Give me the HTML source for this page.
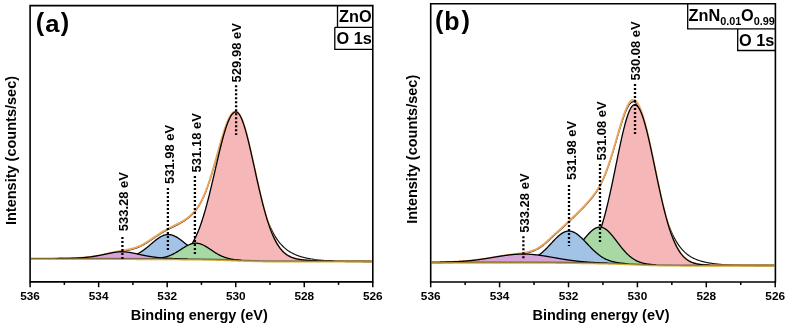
<!DOCTYPE html>
<html><head><meta charset="utf-8"><style>
html,body{margin:0;padding:0;background:#fff;}
svg{display:block;will-change:transform;}
text{font-family:"Liberation Sans",sans-serif;font-weight:bold;fill:#000;}
.lab{font-size:13px;}
.tick{font-size:11.8px;}
.ax{font-size:14.5px;}
.big{font-size:25px;}
.par{font-size:25.3px;}
.box{font-size:16.3px;}
</style></head><body>
<svg width="789" height="328" viewBox="0 0 789 328">
<rect width="789" height="328" fill="#fff"/>
<path d="M31.10,259.37 L31.60,259.37 L32.10,259.36 L32.60,259.36 L33.10,259.36 L33.60,259.36 L34.10,259.36 L34.60,259.36 L35.10,259.36 L35.60,259.36 L36.10,259.36 L36.60,259.35 L37.10,259.35 L37.60,259.35 L38.10,259.35 L38.60,259.35 L39.10,259.35 L39.60,259.35 L40.10,259.34 L40.60,259.34 L41.10,259.34 L41.60,259.34 L42.10,259.34 L42.60,259.33 L43.10,259.33 L43.60,259.33 L44.10,259.33 L44.60,259.33 L45.10,259.32 L45.60,259.32 L46.10,259.32 L46.60,259.32 L47.10,259.31 L47.60,259.31 L48.10,259.31 L48.60,259.31 L49.10,259.30 L49.60,259.30 L50.10,259.30 L50.60,259.29 L51.10,259.29 L51.60,259.29 L52.10,259.28 L52.60,259.28 L53.10,259.28 L53.60,259.27 L54.10,259.27 L54.60,259.26 L55.10,259.26 L55.60,259.26 L56.10,259.25 L56.60,259.25 L57.10,259.24 L57.60,259.24 L58.10,259.23 L58.60,259.22 L59.10,259.22 L59.60,259.21 L60.10,259.21 L60.60,259.20 L61.10,259.19 L61.60,259.19 L62.10,259.18 L62.60,259.17 L63.10,259.16 L63.60,259.15 L64.10,259.15 L64.60,259.14 L65.10,259.13 L65.60,259.12 L66.10,259.11 L66.60,259.10 L67.10,259.08 L67.60,259.07 L68.10,259.06 L68.60,259.05 L69.10,259.04 L69.60,259.02 L70.10,259.01 L70.60,258.99 L71.10,258.98 L71.60,258.96 L72.10,258.94 L72.60,258.93 L73.10,258.91 L73.60,258.89 L74.10,258.87 L74.60,258.85 L75.10,258.83 L75.60,258.80 L76.10,258.78 L76.60,258.76 L77.10,258.73 L77.60,258.70 L78.10,258.68 L78.60,258.65 L79.10,258.62 L79.60,258.59 L80.10,258.55 L80.60,258.52 L81.10,258.49 L81.60,258.45 L82.10,258.41 L82.60,258.37 L83.10,258.33 L83.60,258.29 L84.10,258.25 L84.60,258.20 L85.10,258.16 L85.60,258.11 L86.10,258.06 L86.60,258.01 L87.10,257.96 L87.60,257.90 L88.10,257.85 L88.60,257.79 L89.10,257.73 L89.60,257.67 L90.10,257.61 L90.60,257.54 L91.10,257.48 L91.60,257.41 L92.10,257.34 L92.60,257.26 L93.10,257.19 L93.60,257.11 L94.10,257.04 L94.60,256.96 L95.10,256.88 L95.60,256.79 L96.10,256.71 L96.60,256.62 L97.10,256.53 L97.60,256.44 L98.10,256.35 L98.60,256.26 L99.10,256.16 L99.60,256.06 L100.10,255.97 L100.60,255.87 L101.10,255.76 L101.60,255.66 L102.10,255.56 L102.60,255.45 L103.10,255.34 L103.60,255.23 L104.10,255.13 L104.60,255.01 L105.10,254.90 L105.60,254.79 L106.10,254.68 L106.60,254.56 L107.10,254.45 L107.60,254.33 L108.10,254.22 L108.60,254.10 L109.10,253.99 L109.60,253.87 L110.10,253.75 L110.60,253.64 L111.10,253.52 L111.60,253.41 L112.10,253.29 L112.60,253.18 L113.10,253.06 L113.60,252.95 L114.10,252.84 L114.60,252.73 L115.10,252.62 L115.60,252.52 L116.10,252.41 L116.60,252.31 L117.10,252.20 L117.60,252.10 L118.10,252.01 L118.60,251.91 L119.10,251.81 L119.60,251.72 L120.10,251.63 L120.60,251.54 L121.10,251.45 L121.60,251.36 L122.10,251.27 L122.60,251.19 L123.10,251.10 L123.60,251.02 L124.10,250.94 L124.60,250.85 L125.10,250.77 L125.60,250.68 L126.10,250.60 L126.60,250.51 L127.10,250.42 L127.60,250.33 L128.10,250.23 L128.60,250.14 L129.10,250.04 L129.60,249.93 L130.10,249.83 L130.60,249.72 L131.10,249.60 L131.60,249.48 L132.10,249.35 L132.60,249.22 L133.10,249.09 L133.60,248.94 L134.10,248.79 L134.60,248.64 L135.10,248.48 L135.60,248.31 L136.10,248.13 L136.60,247.95 L137.10,247.76 L137.60,247.57 L138.10,247.37 L138.60,247.16 L139.10,246.94 L139.60,246.72 L140.10,246.49 L140.60,246.25 L141.10,246.01 L141.60,245.76 L142.10,245.51 L142.60,245.24 L143.10,244.98 L143.60,244.70 L144.10,244.42 L144.60,244.14 L145.10,243.85 L145.60,243.55 L146.10,243.25 L146.60,242.94 L147.10,242.63 L147.60,242.32 L148.10,242.00 L148.60,241.68 L149.10,241.35 L149.60,241.03 L150.10,240.70 L150.60,240.36 L151.10,240.03 L151.60,239.69 L152.10,239.35 L152.60,239.01 L153.10,238.67 L153.60,238.33 L154.10,237.99 L154.60,237.65 L155.10,237.30 L155.60,236.96 L156.10,236.62 L156.60,236.29 L157.10,235.95 L157.60,235.62 L158.10,235.28 L158.60,234.95 L159.10,234.63 L159.60,234.30 L160.10,233.98 L160.60,233.66 L161.10,233.35 L161.60,233.04 L162.10,232.73 L162.60,232.43 L163.10,232.13 L163.60,231.84 L164.10,231.55 L164.60,231.26 L165.10,230.98 L165.60,230.70 L166.10,230.43 L166.60,230.16 L167.10,229.90 L167.60,229.63 L168.10,229.38 L168.60,229.12 L169.10,228.87 L169.60,228.62 L170.10,228.37 L170.60,228.12 L171.10,227.88 L171.60,227.63 L172.10,227.39 L172.60,227.14 L173.10,226.90 L173.60,226.65 L174.10,226.40 L174.60,226.16 L175.10,225.91 L175.60,225.66 L176.10,225.41 L176.60,225.16 L177.10,224.90 L177.60,224.65 L178.10,224.39 L178.60,224.12 L179.10,223.86 L179.60,223.59 L180.10,223.31 L180.60,223.04 L181.10,222.75 L181.60,222.47 L182.10,222.17 L182.60,221.88 L183.10,221.57 L183.60,221.26 L184.10,220.95 L184.60,220.63 L185.10,220.29 L185.60,219.96 L186.10,219.61 L186.60,219.26 L187.10,218.89 L187.60,218.52 L188.10,218.13 L188.60,217.74 L189.10,217.33 L189.60,216.91 L190.10,216.48 L190.60,216.04 L191.10,215.58 L191.60,215.10 L192.10,214.61 L192.60,214.11 L193.10,213.58 L193.60,213.04 L194.10,212.48 L194.60,211.89 L195.10,211.29 L195.60,210.66 L196.10,210.01 L196.60,209.34 L197.10,208.64 L197.60,207.92 L198.10,207.17 L198.60,206.39 L199.10,205.58 L199.60,204.75 L200.10,203.88 L200.60,202.98 L201.10,202.05 L201.60,201.09 L202.10,200.09 L202.60,199.07 L203.10,198.00 L203.60,196.91 L204.10,195.77 L204.60,194.61 L205.10,193.40 L205.60,192.17 L206.10,190.89 L206.60,189.59 L207.10,188.24 L207.60,186.87 L208.10,185.46 L208.60,184.01 L209.10,182.54 L209.60,181.03 L210.10,179.49 L210.60,177.92 L211.10,176.33 L211.60,174.70 L212.10,173.06 L212.60,171.38 L213.10,169.69 L213.60,167.97 L214.10,166.24 L214.60,164.49 L215.10,162.73 L215.60,160.96 L216.10,159.17 L216.60,157.38 L217.10,155.59 L217.60,153.79 L218.10,151.99 L218.60,150.20 L219.10,148.42 L219.60,146.64 L220.10,144.88 L220.60,143.13 L221.10,141.40 L221.60,139.70 L222.10,138.01 L222.60,136.36 L223.10,134.74 L223.60,133.15 L224.10,131.60 L224.60,130.08 L225.10,128.62 L225.60,127.19 L226.10,125.82 L226.60,124.50 L227.10,123.23 L227.60,122.02 L228.10,120.87 L228.60,119.78 L229.10,118.75 L229.60,117.79 L230.10,116.90 L230.60,116.09 L231.10,115.34 L231.60,114.67 L232.10,114.07 L232.60,113.56 L233.10,113.12 L233.60,112.76 L234.10,112.48 L234.60,112.28 L235.10,112.17 L235.60,112.14 L236.10,112.20 L236.60,112.38 L237.10,112.71 L237.60,113.17 L238.10,113.76 L238.60,114.48 L239.10,115.34 L239.60,116.32 L240.10,117.41 L240.60,118.63 L241.10,119.95 L241.60,121.39 L242.10,122.91 L242.60,124.54 L243.10,126.25 L243.60,128.04 L244.10,129.90 L244.60,131.83 L245.10,133.82 L245.60,135.87 L246.10,137.96 L246.60,140.10 L247.10,142.27 L247.60,144.47 L248.10,146.70 L248.60,148.95 L249.10,151.21 L249.60,153.48 L250.10,155.75 L250.60,158.03 L251.10,160.31 L251.60,162.58 L252.10,164.84 L252.60,167.08 L253.10,169.31 L253.60,171.52 L254.10,173.72 L254.60,175.88 L255.10,178.03 L255.60,180.14 L256.10,182.23 L256.60,184.29 L257.10,186.32 L257.60,188.32 L258.10,190.28 L258.60,192.21 L259.10,194.10 L259.60,195.96 L260.10,197.78 L260.60,199.57 L261.10,201.32 L261.60,203.04 L262.10,204.72 L262.60,206.36 L263.10,207.96 L263.60,209.53 L264.10,211.06 L264.60,212.56 L265.10,214.02 L265.60,215.44 L266.10,216.83 L266.60,218.18 L267.10,219.50 L267.60,220.79 L268.10,222.04 L268.60,223.25 L269.10,224.44 L269.60,225.59 L270.10,226.71 L270.60,227.79 L271.10,228.85 L271.60,229.88 L272.10,230.87 L272.60,231.84 L273.10,232.78 L273.60,233.69 L274.10,234.58 L274.60,235.43 L275.10,236.26 L275.60,237.07 L276.10,237.85 L276.60,238.61 L277.10,239.34 L277.60,240.05 L278.10,240.74 L278.60,241.40 L279.10,242.05 L279.60,242.67 L280.10,243.28 L280.60,243.86 L281.10,244.42 L281.60,244.97 L282.10,245.50 L282.60,246.01 L283.10,246.51 L283.60,246.98 L284.10,247.45 L284.60,247.89 L285.10,248.33 L285.60,248.74 L286.10,249.15 L286.60,249.54 L287.10,249.92 L287.60,250.28 L288.10,250.64 L288.60,250.98 L289.10,251.31 L289.60,251.63 L290.10,251.94 L290.60,252.24 L291.10,252.53 L291.60,252.81 L292.10,253.08 L292.60,253.34 L293.10,253.59 L293.60,253.84 L294.10,254.08 L294.60,254.31 L295.10,254.53 L295.60,254.74 L296.10,254.95 L296.60,255.16 L297.10,255.35 L297.60,255.54 L298.10,255.72 L298.60,255.90 L299.10,256.07 L299.60,256.24 L300.10,256.40 L300.60,256.56 L301.10,256.71 L301.60,256.86 L302.10,257.00 L302.60,257.14 L303.10,257.28 L303.60,257.41 L304.10,257.54 L304.60,257.66 L305.10,257.78 L305.60,257.90 L306.10,258.01 L306.60,258.12 L307.10,258.22 L307.60,258.33 L308.10,258.43 L308.60,258.53 L309.10,258.62 L309.60,258.71 L310.10,258.80 L310.60,258.89 L311.10,258.97 L311.60,259.06 L312.10,259.14 L312.60,259.21 L313.10,259.29 L313.60,259.36 L314.10,259.43 L314.60,259.50 L315.10,259.57 L315.60,259.64 L316.10,259.70 L316.60,259.76 L317.10,259.82 L317.60,259.88 L318.10,259.94 L318.60,260.00 L319.10,260.05 L319.60,260.10 L320.10,260.15 L320.60,260.20 L321.10,260.25 L321.60,260.30 L322.10,260.34 L322.60,260.39 L323.10,260.43 L323.60,260.47 L324.10,260.52 L324.60,260.56 L325.10,260.59 L325.60,260.63 L326.10,260.67 L326.60,260.70 L327.10,260.74 L327.60,260.77 L328.10,260.81 L328.60,260.84 L329.10,260.87 L329.60,260.90 L330.10,260.93 L330.60,260.96 L331.10,260.98 L331.60,261.01 L332.10,261.04 L332.60,261.06 L333.10,261.09 L333.60,261.11 L334.10,261.14 L334.60,261.16 L335.10,261.18 L335.60,261.20 L336.10,261.22 L336.60,261.24 L337.10,261.26 L337.60,261.28 L338.10,261.30 L338.60,261.32 L339.10,261.34 L339.60,261.35 L340.10,261.37 L340.60,261.39 L341.10,261.40 L341.60,261.42 L342.10,261.43 L342.60,261.45 L343.10,261.46 L343.60,261.48 L344.10,261.49 L344.60,261.50 L345.10,261.51 L345.60,261.53 L346.10,261.54 L346.60,261.55 L347.10,261.56 L347.60,261.57 L348.10,261.58 L348.60,261.59 L349.10,261.60 L349.60,261.61 L350.10,261.62 L350.60,261.63 L351.10,261.64 L351.60,261.65 L352.10,261.65 L352.60,261.66 L353.10,261.67 L353.60,261.68 L354.10,261.68 L354.60,261.69 L355.10,261.70 L355.60,261.70 L356.10,261.71 L356.60,261.72 L357.10,261.72 L357.60,261.73 L358.10,261.73 L358.60,261.74 L359.10,261.75 L359.60,261.75 L360.10,261.76 L360.60,261.76 L361.10,261.76 L361.60,261.77 L362.10,261.77 L362.60,261.78 L363.10,261.78 L363.60,261.79 L364.10,261.79 L364.60,261.79 L365.10,261.80 L365.60,261.80 L366.10,261.80 L366.60,261.81 L367.10,261.81 L367.60,261.81 L368.10,261.82 L368.60,261.82 L369.10,261.82 L369.60,261.83 L370.10,261.83 L370.60,261.83 L371.10,261.83 L371.60,261.84" fill="none" stroke="#151515" stroke-width="1.2"/>
<path d="M31.10,258.67 L31.60,258.67 L32.10,258.66 L32.60,258.66 L33.10,258.66 L33.60,258.66 L34.10,258.66 L34.60,258.66 L35.10,258.66 L35.60,258.66 L36.10,258.66 L36.60,258.65 L37.10,258.65 L37.60,258.65 L38.10,258.65 L38.60,258.65 L39.10,258.65 L39.60,258.65 L40.10,258.64 L40.60,258.64 L41.10,258.64 L41.60,258.64 L42.10,258.64 L42.60,258.63 L43.10,258.63 L43.60,258.63 L44.10,258.63 L44.60,258.63 L45.10,258.62 L45.60,258.62 L46.10,258.62 L46.60,258.62 L47.10,258.61 L47.60,258.61 L48.10,258.61 L48.60,258.61 L49.10,258.60 L49.60,258.60 L50.10,258.60 L50.60,258.59 L51.10,258.59 L51.60,258.59 L52.10,258.58 L52.60,258.58 L53.10,258.58 L53.60,258.57 L54.10,258.57 L54.60,258.56 L55.10,258.56 L55.60,258.56 L56.10,258.55 L56.60,258.55 L57.10,258.54 L57.60,258.54 L58.10,258.53 L58.60,258.52 L59.10,258.52 L59.60,258.51 L60.10,258.51 L60.60,258.50 L61.10,258.49 L61.60,258.49 L62.10,258.48 L62.60,258.47 L63.10,258.46 L63.60,258.45 L64.10,258.45 L64.60,258.44 L65.10,258.43 L65.60,258.42 L66.10,258.41 L66.60,258.40 L67.10,258.38 L67.60,258.37 L68.10,258.36 L68.60,258.35 L69.10,258.34 L69.60,258.32 L70.10,258.31 L70.60,258.29 L71.10,258.28 L71.60,258.26 L72.10,258.24 L72.60,258.23 L73.10,258.21 L73.60,258.19 L74.10,258.17 L74.60,258.15 L75.10,258.13 L75.60,258.10 L76.10,258.08 L76.60,258.06 L77.10,258.03 L77.60,258.00 L78.10,257.98 L78.60,257.95 L79.10,257.92 L79.60,257.89 L80.10,257.85 L80.60,257.82 L81.10,257.79 L81.60,257.75 L82.10,257.71 L82.60,257.67 L83.10,257.63 L83.60,257.59 L84.10,257.55 L84.60,257.50 L85.10,257.46 L85.60,257.41 L86.10,257.36 L86.60,257.31 L87.10,257.26 L87.60,257.20 L88.10,257.15 L88.60,257.09 L89.10,257.03 L89.60,256.97 L90.10,256.91 L90.60,256.84 L91.10,256.78 L91.60,256.71 L92.10,256.64 L92.60,256.56 L93.10,256.49 L93.60,256.41 L94.10,256.34 L94.60,256.26 L95.10,256.18 L95.60,256.09 L96.10,256.01 L96.60,255.92 L97.10,255.83 L97.60,255.74 L98.10,255.65 L98.60,255.56 L99.10,255.46 L99.60,255.36 L100.10,255.27 L100.60,255.17 L101.10,255.06 L101.60,254.96 L102.10,254.86 L102.60,254.75 L103.10,254.64 L103.60,254.53 L104.10,254.43 L104.60,254.31 L105.10,254.20 L105.60,254.09 L106.10,253.98 L106.60,253.86 L107.10,253.75 L107.60,253.63 L108.10,253.52 L108.60,253.40 L109.10,253.29 L109.60,253.17 L110.10,253.05 L110.60,252.94 L111.10,252.82 L111.60,252.71 L112.10,252.59 L112.60,252.48 L113.10,252.36 L113.60,252.25 L114.10,252.14 L114.60,252.03 L115.10,251.92 L115.60,251.82 L116.10,251.71 L116.60,251.61 L117.10,251.50 L117.60,251.40 L118.10,251.31 L118.60,251.21 L119.10,251.11 L119.60,251.02 L120.10,250.93 L120.60,250.84 L121.10,250.75 L121.60,250.66 L122.10,250.57 L122.60,250.49 L123.10,250.40 L123.60,250.32 L124.10,250.24 L124.60,250.15 L125.10,250.07 L125.60,249.98 L126.10,249.90 L126.60,249.81 L127.10,249.72 L127.60,249.63 L128.10,249.53 L128.60,249.44 L129.10,249.34 L129.60,249.23 L130.10,249.13 L130.60,249.02 L131.10,248.90 L131.60,248.78 L132.10,248.65 L132.60,248.52 L133.10,248.39 L133.60,248.24 L134.10,248.09 L134.60,247.94 L135.10,247.78 L135.60,247.61 L136.10,247.43 L136.60,247.25 L137.10,247.06 L137.60,246.87 L138.10,246.67 L138.60,246.46 L139.10,246.24 L139.60,246.02 L140.10,245.79 L140.60,245.55 L141.10,245.31 L141.60,245.06 L142.10,244.81 L142.60,244.54 L143.10,244.28 L143.60,244.00 L144.10,243.72 L144.60,243.44 L145.10,243.15 L145.60,242.85 L146.10,242.55 L146.60,242.24 L147.10,241.93 L147.60,241.62 L148.10,241.30 L148.60,240.98 L149.10,240.65 L149.60,240.33 L150.10,240.00 L150.60,239.66 L151.10,239.33 L151.60,238.99 L152.10,238.65 L152.60,238.31 L153.10,237.97 L153.60,237.63 L154.10,237.29 L154.60,236.95 L155.10,236.60 L155.60,236.26 L156.10,235.92 L156.60,235.59 L157.10,235.25 L157.60,234.92 L158.10,234.58 L158.60,234.25 L159.10,233.93 L159.60,233.60 L160.10,233.28 L160.60,232.96 L161.10,232.65 L161.60,232.34 L162.10,232.03 L162.60,231.73 L163.10,231.43 L163.60,231.14 L164.10,230.85 L164.60,230.56 L165.10,230.28 L165.60,230.00 L166.10,229.73 L166.60,229.46 L167.10,229.20 L167.60,228.93 L168.10,228.68 L168.60,228.42 L169.10,228.17 L169.60,227.92 L170.10,227.67 L170.60,227.42 L171.10,227.18 L171.60,226.93 L172.10,226.69 L172.60,226.44 L173.10,226.20 L173.60,225.95 L174.10,225.70 L174.60,225.46 L175.10,225.21 L175.60,224.96 L176.10,224.71 L176.60,224.46 L177.10,224.20 L177.60,223.95 L178.10,223.69 L178.60,223.42 L179.10,223.16 L179.60,222.89 L180.10,222.61 L180.60,222.34 L181.10,222.05 L181.60,221.77 L182.10,221.47 L182.60,221.18 L183.10,220.87 L183.60,220.56 L184.10,220.25 L184.60,219.93 L185.10,219.59 L185.60,219.26 L186.10,218.91 L186.60,218.56 L187.10,218.19 L187.60,217.82 L188.10,217.43 L188.60,217.04 L189.10,216.63 L189.60,216.21 L190.10,215.78 L190.60,215.34 L191.10,214.88 L191.60,214.40 L192.10,213.91 L192.60,213.41 L193.10,212.88 L193.60,212.34 L194.10,211.78 L194.60,211.19 L195.10,210.59 L195.60,209.96 L196.10,209.31 L196.60,208.64 L197.10,207.94 L197.60,207.22 L198.10,206.47 L198.60,205.69 L199.10,204.88 L199.60,204.05 L200.10,203.18 L200.60,202.28 L201.10,201.35 L201.60,200.39 L202.10,199.39 L202.60,198.37 L203.10,197.30 L203.60,196.21 L204.10,195.07 L204.60,193.91 L205.10,192.70 L205.60,191.47 L206.10,190.19 L206.60,188.89 L207.10,187.54 L207.60,186.17 L208.10,184.76 L208.60,183.31 L209.10,181.84 L209.60,180.33 L210.10,178.79 L210.60,177.22 L211.10,175.63 L211.60,174.00 L212.10,172.36 L212.60,170.68 L213.10,168.99 L213.60,167.27 L214.10,165.54 L214.60,163.79 L215.10,162.03 L215.60,160.26 L216.10,158.47 L216.60,156.68 L217.10,154.89 L217.60,153.09 L218.10,151.29 L218.60,149.50 L219.10,147.72 L219.60,145.94 L220.10,144.18 L220.60,142.43 L221.10,140.70 L221.60,139.00 L222.10,137.31 L222.60,135.66 L223.10,134.04 L223.60,132.45 L224.10,130.90 L224.60,129.38 L225.10,127.92 L225.60,126.49 L226.10,125.12 L226.60,123.80 L227.10,122.53 L227.60,121.32 L228.10,120.17 L228.60,119.08 L229.10,118.05 L229.60,117.09 L230.10,116.20 L230.60,115.39 L231.10,114.64 L231.60,113.97 L232.10,113.37 L232.60,112.86 L233.10,112.42 L233.60,112.06 L234.10,111.78 L234.60,111.58 L235.10,111.47 L235.60,111.44 L236.10,111.49 L236.60,111.65 L237.10,111.91 L237.60,112.26 L238.10,112.72 L238.60,113.29 L239.10,113.95 L239.60,114.70 L240.10,115.56 L240.60,116.51 L241.10,117.55 L241.60,118.67 L242.10,119.89 L242.60,121.19 L243.10,122.57 L243.60,124.03 L244.10,125.56 L244.60,127.17 L245.10,128.84 L245.60,130.57 L246.10,132.37 L246.60,134.22 L247.10,136.13 L247.60,138.09 L248.10,140.09 L248.60,142.13 L249.10,144.22 L249.60,146.34 L250.10,148.49 L250.60,150.66 L251.10,152.87 L251.60,155.09 L252.10,157.33 L252.60,159.59 L253.10,161.85 L253.60,164.13 L254.10,166.41 L254.60,168.69 L255.10,170.97 L255.60,173.24 L256.10,175.51 L256.60,177.77 L257.10,180.01 L257.60,182.25 L258.10,184.46 L258.60,186.66 L259.10,188.84 L259.60,190.99 L260.10,193.12 L260.60,195.22 L261.10,197.29 L261.60,199.34 L262.10,201.35 L262.60,203.33 L263.10,205.27 L263.60,207.18 L264.10,209.05 L264.60,210.89 L265.10,212.69 L265.60,214.45 L266.10,216.17 L266.60,217.85 L267.10,219.49 L267.60,221.08 L268.10,222.64 L268.60,224.16 L269.10,225.64 L269.60,227.07 L270.10,228.46 L270.60,229.81 L271.10,231.13 L271.60,232.40 L272.10,233.63 L272.60,234.82 L273.10,235.97 L273.60,237.08 L274.10,238.15 L274.60,239.19 L275.10,240.19 L275.60,241.15 L276.10,242.07 L276.60,242.96 L277.10,243.82 L277.60,244.64 L278.10,245.43 L278.60,246.19 L279.10,246.91 L279.60,247.61 L280.10,248.27 L280.60,248.91 L281.10,249.52 L281.60,250.10 L282.10,250.66 L282.60,251.19 L283.10,251.70 L283.60,252.18 L284.10,252.64 L284.60,253.08 L285.10,253.49 L285.60,253.89 L286.10,254.27 L286.60,254.63 L287.10,254.97 L287.60,255.29 L288.10,255.60 L288.60,255.89 L289.10,256.16 L289.60,256.42 L290.10,256.67 L290.60,256.90 L291.10,257.13 L291.60,257.34 L292.10,257.53 L292.60,257.72 L293.10,257.90 L293.60,258.07 L294.10,258.23 L294.60,258.38 L295.10,258.52 L295.60,258.65 L296.10,258.78 L296.60,258.90 L297.10,259.01 L297.60,259.11 L298.10,259.21 L298.60,259.31 L299.10,259.40 L299.60,259.48 L300.10,259.56 L300.60,259.64 L301.10,259.71 L301.60,259.77 L302.10,259.84 L302.60,259.90 L303.10,259.95 L303.60,260.01 L304.10,260.06 L304.60,260.10 L305.10,260.15 L305.60,260.19 L306.10,260.23 L306.60,260.27 L307.10,260.31 L307.60,260.34 L308.10,260.37 L308.60,260.41 L309.10,260.44 L309.60,260.46 L310.10,260.49 L310.60,260.52 L311.10,260.54 L311.60,260.56 L312.10,260.59 L312.60,260.61 L313.10,260.63 L313.60,260.65 L314.10,260.67 L314.60,260.68 L315.10,260.70 L315.60,260.72 L316.10,260.73 L316.60,260.75 L317.10,260.76 L317.60,260.78 L318.10,260.79 L318.60,260.80 L319.10,260.81 L319.60,260.83 L320.10,260.84 L320.60,260.85 L321.10,260.86 L321.60,260.87 L322.10,260.88 L322.60,260.89 L323.10,260.90 L323.60,260.91 L324.10,260.92 L324.60,260.93 L325.10,260.93 L325.60,260.94 L326.10,260.95 L326.60,260.96 L327.10,260.96 L327.60,260.97 L328.10,260.98 L328.60,260.99 L329.10,260.99 L329.60,261.00 L330.10,261.00 L330.60,261.01 L331.10,261.02 L331.60,261.02 L332.10,261.03 L332.60,261.03 L333.10,261.04 L333.60,261.04 L334.10,261.05 L334.60,261.05 L335.10,261.06 L335.60,261.06 L336.10,261.06 L336.60,261.07 L337.10,261.07 L337.60,261.08 L338.10,261.08 L338.60,261.08 L339.10,261.09 L339.60,261.09 L340.10,261.09 L340.60,261.10 L341.10,261.10 L341.60,261.10 L342.10,261.11 L342.60,261.11 L343.10,261.11 L343.60,261.11 L344.10,261.12 L344.60,261.12 L345.10,261.12 L345.60,261.12 L346.10,261.13 L346.60,261.13 L347.10,261.13 L347.60,261.13 L348.10,261.14 L348.60,261.14 L349.10,261.14 L349.60,261.14 L350.10,261.14 L350.60,261.15 L351.10,261.15 L351.60,261.15 L352.10,261.15 L352.60,261.15 L353.10,261.15 L353.60,261.16 L354.10,261.16 L354.60,261.16 L355.10,261.16 L355.60,261.16 L356.10,261.16 L356.60,261.16 L357.10,261.16 L357.60,261.17 L358.10,261.17 L358.60,261.17 L359.10,261.17 L359.60,261.17 L360.10,261.17 L360.60,261.17 L361.10,261.17 L361.60,261.17 L362.10,261.17 L362.60,261.18 L363.10,261.18 L363.60,261.18 L364.10,261.18 L364.60,261.18 L365.10,261.18 L365.60,261.18 L366.10,261.18 L366.60,261.18 L367.10,261.18 L367.60,261.18 L368.10,261.18 L368.60,261.18 L369.10,261.18 L369.60,261.19 L370.10,261.19 L370.60,261.19 L371.10,261.19 L371.60,261.19" fill="none" stroke="#EBA55C" stroke-width="1.9"/>
<path d="M159.60,258.71 L160.10,258.70 L160.60,258.69 L161.10,258.67 L161.60,258.66 L162.10,258.64 L162.60,258.62 L163.10,258.60 L163.60,258.58 L164.10,258.55 L164.60,258.52 L165.10,258.49 L165.60,258.46 L166.10,258.43 L166.60,258.39 L167.10,258.35 L167.60,258.30 L168.10,258.26 L168.60,258.20 L169.10,258.15 L169.60,258.09 L170.10,258.02 L170.60,257.95 L171.10,257.88 L171.60,257.80 L172.10,257.71 L172.60,257.62 L173.10,257.52 L173.60,257.41 L174.10,257.30 L174.60,257.18 L175.10,257.05 L175.60,256.91 L176.10,256.76 L176.60,256.61 L177.10,256.44 L177.60,256.26 L178.10,256.07 L178.60,255.87 L179.10,255.66 L179.60,255.43 L180.10,255.19 L180.60,254.94 L181.10,254.67 L181.60,254.38 L182.10,254.08 L182.60,253.76 L183.10,253.43 L183.60,253.08 L184.10,252.70 L184.60,252.31 L185.10,251.90 L185.60,251.47 L186.10,251.01 L186.60,250.53 L187.10,250.03 L187.60,249.50 L188.10,248.95 L188.60,248.37 L189.10,247.77 L189.60,247.14 L190.10,246.48 L190.60,245.79 L191.10,245.07 L191.60,244.32 L192.10,243.54 L192.60,242.73 L193.10,241.88 L193.60,241.00 L194.10,240.09 L194.60,239.14 L195.10,238.16 L195.60,237.14 L196.10,236.09 L196.60,234.99 L197.10,233.86 L197.60,232.70 L198.10,231.49 L198.60,230.25 L199.10,228.97 L199.60,227.65 L200.10,226.29 L200.60,224.90 L201.10,223.46 L201.60,221.99 L202.10,220.47 L202.60,218.92 L203.10,217.34 L203.60,215.71 L204.10,214.05 L204.60,212.35 L205.10,210.61 L205.60,208.84 L206.10,207.04 L206.60,205.20 L207.10,203.33 L207.60,201.43 L208.10,199.51 L208.60,197.55 L209.10,195.56 L209.60,193.55 L210.10,191.52 L210.60,189.46 L211.10,187.38 L211.60,185.29 L212.10,183.18 L212.60,181.05 L213.10,178.91 L213.60,176.76 L214.10,174.61 L214.60,172.44 L215.10,170.28 L215.60,168.11 L216.10,165.95 L216.60,163.79 L217.10,161.63 L217.60,159.49 L218.10,157.36 L218.60,155.25 L219.10,153.15 L219.60,151.08 L220.10,149.03 L220.60,147.01 L221.10,145.01 L221.60,143.05 L222.10,141.13 L222.60,139.25 L223.10,137.40 L223.60,135.60 L224.10,133.85 L224.60,132.15 L225.10,130.50 L225.60,128.90 L226.10,127.37 L226.60,125.89 L227.10,124.48 L227.60,123.13 L228.10,121.85 L228.60,120.64 L229.10,119.50 L229.60,118.44 L230.10,117.45 L230.60,116.53 L231.10,115.70 L231.60,114.94 L232.10,114.27 L232.60,113.68 L233.10,113.18 L233.60,112.76 L234.10,112.42 L234.60,112.17 L235.10,112.01 L235.60,111.93 L236.10,111.94 L236.60,112.06 L237.10,112.28 L237.60,112.60 L238.10,113.03 L238.60,113.57 L239.10,114.20 L239.60,114.94 L240.10,115.77 L240.60,116.70 L241.10,117.72 L241.60,118.83 L242.10,120.03 L242.60,121.32 L243.10,122.69 L243.60,124.13 L244.10,125.65 L244.60,127.25 L245.10,128.91 L245.60,130.64 L246.10,132.43 L246.60,134.28 L247.10,136.18 L247.60,138.13 L248.10,140.13 L248.60,142.17 L249.10,144.25 L249.60,146.36 L250.10,148.51 L250.60,150.69 L251.10,152.89 L251.60,155.11 L252.10,157.35 L252.60,159.60 L253.10,161.87 L253.60,164.14 L254.10,166.42 L254.60,168.69 L255.10,170.97 L255.60,173.25 L256.10,175.52 L256.60,177.77 L257.10,180.02 L257.60,182.25 L258.10,184.47 L258.60,186.66 L259.10,188.84 L259.60,190.99 L260.10,193.12 L260.60,195.22 L261.10,197.30 L261.60,199.34 L262.10,201.35 L262.60,203.33 L263.10,205.27 L263.60,207.18 L264.10,209.05 L264.60,210.89 L265.10,212.69 L265.60,214.45 L266.10,216.17 L266.60,217.85 L267.10,219.49 L267.60,221.09 L268.10,222.64 L268.60,224.16 L269.10,225.64 L269.60,227.07 L270.10,228.46 L270.60,229.82 L271.10,231.13 L271.60,232.40 L272.10,233.63 L272.60,234.82 L273.10,235.97 L273.60,237.08 L274.10,238.15 L274.60,239.19 L275.10,240.19 L275.60,241.15 L276.10,242.07 L276.60,242.96 L277.10,243.82 L277.60,244.64 L278.10,245.43 L278.60,246.19 L279.10,246.91 L279.60,247.61 L280.10,248.27 L280.60,248.91 L281.10,249.52 L281.60,250.10 L282.10,250.66 L282.60,251.19 L283.10,251.70 L283.60,252.18 L284.10,252.64 L284.60,253.08 L285.10,253.49 L285.60,253.89 L286.10,254.27 L286.60,254.63 L287.10,254.97 L287.60,255.29 L288.10,255.60 L288.60,255.89 L289.10,256.16 L289.60,256.42 L290.10,256.67 L290.60,256.90 L291.10,257.13 L291.60,257.34 L292.10,257.53 L292.60,257.72 L293.10,257.90 L293.60,258.07 L294.10,258.23 L294.60,258.38 L295.10,258.52 L295.60,258.65 L296.10,258.78 L296.60,258.90 L297.10,259.01 L297.60,259.11 L298.10,259.21 L298.60,259.31 L299.10,259.40 L299.60,259.48 L300.10,259.56 L300.60,259.64 L301.10,259.71 L301.60,259.77 L302.10,259.84 L302.60,259.90 L303.10,259.95 L303.60,260.01 L304.10,260.06 L304.60,260.10 L305.10,260.15 L305.60,260.19 L306.10,260.23 L306.60,260.27 L307.10,260.31 L307.60,260.34 L308.10,260.37 L308.60,260.41 L309.10,260.44 L309.60,260.46 L310.10,260.49 L310.60,260.52 L311.10,260.54 L311.60,260.56 L312.10,260.59 L312.60,260.61 L313.10,260.63 L313.60,260.65 L314.10,260.67 L314.60,260.68 L315.10,260.70 L315.60,260.72 L316.10,260.73 L316.60,260.75 L317.10,260.76 L317.60,260.78 L318.10,260.79 L318.60,260.80 L319.10,260.81 L319.60,260.83 L320.10,260.84 L320.60,260.85 L321.10,260.86 L321.60,260.87 L322.10,260.88 L322.60,260.89 L323.10,260.90 L323.60,260.91 L324.10,260.92 L324.60,260.93 L325.10,260.93 L325.60,260.94 L326.10,260.95 L326.60,260.96 L327.10,260.96 L327.60,260.97 L328.10,260.98 L328.60,260.99 L329.10,260.99 L329.60,261.00 L330.10,261.00 L330.60,261.01 L331.10,261.02 L331.60,261.02 L332.10,261.03 L332.60,261.03 L333.10,261.04 L333.60,261.04 L334.10,261.05 L334.10,261.20 L159.60,258.87 Z" fill="#F5B7B7" stroke="none"/>
<path d="M159.60,258.71 L160.10,258.70 L160.60,258.69 L161.10,258.67 L161.60,258.66 L162.10,258.64 L162.60,258.62 L163.10,258.60 L163.60,258.58 L164.10,258.55 L164.60,258.52 L165.10,258.49 L165.60,258.46 L166.10,258.43 L166.60,258.39 L167.10,258.35 L167.60,258.30 L168.10,258.26 L168.60,258.20 L169.10,258.15 L169.60,258.09 L170.10,258.02 L170.60,257.95 L171.10,257.88 L171.60,257.80 L172.10,257.71 L172.60,257.62 L173.10,257.52 L173.60,257.41 L174.10,257.30 L174.60,257.18 L175.10,257.05 L175.60,256.91 L176.10,256.76 L176.60,256.61 L177.10,256.44 L177.60,256.26 L178.10,256.07 L178.60,255.87 L179.10,255.66 L179.60,255.43 L180.10,255.19 L180.60,254.94 L181.10,254.67 L181.60,254.38 L182.10,254.08 L182.60,253.76 L183.10,253.43 L183.60,253.08 L184.10,252.70 L184.60,252.31 L185.10,251.90 L185.60,251.47 L186.10,251.01 L186.60,250.53 L187.10,250.03 L187.60,249.50 L188.10,248.95 L188.60,248.37 L189.10,247.77 L189.60,247.14 L190.10,246.48 L190.60,245.79 L191.10,245.07 L191.60,244.32 L192.10,243.54 L192.60,242.73 L193.10,241.88 L193.60,241.00 L194.10,240.09 L194.60,239.14 L195.10,238.16 L195.60,237.14 L196.10,236.09 L196.60,234.99 L197.10,233.86 L197.60,232.70 L198.10,231.49 L198.60,230.25 L199.10,228.97 L199.60,227.65 L200.10,226.29 L200.60,224.90 L201.10,223.46 L201.60,221.99 L202.10,220.47 L202.60,218.92 L203.10,217.34 L203.60,215.71 L204.10,214.05 L204.60,212.35 L205.10,210.61 L205.60,208.84 L206.10,207.04 L206.60,205.20 L207.10,203.33 L207.60,201.43 L208.10,199.51 L208.60,197.55 L209.10,195.56 L209.60,193.55 L210.10,191.52 L210.60,189.46 L211.10,187.38 L211.60,185.29 L212.10,183.18 L212.60,181.05 L213.10,178.91 L213.60,176.76 L214.10,174.61 L214.60,172.44 L215.10,170.28 L215.60,168.11 L216.10,165.95 L216.60,163.79 L217.10,161.63 L217.60,159.49 L218.10,157.36 L218.60,155.25 L219.10,153.15 L219.60,151.08 L220.10,149.03 L220.60,147.01 L221.10,145.01 L221.60,143.05 L222.10,141.13 L222.60,139.25 L223.10,137.40 L223.60,135.60 L224.10,133.85 L224.60,132.15 L225.10,130.50 L225.60,128.90 L226.10,127.37 L226.60,125.89 L227.10,124.48 L227.60,123.13 L228.10,121.85 L228.60,120.64 L229.10,119.50 L229.60,118.44 L230.10,117.45 L230.60,116.53 L231.10,115.70 L231.60,114.94 L232.10,114.27 L232.60,113.68 L233.10,113.18 L233.60,112.76 L234.10,112.42 L234.60,112.17 L235.10,112.01 L235.60,111.93 L236.10,111.94 L236.60,112.06 L237.10,112.28 L237.60,112.60 L238.10,113.03 L238.60,113.57 L239.10,114.20 L239.60,114.94 L240.10,115.77 L240.60,116.70 L241.10,117.72 L241.60,118.83 L242.10,120.03 L242.60,121.32 L243.10,122.69 L243.60,124.13 L244.10,125.65 L244.60,127.25 L245.10,128.91 L245.60,130.64 L246.10,132.43 L246.60,134.28 L247.10,136.18 L247.60,138.13 L248.10,140.13 L248.60,142.17 L249.10,144.25 L249.60,146.36 L250.10,148.51 L250.60,150.69 L251.10,152.89 L251.60,155.11 L252.10,157.35 L252.60,159.60 L253.10,161.87 L253.60,164.14 L254.10,166.42 L254.60,168.69 L255.10,170.97 L255.60,173.25 L256.10,175.52 L256.60,177.77 L257.10,180.02 L257.60,182.25 L258.10,184.47 L258.60,186.66 L259.10,188.84 L259.60,190.99 L260.10,193.12 L260.60,195.22 L261.10,197.30 L261.60,199.34 L262.10,201.35 L262.60,203.33 L263.10,205.27 L263.60,207.18 L264.10,209.05 L264.60,210.89 L265.10,212.69 L265.60,214.45 L266.10,216.17 L266.60,217.85 L267.10,219.49 L267.60,221.09 L268.10,222.64 L268.60,224.16 L269.10,225.64 L269.60,227.07 L270.10,228.46 L270.60,229.82 L271.10,231.13 L271.60,232.40 L272.10,233.63 L272.60,234.82 L273.10,235.97 L273.60,237.08 L274.10,238.15 L274.60,239.19 L275.10,240.19 L275.60,241.15 L276.10,242.07 L276.60,242.96 L277.10,243.82 L277.60,244.64 L278.10,245.43 L278.60,246.19 L279.10,246.91 L279.60,247.61 L280.10,248.27 L280.60,248.91 L281.10,249.52 L281.60,250.10 L282.10,250.66 L282.60,251.19 L283.10,251.70 L283.60,252.18 L284.10,252.64 L284.60,253.08 L285.10,253.49 L285.60,253.89 L286.10,254.27 L286.60,254.63 L287.10,254.97 L287.60,255.29 L288.10,255.60 L288.60,255.89 L289.10,256.16 L289.60,256.42 L290.10,256.67 L290.60,256.90 L291.10,257.13 L291.60,257.34 L292.10,257.53 L292.60,257.72 L293.10,257.90 L293.60,258.07 L294.10,258.23 L294.60,258.38 L295.10,258.52 L295.60,258.65 L296.10,258.78 L296.60,258.90 L297.10,259.01 L297.60,259.11 L298.10,259.21 L298.60,259.31 L299.10,259.40 L299.60,259.48 L300.10,259.56 L300.60,259.64 L301.10,259.71 L301.60,259.77 L302.10,259.84 L302.60,259.90 L303.10,259.95 L303.60,260.01 L304.10,260.06 L304.60,260.10 L305.10,260.15 L305.60,260.19 L306.10,260.23 L306.60,260.27 L307.10,260.31 L307.60,260.34 L308.10,260.37 L308.60,260.41 L309.10,260.44 L309.60,260.46 L310.10,260.49 L310.60,260.52 L311.10,260.54 L311.60,260.56 L312.10,260.59 L312.60,260.61 L313.10,260.63 L313.60,260.65 L314.10,260.67 L314.60,260.68 L315.10,260.70 L315.60,260.72 L316.10,260.73 L316.60,260.75 L317.10,260.76 L317.60,260.78 L318.10,260.79 L318.60,260.80 L319.10,260.81 L319.60,260.83 L320.10,260.84 L320.60,260.85 L321.10,260.86 L321.60,260.87 L322.10,260.88 L322.60,260.89 L323.10,260.90 L323.60,260.91 L324.10,260.92 L324.60,260.93 L325.10,260.93 L325.60,260.94 L326.10,260.95 L326.60,260.96 L327.10,260.96 L327.60,260.97 L328.10,260.98 L328.60,260.99 L329.10,260.99 L329.60,261.00 L330.10,261.00 L330.60,261.01 L331.10,261.02 L331.60,261.02 L332.10,261.03 L332.60,261.03 L333.10,261.04 L333.60,261.04 L334.10,261.05" fill="none" stroke="#000" stroke-width="1.3" stroke-linejoin="round"/>
<path d="M113.60,258.57 L114.10,258.56 L114.60,258.55 L115.10,258.53 L115.60,258.51 L116.10,258.49 L116.60,258.47 L117.10,258.45 L117.60,258.42 L118.10,258.39 L118.60,258.36 L119.10,258.33 L119.60,258.30 L120.10,258.26 L120.60,258.22 L121.10,258.18 L121.60,258.13 L122.10,258.08 L122.60,258.03 L123.10,257.98 L123.60,257.92 L124.10,257.85 L124.60,257.78 L125.10,257.71 L125.60,257.63 L126.10,257.55 L126.60,257.46 L127.10,257.37 L127.60,257.27 L128.10,257.17 L128.60,257.06 L129.10,256.94 L129.60,256.82 L130.10,256.69 L130.60,256.56 L131.10,256.41 L131.60,256.26 L132.10,256.10 L132.60,255.94 L133.10,255.76 L133.60,255.58 L134.10,255.39 L134.60,255.19 L135.10,254.99 L135.60,254.77 L136.10,254.55 L136.60,254.31 L137.10,254.07 L137.60,253.82 L138.10,253.56 L138.60,253.29 L139.10,253.01 L139.60,252.72 L140.10,252.42 L140.60,252.12 L141.10,251.80 L141.60,251.48 L142.10,251.15 L142.60,250.80 L143.10,250.45 L143.60,250.10 L144.10,249.73 L144.60,249.36 L145.10,248.98 L145.60,248.59 L146.10,248.20 L146.60,247.80 L147.10,247.39 L147.60,246.99 L148.10,246.57 L148.60,246.15 L149.10,245.73 L149.60,245.31 L150.10,244.88 L150.60,244.46 L151.10,244.03 L151.60,243.60 L152.10,243.17 L152.60,242.75 L153.10,242.32 L153.60,241.90 L154.10,241.49 L154.60,241.08 L155.10,240.67 L155.60,240.27 L156.10,239.88 L156.60,239.49 L157.10,239.12 L157.60,238.75 L158.10,238.40 L158.60,238.05 L159.10,237.72 L159.60,237.40 L160.10,237.10 L160.60,236.80 L161.10,236.53 L161.60,236.27 L162.10,236.02 L162.60,235.79 L163.10,235.58 L163.60,235.39 L164.10,235.22 L164.60,235.06 L165.10,234.93 L165.60,234.81 L166.10,234.71 L166.60,234.64 L167.10,234.58 L167.60,234.55 L168.10,234.53 L168.60,234.54 L169.10,234.56 L169.60,234.60 L170.10,234.67 L170.60,234.75 L171.10,234.85 L171.60,234.97 L172.10,235.11 L172.60,235.26 L173.10,235.44 L173.60,235.63 L174.10,235.83 L174.60,236.06 L175.10,236.29 L175.60,236.55 L176.10,236.82 L176.60,237.10 L177.10,237.40 L177.60,237.71 L178.10,238.03 L178.60,238.36 L179.10,238.70 L179.60,239.06 L180.10,239.42 L180.60,239.79 L181.10,240.17 L181.60,240.56 L182.10,240.95 L182.60,241.35 L183.10,241.76 L183.60,242.17 L184.10,242.58 L184.60,242.99 L185.10,243.41 L185.60,243.83 L186.10,244.25 L186.60,244.67 L187.10,245.09 L187.60,245.51 L188.10,245.92 L188.60,246.34 L189.10,246.75 L189.60,247.15 L190.10,247.56 L190.60,247.96 L191.10,248.35 L191.60,248.74 L192.10,249.12 L192.60,249.50 L193.10,249.87 L193.60,250.23 L194.10,250.59 L194.60,250.94 L195.10,251.28 L195.60,251.62 L196.10,251.94 L196.60,252.26 L197.10,252.57 L197.60,252.87 L198.10,253.17 L198.60,253.45 L199.10,253.73 L199.60,254.00 L200.10,254.26 L200.60,254.51 L201.10,254.75 L201.60,254.99 L202.10,255.21 L202.60,255.43 L203.10,255.64 L203.60,255.85 L204.10,256.04 L204.60,256.23 L205.10,256.41 L205.60,256.58 L206.10,256.75 L206.60,256.91 L207.10,257.06 L207.60,257.20 L208.10,257.34 L208.60,257.48 L209.10,257.60 L209.60,257.73 L210.10,257.84 L210.60,257.95 L211.10,258.06 L211.60,258.16 L212.10,258.25 L212.60,258.35 L213.10,258.43 L213.60,258.52 L214.10,258.59 L214.60,258.67 L215.10,258.74 L215.60,258.81 L216.10,258.88 L216.60,258.94 L217.10,259.00 L217.60,259.05 L218.10,259.11 L218.60,259.16 L219.10,259.21 L219.60,259.26 L220.10,259.30 L220.60,259.34 L221.10,259.39 L221.60,259.43 L222.10,259.46 L222.60,259.50 L223.10,259.54 L223.60,259.57 L224.10,259.61 L224.60,259.64 L225.10,259.67 L225.10,259.82 L113.60,258.73 Z" fill="#A2C3E6" stroke="none"/>
<path d="M113.60,258.57 L114.10,258.56 L114.60,258.55 L115.10,258.53 L115.60,258.51 L116.10,258.49 L116.60,258.47 L117.10,258.45 L117.60,258.42 L118.10,258.39 L118.60,258.36 L119.10,258.33 L119.60,258.30 L120.10,258.26 L120.60,258.22 L121.10,258.18 L121.60,258.13 L122.10,258.08 L122.60,258.03 L123.10,257.98 L123.60,257.92 L124.10,257.85 L124.60,257.78 L125.10,257.71 L125.60,257.63 L126.10,257.55 L126.60,257.46 L127.10,257.37 L127.60,257.27 L128.10,257.17 L128.60,257.06 L129.10,256.94 L129.60,256.82 L130.10,256.69 L130.60,256.56 L131.10,256.41 L131.60,256.26 L132.10,256.10 L132.60,255.94 L133.10,255.76 L133.60,255.58 L134.10,255.39 L134.60,255.19 L135.10,254.99 L135.60,254.77 L136.10,254.55 L136.60,254.31 L137.10,254.07 L137.60,253.82 L138.10,253.56 L138.60,253.29 L139.10,253.01 L139.60,252.72 L140.10,252.42 L140.60,252.12 L141.10,251.80 L141.60,251.48 L142.10,251.15 L142.60,250.80 L143.10,250.45 L143.60,250.10 L144.10,249.73 L144.60,249.36 L145.10,248.98 L145.60,248.59 L146.10,248.20 L146.60,247.80 L147.10,247.39 L147.60,246.99 L148.10,246.57 L148.60,246.15 L149.10,245.73 L149.60,245.31 L150.10,244.88 L150.60,244.46 L151.10,244.03 L151.60,243.60 L152.10,243.17 L152.60,242.75 L153.10,242.32 L153.60,241.90 L154.10,241.49 L154.60,241.08 L155.10,240.67 L155.60,240.27 L156.10,239.88 L156.60,239.49 L157.10,239.12 L157.60,238.75 L158.10,238.40 L158.60,238.05 L159.10,237.72 L159.60,237.40 L160.10,237.10 L160.60,236.80 L161.10,236.53 L161.60,236.27 L162.10,236.02 L162.60,235.79 L163.10,235.58 L163.60,235.39 L164.10,235.22 L164.60,235.06 L165.10,234.93 L165.60,234.81 L166.10,234.71 L166.60,234.64 L167.10,234.58 L167.60,234.55 L168.10,234.53 L168.60,234.54 L169.10,234.56 L169.60,234.60 L170.10,234.67 L170.60,234.75 L171.10,234.85 L171.60,234.97 L172.10,235.11 L172.60,235.26 L173.10,235.44 L173.60,235.63 L174.10,235.83 L174.60,236.06 L175.10,236.29 L175.60,236.55 L176.10,236.82 L176.60,237.10 L177.10,237.40 L177.60,237.71 L178.10,238.03 L178.60,238.36 L179.10,238.70 L179.60,239.06 L180.10,239.42 L180.60,239.79 L181.10,240.17 L181.60,240.56 L182.10,240.95 L182.60,241.35 L183.10,241.76 L183.60,242.17 L184.10,242.58 L184.60,242.99 L185.10,243.41 L185.60,243.83 L186.10,244.25 L186.60,244.67 L187.10,245.09 L187.60,245.51 L188.10,245.92 L188.60,246.34 L189.10,246.75 L189.60,247.15 L190.10,247.56 L190.60,247.96 L191.10,248.35 L191.60,248.74 L192.10,249.12 L192.60,249.50 L193.10,249.87 L193.60,250.23 L194.10,250.59 L194.60,250.94 L195.10,251.28 L195.60,251.62 L196.10,251.94 L196.60,252.26 L197.10,252.57 L197.60,252.87 L198.10,253.17 L198.60,253.45 L199.10,253.73 L199.60,254.00 L200.10,254.26 L200.60,254.51 L201.10,254.75 L201.60,254.99 L202.10,255.21 L202.60,255.43 L203.10,255.64 L203.60,255.85 L204.10,256.04 L204.60,256.23 L205.10,256.41 L205.60,256.58 L206.10,256.75 L206.60,256.91 L207.10,257.06 L207.60,257.20 L208.10,257.34 L208.60,257.48 L209.10,257.60 L209.60,257.73 L210.10,257.84 L210.60,257.95 L211.10,258.06 L211.60,258.16 L212.10,258.25 L212.60,258.35 L213.10,258.43 L213.60,258.52 L214.10,258.59 L214.60,258.67 L215.10,258.74 L215.60,258.81 L216.10,258.88 L216.60,258.94 L217.10,259.00 L217.60,259.05 L218.10,259.11 L218.60,259.16 L219.10,259.21 L219.60,259.26 L220.10,259.30 L220.60,259.34 L221.10,259.39 L221.60,259.43 L222.10,259.46 L222.60,259.50 L223.10,259.54 L223.60,259.57 L224.10,259.61 L224.60,259.64 L225.10,259.67" fill="none" stroke="#000" stroke-width="1.3" stroke-linejoin="round"/>
<path d="M150.60,258.67 L151.10,258.66 L151.60,258.64 L152.10,258.63 L152.60,258.61 L153.10,258.59 L153.60,258.56 L154.10,258.54 L154.60,258.51 L155.10,258.48 L155.60,258.45 L156.10,258.41 L156.60,258.38 L157.10,258.33 L157.60,258.29 L158.10,258.24 L158.60,258.19 L159.10,258.13 L159.60,258.07 L160.10,258.01 L160.60,257.94 L161.10,257.86 L161.60,257.78 L162.10,257.70 L162.60,257.61 L163.10,257.51 L163.60,257.41 L164.10,257.30 L164.60,257.19 L165.10,257.06 L165.60,256.94 L166.10,256.80 L166.60,256.66 L167.10,256.51 L167.60,256.35 L168.10,256.18 L168.60,256.01 L169.10,255.83 L169.60,255.64 L170.10,255.44 L170.60,255.23 L171.10,255.02 L171.60,254.80 L172.10,254.57 L172.60,254.33 L173.10,254.08 L173.60,253.83 L174.10,253.57 L174.60,253.30 L175.10,253.03 L175.60,252.75 L176.10,252.46 L176.60,252.17 L177.10,251.87 L177.60,251.57 L178.10,251.26 L178.60,250.95 L179.10,250.63 L179.60,250.32 L180.10,250.00 L180.60,249.68 L181.10,249.35 L181.60,249.03 L182.10,248.71 L182.60,248.39 L183.10,248.07 L183.60,247.76 L184.10,247.45 L184.60,247.14 L185.10,246.84 L185.60,246.55 L186.10,246.26 L186.60,245.98 L187.10,245.71 L187.60,245.45 L188.10,245.21 L188.60,244.97 L189.10,244.74 L189.60,244.53 L190.10,244.33 L190.60,244.15 L191.10,243.97 L191.60,243.82 L192.10,243.68 L192.60,243.56 L193.10,243.45 L193.60,243.36 L194.10,243.29 L194.60,243.24 L195.10,243.20 L195.60,243.18 L196.10,243.19 L196.60,243.20 L197.10,243.24 L197.60,243.30 L198.10,243.37 L198.60,243.46 L199.10,243.57 L199.60,243.69 L200.10,243.83 L200.60,243.99 L201.10,244.17 L201.60,244.35 L202.10,244.56 L202.60,244.78 L203.10,245.01 L203.60,245.25 L204.10,245.50 L204.60,245.77 L205.10,246.05 L205.60,246.33 L206.10,246.63 L206.60,246.93 L207.10,247.24 L207.60,247.56 L208.10,247.88 L208.60,248.21 L209.10,248.54 L209.60,248.87 L210.10,249.20 L210.60,249.54 L211.10,249.88 L211.60,250.22 L212.10,250.55 L212.60,250.89 L213.10,251.22 L213.60,251.55 L214.10,251.87 L214.60,252.20 L215.10,252.51 L215.60,252.83 L216.10,253.14 L216.60,253.44 L217.10,253.73 L217.60,254.02 L218.10,254.31 L218.60,254.58 L219.10,254.85 L219.60,255.11 L220.10,255.36 L220.60,255.61 L221.10,255.85 L221.60,256.08 L222.10,256.30 L222.60,256.51 L223.10,256.72 L223.60,256.92 L224.10,257.11 L224.60,257.29 L225.10,257.47 L225.60,257.64 L226.10,257.80 L226.60,257.95 L227.10,258.10 L227.60,258.24 L228.10,258.38 L228.60,258.50 L229.10,258.63 L229.60,258.74 L230.10,258.85 L230.60,258.96 L231.10,259.06 L231.60,259.15 L232.10,259.24 L232.60,259.33 L233.10,259.41 L233.60,259.49 L234.10,259.56 L234.60,259.63 L235.10,259.69 L235.60,259.76 L236.10,259.81 L236.60,259.87 L237.10,259.92 L237.60,259.98 L238.10,260.02 L238.60,260.07 L239.10,260.11 L239.60,260.15 L240.10,260.19 L240.60,260.23 L241.10,260.27 L241.10,260.43 L150.60,258.82 Z" fill="#A8D9A4" stroke="none"/>
<path d="M150.60,258.67 L151.10,258.66 L151.60,258.64 L152.10,258.63 L152.60,258.61 L153.10,258.59 L153.60,258.56 L154.10,258.54 L154.60,258.51 L155.10,258.48 L155.60,258.45 L156.10,258.41 L156.60,258.38 L157.10,258.33 L157.60,258.29 L158.10,258.24 L158.60,258.19 L159.10,258.13 L159.60,258.07 L160.10,258.01 L160.60,257.94 L161.10,257.86 L161.60,257.78 L162.10,257.70 L162.60,257.61 L163.10,257.51 L163.60,257.41 L164.10,257.30 L164.60,257.19 L165.10,257.06 L165.60,256.94 L166.10,256.80 L166.60,256.66 L167.10,256.51 L167.60,256.35 L168.10,256.18 L168.60,256.01 L169.10,255.83 L169.60,255.64 L170.10,255.44 L170.60,255.23 L171.10,255.02 L171.60,254.80 L172.10,254.57 L172.60,254.33 L173.10,254.08 L173.60,253.83 L174.10,253.57 L174.60,253.30 L175.10,253.03 L175.60,252.75 L176.10,252.46 L176.60,252.17 L177.10,251.87 L177.60,251.57 L178.10,251.26 L178.60,250.95 L179.10,250.63 L179.60,250.32 L180.10,250.00 L180.60,249.68 L181.10,249.35 L181.60,249.03 L182.10,248.71 L182.60,248.39 L183.10,248.07 L183.60,247.76 L184.10,247.45 L184.60,247.14 L185.10,246.84 L185.60,246.55 L186.10,246.26 L186.60,245.98 L187.10,245.71 L187.60,245.45 L188.10,245.21 L188.60,244.97 L189.10,244.74 L189.60,244.53 L190.10,244.33 L190.60,244.15 L191.10,243.97 L191.60,243.82 L192.10,243.68 L192.60,243.56 L193.10,243.45 L193.60,243.36 L194.10,243.29 L194.60,243.24 L195.10,243.20 L195.60,243.18 L196.10,243.19 L196.60,243.20 L197.10,243.24 L197.60,243.30 L198.10,243.37 L198.60,243.46 L199.10,243.57 L199.60,243.69 L200.10,243.83 L200.60,243.99 L201.10,244.17 L201.60,244.35 L202.10,244.56 L202.60,244.78 L203.10,245.01 L203.60,245.25 L204.10,245.50 L204.60,245.77 L205.10,246.05 L205.60,246.33 L206.10,246.63 L206.60,246.93 L207.10,247.24 L207.60,247.56 L208.10,247.88 L208.60,248.21 L209.10,248.54 L209.60,248.87 L210.10,249.20 L210.60,249.54 L211.10,249.88 L211.60,250.22 L212.10,250.55 L212.60,250.89 L213.10,251.22 L213.60,251.55 L214.10,251.87 L214.60,252.20 L215.10,252.51 L215.60,252.83 L216.10,253.14 L216.60,253.44 L217.10,253.73 L217.60,254.02 L218.10,254.31 L218.60,254.58 L219.10,254.85 L219.60,255.11 L220.10,255.36 L220.60,255.61 L221.10,255.85 L221.60,256.08 L222.10,256.30 L222.60,256.51 L223.10,256.72 L223.60,256.92 L224.10,257.11 L224.60,257.29 L225.10,257.47 L225.60,257.64 L226.10,257.80 L226.60,257.95 L227.10,258.10 L227.60,258.24 L228.10,258.38 L228.60,258.50 L229.10,258.63 L229.60,258.74 L230.10,258.85 L230.60,258.96 L231.10,259.06 L231.60,259.15 L232.10,259.24 L232.60,259.33 L233.10,259.41 L233.60,259.49 L234.10,259.56 L234.60,259.63 L235.10,259.69 L235.60,259.76 L236.10,259.81 L236.60,259.87 L237.10,259.92 L237.60,259.98 L238.10,260.02 L238.60,260.07 L239.10,260.11 L239.60,260.15 L240.10,260.19 L240.60,260.23 L241.10,260.27" fill="none" stroke="#000" stroke-width="1.3" stroke-linejoin="round"/>
<path d="M56.10,258.55 L56.60,258.55 L57.10,258.54 L57.60,258.54 L58.10,258.53 L58.60,258.52 L59.10,258.52 L59.60,258.51 L60.10,258.51 L60.60,258.50 L61.10,258.49 L61.60,258.49 L62.10,258.48 L62.60,258.47 L63.10,258.46 L63.60,258.45 L64.10,258.45 L64.60,258.44 L65.10,258.43 L65.60,258.42 L66.10,258.41 L66.60,258.40 L67.10,258.38 L67.60,258.37 L68.10,258.36 L68.60,258.35 L69.10,258.34 L69.60,258.32 L70.10,258.31 L70.60,258.29 L71.10,258.28 L71.60,258.26 L72.10,258.24 L72.60,258.23 L73.10,258.21 L73.60,258.19 L74.10,258.17 L74.60,258.15 L75.10,258.13 L75.60,258.10 L76.10,258.08 L76.60,258.06 L77.10,258.03 L77.60,258.00 L78.10,257.98 L78.60,257.95 L79.10,257.92 L79.60,257.89 L80.10,257.85 L80.60,257.82 L81.10,257.79 L81.60,257.75 L82.10,257.71 L82.60,257.67 L83.10,257.63 L83.60,257.59 L84.10,257.55 L84.60,257.50 L85.10,257.46 L85.60,257.41 L86.10,257.36 L86.60,257.31 L87.10,257.26 L87.60,257.20 L88.10,257.15 L88.60,257.09 L89.10,257.03 L89.60,256.97 L90.10,256.91 L90.60,256.84 L91.10,256.78 L91.60,256.71 L92.10,256.64 L92.60,256.57 L93.10,256.49 L93.60,256.42 L94.10,256.34 L94.60,256.26 L95.10,256.18 L95.60,256.10 L96.10,256.01 L96.60,255.93 L97.10,255.84 L97.60,255.75 L98.10,255.66 L98.60,255.57 L99.10,255.47 L99.60,255.38 L100.10,255.28 L100.60,255.18 L101.10,255.08 L101.60,254.98 L102.10,254.88 L102.60,254.78 L103.10,254.67 L103.60,254.57 L104.10,254.46 L104.60,254.36 L105.10,254.25 L105.60,254.14 L106.10,254.03 L106.60,253.93 L107.10,253.82 L107.60,253.71 L108.10,253.61 L108.60,253.50 L109.10,253.40 L109.60,253.29 L110.10,253.19 L110.60,253.09 L111.10,252.99 L111.60,252.89 L112.10,252.80 L112.60,252.70 L113.10,252.61 L113.60,252.53 L114.10,252.44 L114.60,252.36 L115.10,252.29 L115.60,252.22 L116.10,252.15 L116.60,252.08 L117.10,252.03 L117.60,251.97 L118.10,251.92 L118.60,251.88 L119.10,251.84 L119.60,251.81 L120.10,251.79 L120.60,251.77 L121.10,251.75 L121.60,251.75 L122.10,251.75 L122.60,251.75 L123.10,251.76 L123.60,251.78 L124.10,251.80 L124.60,251.83 L125.10,251.87 L125.60,251.91 L126.10,251.96 L126.60,252.01 L127.10,252.07 L127.60,252.13 L128.10,252.20 L128.60,252.27 L129.10,252.35 L129.60,252.43 L130.10,252.51 L130.60,252.60 L131.10,252.69 L131.60,252.78 L132.10,252.87 L132.60,252.97 L133.10,253.07 L133.60,253.17 L134.10,253.28 L134.60,253.38 L135.10,253.49 L135.60,253.60 L136.10,253.70 L136.60,253.81 L137.10,253.92 L137.60,254.03 L138.10,254.14 L138.60,254.25 L139.10,254.36 L139.60,254.47 L140.10,254.57 L140.60,254.68 L141.10,254.79 L141.60,254.89 L142.10,255.00 L142.60,255.10 L143.10,255.20 L143.60,255.31 L144.10,255.40 L144.60,255.50 L145.10,255.60 L145.60,255.70 L146.10,255.79 L146.60,255.88 L147.10,255.97 L147.60,256.06 L148.10,256.15 L148.60,256.24 L149.10,256.32 L149.60,256.40 L150.10,256.48 L150.60,256.56 L151.10,256.64 L151.60,256.72 L152.10,256.79 L152.60,256.86 L153.10,256.93 L153.60,257.00 L154.10,257.07 L154.60,257.13 L155.10,257.19 L155.60,257.26 L156.10,257.32 L156.60,257.37 L157.10,257.43 L157.60,257.49 L158.10,257.54 L158.60,257.59 L159.10,257.64 L159.60,257.69 L160.10,257.74 L160.60,257.78 L161.10,257.83 L161.60,257.87 L162.10,257.91 L162.60,257.95 L163.10,257.99 L163.60,258.03 L164.10,258.06 L164.60,258.10 L165.10,258.13 L165.60,258.17 L166.10,258.20 L166.60,258.23 L167.10,258.26 L167.60,258.29 L168.10,258.32 L168.60,258.34 L169.10,258.37 L169.60,258.39 L170.10,258.42 L170.60,258.44 L171.10,258.46 L171.60,258.49 L172.10,258.51 L172.60,258.53 L173.10,258.55 L173.60,258.57 L174.10,258.59 L174.60,258.61 L175.10,258.62 L175.60,258.64 L176.10,258.66 L176.60,258.67 L177.10,258.69 L177.60,258.70 L178.10,258.72 L178.60,258.73 L179.10,258.75 L179.60,258.76 L180.10,258.77 L180.60,258.79 L181.10,258.80 L181.60,258.81 L182.10,258.82 L182.60,258.83 L183.10,258.85 L183.60,258.86 L184.10,258.87 L184.60,258.88 L185.10,258.89 L185.60,258.90 L186.10,258.91 L186.60,258.92 L187.10,258.93 L187.60,258.94 L187.60,259.09 L56.10,258.70 Z" fill="#D6A4DA" stroke="none"/>
<path d="M56.10,258.55 L56.60,258.55 L57.10,258.54 L57.60,258.54 L58.10,258.53 L58.60,258.52 L59.10,258.52 L59.60,258.51 L60.10,258.51 L60.60,258.50 L61.10,258.49 L61.60,258.49 L62.10,258.48 L62.60,258.47 L63.10,258.46 L63.60,258.45 L64.10,258.45 L64.60,258.44 L65.10,258.43 L65.60,258.42 L66.10,258.41 L66.60,258.40 L67.10,258.38 L67.60,258.37 L68.10,258.36 L68.60,258.35 L69.10,258.34 L69.60,258.32 L70.10,258.31 L70.60,258.29 L71.10,258.28 L71.60,258.26 L72.10,258.24 L72.60,258.23 L73.10,258.21 L73.60,258.19 L74.10,258.17 L74.60,258.15 L75.10,258.13 L75.60,258.10 L76.10,258.08 L76.60,258.06 L77.10,258.03 L77.60,258.00 L78.10,257.98 L78.60,257.95 L79.10,257.92 L79.60,257.89 L80.10,257.85 L80.60,257.82 L81.10,257.79 L81.60,257.75 L82.10,257.71 L82.60,257.67 L83.10,257.63 L83.60,257.59 L84.10,257.55 L84.60,257.50 L85.10,257.46 L85.60,257.41 L86.10,257.36 L86.60,257.31 L87.10,257.26 L87.60,257.20 L88.10,257.15 L88.60,257.09 L89.10,257.03 L89.60,256.97 L90.10,256.91 L90.60,256.84 L91.10,256.78 L91.60,256.71 L92.10,256.64 L92.60,256.57 L93.10,256.49 L93.60,256.42 L94.10,256.34 L94.60,256.26 L95.10,256.18 L95.60,256.10 L96.10,256.01 L96.60,255.93 L97.10,255.84 L97.60,255.75 L98.10,255.66 L98.60,255.57 L99.10,255.47 L99.60,255.38 L100.10,255.28 L100.60,255.18 L101.10,255.08 L101.60,254.98 L102.10,254.88 L102.60,254.78 L103.10,254.67 L103.60,254.57 L104.10,254.46 L104.60,254.36 L105.10,254.25 L105.60,254.14 L106.10,254.03 L106.60,253.93 L107.10,253.82 L107.60,253.71 L108.10,253.61 L108.60,253.50 L109.10,253.40 L109.60,253.29 L110.10,253.19 L110.60,253.09 L111.10,252.99 L111.60,252.89 L112.10,252.80 L112.60,252.70 L113.10,252.61 L113.60,252.53 L114.10,252.44 L114.60,252.36 L115.10,252.29 L115.60,252.22 L116.10,252.15 L116.60,252.08 L117.10,252.03 L117.60,251.97 L118.10,251.92 L118.60,251.88 L119.10,251.84 L119.60,251.81 L120.10,251.79 L120.60,251.77 L121.10,251.75 L121.60,251.75 L122.10,251.75 L122.60,251.75 L123.10,251.76 L123.60,251.78 L124.10,251.80 L124.60,251.83 L125.10,251.87 L125.60,251.91 L126.10,251.96 L126.60,252.01 L127.10,252.07 L127.60,252.13 L128.10,252.20 L128.60,252.27 L129.10,252.35 L129.60,252.43 L130.10,252.51 L130.60,252.60 L131.10,252.69 L131.60,252.78 L132.10,252.87 L132.60,252.97 L133.10,253.07 L133.60,253.17 L134.10,253.28 L134.60,253.38 L135.10,253.49 L135.60,253.60 L136.10,253.70 L136.60,253.81 L137.10,253.92 L137.60,254.03 L138.10,254.14 L138.60,254.25 L139.10,254.36 L139.60,254.47 L140.10,254.57 L140.60,254.68 L141.10,254.79 L141.60,254.89 L142.10,255.00 L142.60,255.10 L143.10,255.20 L143.60,255.31 L144.10,255.40 L144.60,255.50 L145.10,255.60 L145.60,255.70 L146.10,255.79 L146.60,255.88 L147.10,255.97 L147.60,256.06 L148.10,256.15 L148.60,256.24 L149.10,256.32 L149.60,256.40 L150.10,256.48 L150.60,256.56 L151.10,256.64 L151.60,256.72 L152.10,256.79 L152.60,256.86 L153.10,256.93 L153.60,257.00 L154.10,257.07 L154.60,257.13 L155.10,257.19 L155.60,257.26 L156.10,257.32 L156.60,257.37 L157.10,257.43 L157.60,257.49 L158.10,257.54 L158.60,257.59 L159.10,257.64 L159.60,257.69 L160.10,257.74 L160.60,257.78 L161.10,257.83 L161.60,257.87 L162.10,257.91 L162.60,257.95 L163.10,257.99 L163.60,258.03 L164.10,258.06 L164.60,258.10 L165.10,258.13 L165.60,258.17 L166.10,258.20 L166.60,258.23 L167.10,258.26 L167.60,258.29 L168.10,258.32 L168.60,258.34 L169.10,258.37 L169.60,258.39 L170.10,258.42 L170.60,258.44 L171.10,258.46 L171.60,258.49 L172.10,258.51 L172.60,258.53 L173.10,258.55 L173.60,258.57 L174.10,258.59 L174.60,258.61 L175.10,258.62 L175.60,258.64 L176.10,258.66 L176.60,258.67 L177.10,258.69 L177.60,258.70 L178.10,258.72 L178.60,258.73 L179.10,258.75 L179.60,258.76 L180.10,258.77 L180.60,258.79 L181.10,258.80 L181.60,258.81 L182.10,258.82 L182.60,258.83 L183.10,258.85 L183.60,258.86 L184.10,258.87 L184.60,258.88 L185.10,258.89 L185.60,258.90 L186.10,258.91 L186.60,258.92 L187.10,258.93 L187.60,258.94" fill="none" stroke="#000" stroke-width="1.3" stroke-linejoin="round"/>
<path d="M31.10,259.20 L31.60,259.20 L32.10,259.20 L32.60,259.20 L33.10,259.20 L33.60,259.20 L34.10,259.20 L34.60,259.20 L35.10,259.20 L35.60,259.20 L36.10,259.20 L36.60,259.20 L37.10,259.20 L37.60,259.20 L38.10,259.20 L38.60,259.20 L39.10,259.20 L39.60,259.20 L40.10,259.20 L40.60,259.20 L41.10,259.20 L41.60,259.20 L42.10,259.20 L42.60,259.20 L43.10,259.20 L43.60,259.20 L44.10,259.20 L44.60,259.20 L45.10,259.20 L45.60,259.20 L46.10,259.20 L46.60,259.20 L47.10,259.20 L47.60,259.20 L48.10,259.20 L48.60,259.20 L49.10,259.20 L49.60,259.20 L50.10,259.20 L50.60,259.20 L51.10,259.20 L51.60,259.20 L52.10,259.20 L52.60,259.20 L53.10,259.20 L53.60,259.20 L54.10,259.20 L54.60,259.20 L55.10,259.20 L55.60,259.20 L56.10,259.20 L56.60,259.20 L57.10,259.20 L57.60,259.20 L58.10,259.20 L58.60,259.20 L59.10,259.20 L59.60,259.20 L60.10,259.20 L60.60,259.20 L61.10,259.20 L61.60,259.20 L62.10,259.20 L62.60,259.20 L63.10,259.20 L63.60,259.20 L64.10,259.20 L64.60,259.20 L65.10,259.20 L65.60,259.20 L66.10,259.20 L66.60,259.20 L67.10,259.20 L67.60,259.20 L68.10,259.20 L68.60,259.20 L69.10,259.20 L69.60,259.20 L70.10,259.20 L70.60,259.20 L71.10,259.20 L71.60,259.20 L72.10,259.20 L72.60,259.20 L73.10,259.20 L73.60,259.20 L74.10,259.20 L74.60,259.20 L75.10,259.20 L75.60,259.20 L76.10,259.20 L76.60,259.20 L77.10,259.20 L77.60,259.20 L78.10,259.20 L78.60,259.20 L79.10,259.20 L79.60,259.20 L80.10,259.20 L80.60,259.20 L81.10,259.20 L81.60,259.20 L82.10,259.20 L82.60,259.20 L83.10,259.20 L83.60,259.20 L84.10,259.20 L84.60,259.20 L85.10,259.20 L85.60,259.20 L86.10,259.20 L86.60,259.20 L87.10,259.20 L87.60,259.21 L88.10,259.21 L88.60,259.21 L89.10,259.21 L89.60,259.21 L90.10,259.21 L90.60,259.21 L91.10,259.21 L91.60,259.21 L92.10,259.21 L92.60,259.21 L93.10,259.21 L93.60,259.21 L94.10,259.21 L94.60,259.21 L95.10,259.21 L95.60,259.21 L96.10,259.21 L96.60,259.21 L97.10,259.21 L97.60,259.21 L98.10,259.21 L98.60,259.21 L99.10,259.21 L99.60,259.21 L100.10,259.21 L100.60,259.21 L101.10,259.21 L101.60,259.21 L102.10,259.21 L102.60,259.22 L103.10,259.22 L103.60,259.22 L104.10,259.22 L104.60,259.22 L105.10,259.22 L105.60,259.22 L106.10,259.22 L106.60,259.22 L107.10,259.22 L107.60,259.22 L108.10,259.22 L108.60,259.22 L109.10,259.22 L109.60,259.22 L110.10,259.22 L110.60,259.23 L111.10,259.23 L111.60,259.23 L112.10,259.23 L112.60,259.23 L113.10,259.23 L113.60,259.23 L114.10,259.23 L114.60,259.23 L115.10,259.23 L115.60,259.23 L116.10,259.23 L116.60,259.24 L117.10,259.24 L117.60,259.24 L118.10,259.24 L118.60,259.24 L119.10,259.24 L119.60,259.24 L120.10,259.24 L120.60,259.24 L121.10,259.24 L121.60,259.24 L122.10,259.25 L122.60,259.25 L123.10,259.25 L123.60,259.25 L124.10,259.25 L124.60,259.25 L125.10,259.25 L125.60,259.25 L126.10,259.25 L126.60,259.26 L127.10,259.26 L127.60,259.26 L128.10,259.26 L128.60,259.26 L129.10,259.26 L129.60,259.26 L130.10,259.26 L130.60,259.26 L131.10,259.26 L131.60,259.27 L132.10,259.27 L132.60,259.27 L133.10,259.27 L133.60,259.27 L134.10,259.27 L134.60,259.27 L135.10,259.27 L135.60,259.28 L136.10,259.28 L136.60,259.28 L137.10,259.28 L137.60,259.28 L138.10,259.28 L138.60,259.28 L139.10,259.28 L139.60,259.29 L140.10,259.29 L140.60,259.29 L141.10,259.29 L141.60,259.29 L142.10,259.29 L142.60,259.29 L143.10,259.30 L143.60,259.30 L144.10,259.30 L144.60,259.30 L145.10,259.30 L145.60,259.30 L146.10,259.31 L146.60,259.31 L147.10,259.31 L147.60,259.31 L148.10,259.31 L148.60,259.31 L149.10,259.32 L149.60,259.32 L150.10,259.32 L150.60,259.32 L151.10,259.33 L151.60,259.33 L152.10,259.33 L152.60,259.33 L153.10,259.33 L153.60,259.34 L154.10,259.34 L154.60,259.34 L155.10,259.34 L155.60,259.35 L156.10,259.35 L156.60,259.35 L157.10,259.36 L157.60,259.36 L158.10,259.36 L158.60,259.36 L159.10,259.37 L159.60,259.37 L160.10,259.37 L160.60,259.38 L161.10,259.38 L161.60,259.38 L162.10,259.39 L162.60,259.39 L163.10,259.39 L163.60,259.40 L164.10,259.40 L164.60,259.40 L165.10,259.41 L165.60,259.41 L166.10,259.41 L166.60,259.42 L167.10,259.42 L167.60,259.43 L168.10,259.43 L168.60,259.43 L169.10,259.44 L169.60,259.44 L170.10,259.44 L170.60,259.45 L171.10,259.45 L171.60,259.46 L172.10,259.46 L172.60,259.46 L173.10,259.47 L173.60,259.47 L174.10,259.48 L174.60,259.48 L175.10,259.48 L175.60,259.49 L176.10,259.49 L176.60,259.50 L177.10,259.50 L177.60,259.50 L178.10,259.51 L178.60,259.51 L179.10,259.52 L179.60,259.52 L180.10,259.53 L180.60,259.53 L181.10,259.53 L181.60,259.54 L182.10,259.54 L182.60,259.55 L183.10,259.55 L183.60,259.56 L184.10,259.56 L184.60,259.57 L185.10,259.57 L185.60,259.57 L186.10,259.58 L186.60,259.58 L187.10,259.59 L187.60,259.59 L188.10,259.60 L188.60,259.60 L189.10,259.61 L189.60,259.61 L190.10,259.62 L190.60,259.62 L191.10,259.63 L191.60,259.63 L192.10,259.64 L192.60,259.64 L193.10,259.65 L193.60,259.66 L194.10,259.66 L194.60,259.67 L195.10,259.67 L195.60,259.68 L196.10,259.68 L196.60,259.69 L197.10,259.70 L197.60,259.70 L198.10,259.71 L198.60,259.72 L199.10,259.72 L199.60,259.73 L200.10,259.74 L200.60,259.74 L201.10,259.75 L201.60,259.76 L202.10,259.77 L202.60,259.77 L203.10,259.78 L203.60,259.79 L204.10,259.80 L204.60,259.80 L205.10,259.81 L205.60,259.82 L206.10,259.83 L206.60,259.84 L207.10,259.85 L207.60,259.86 L208.10,259.87 L208.60,259.88 L209.10,259.89 L209.60,259.90 L210.10,259.91 L210.60,259.92 L211.10,259.93 L211.60,259.94 L212.10,259.95 L212.60,259.96 L213.10,259.97 L213.60,259.99 L214.10,260.00 L214.60,260.01 L215.10,260.02 L215.60,260.03 L216.10,260.05 L216.60,260.06 L217.10,260.07 L217.60,260.09 L218.10,260.10 L218.60,260.12 L219.10,260.13 L219.60,260.15 L220.10,260.16 L220.60,260.18 L221.10,260.19 L221.60,260.21 L222.10,260.22 L222.60,260.24 L223.10,260.25 L223.60,260.27 L224.10,260.29 L224.60,260.31 L225.10,260.32 L225.60,260.34 L226.10,260.36 L226.60,260.37 L227.10,260.39 L227.60,260.41 L228.10,260.43 L228.60,260.45 L229.10,260.47 L229.60,260.48 L230.10,260.50 L230.60,260.52 L231.10,260.54 L231.60,260.56 L232.10,260.58 L232.60,260.60 L233.10,260.62 L233.60,260.64 L234.10,260.66 L234.60,260.68 L235.10,260.70 L235.60,260.72 L236.10,260.74 L236.60,260.75 L237.10,260.77 L237.60,260.79 L238.10,260.81 L238.60,260.83 L239.10,260.85 L239.60,260.87 L240.10,260.89 L240.60,260.91 L241.10,260.93 L241.60,260.95 L242.10,260.97 L242.60,260.98 L243.10,261.00 L243.60,261.02 L244.10,261.04 L244.60,261.06 L245.10,261.07 L245.60,261.09 L246.10,261.11 L246.60,261.13 L247.10,261.14 L247.60,261.16 L248.10,261.17 L248.60,261.19 L249.10,261.21 L249.60,261.22 L250.10,261.24 L250.60,261.25 L251.10,261.27 L251.60,261.28 L252.10,261.29 L252.60,261.31 L253.10,261.32 L253.60,261.33 L254.10,261.35 L254.60,261.36 L255.10,261.37 L255.60,261.38 L256.10,261.39 L256.60,261.41 L257.10,261.42 L257.60,261.43 L258.10,261.44 L258.60,261.45 L259.10,261.46 L259.60,261.47 L260.10,261.48 L260.60,261.48 L261.10,261.49 L261.60,261.50 L262.10,261.51 L262.60,261.52 L263.10,261.53 L263.60,261.53 L264.10,261.54 L264.60,261.55 L265.10,261.55 L265.60,261.56 L266.10,261.57 L266.60,261.57 L267.10,261.58 L267.60,261.58 L268.10,261.59 L268.60,261.59 L269.10,261.60 L269.60,261.60 L270.10,261.61 L270.60,261.61 L271.10,261.62 L271.60,261.62 L272.10,261.62 L272.60,261.63 L273.10,261.63 L273.60,261.63 L274.10,261.64 L274.60,261.64 L275.10,261.64 L275.60,261.65 L276.10,261.65 L276.60,261.65 L277.10,261.65 L277.60,261.66 L278.10,261.66 L278.60,261.66 L279.10,261.66 L279.60,261.66 L280.10,261.66 L280.60,261.67 L281.10,261.67 L281.60,261.67 L282.10,261.67 L282.60,261.67 L283.10,261.67 L283.60,261.68 L284.10,261.68 L284.60,261.68 L285.10,261.68 L285.60,261.68 L286.10,261.68 L286.60,261.68 L287.10,261.68 L287.60,261.68 L288.10,261.68 L288.60,261.68 L289.10,261.69 L289.60,261.69 L290.10,261.69 L290.60,261.69 L291.10,261.69 L291.60,261.69 L292.10,261.69 L292.60,261.69 L293.10,261.69 L293.60,261.69 L294.10,261.69 L294.60,261.69 L295.10,261.69 L295.60,261.69 L296.10,261.69 L296.60,261.69 L297.10,261.69 L297.60,261.69 L298.10,261.69 L298.60,261.69 L299.10,261.69 L299.60,261.69 L300.10,261.69 L300.60,261.69 L301.10,261.69 L301.60,261.69 L302.10,261.70 L302.60,261.70 L303.10,261.70 L303.60,261.70 L304.10,261.70 L304.60,261.70 L305.10,261.70 L305.60,261.70 L306.10,261.70 L306.60,261.70 L307.10,261.70 L307.60,261.70 L308.10,261.70 L308.60,261.70 L309.10,261.70 L309.60,261.70 L310.10,261.70 L310.60,261.70 L311.10,261.70 L311.60,261.70 L312.10,261.70 L312.60,261.70 L313.10,261.70 L313.60,261.70 L314.10,261.70 L314.60,261.70 L315.10,261.70 L315.60,261.70 L316.10,261.70 L316.60,261.70 L317.10,261.70 L317.60,261.70 L318.10,261.70 L318.60,261.70 L319.10,261.70 L319.60,261.70 L320.10,261.70 L320.60,261.70 L321.10,261.70 L321.60,261.70 L322.10,261.70 L322.60,261.70 L323.10,261.70 L323.60,261.70 L324.10,261.70 L324.60,261.70 L325.10,261.70 L325.60,261.70 L326.10,261.70 L326.60,261.70 L327.10,261.70 L327.60,261.70 L328.10,261.70 L328.60,261.70 L329.10,261.70 L329.60,261.70 L330.10,261.70 L330.60,261.70 L331.10,261.70 L331.60,261.70 L332.10,261.70 L332.60,261.70 L333.10,261.70 L333.60,261.70 L334.10,261.70 L334.60,261.70 L335.10,261.70 L335.60,261.70 L336.10,261.70 L336.60,261.70 L337.10,261.70 L337.60,261.70 L338.10,261.70 L338.60,261.70 L339.10,261.70 L339.60,261.70 L340.10,261.70 L340.60,261.70 L341.10,261.70 L341.60,261.70 L342.10,261.70 L342.60,261.70 L343.10,261.70 L343.60,261.70 L344.10,261.70 L344.60,261.70 L345.10,261.70 L345.60,261.70 L346.10,261.70 L346.60,261.70 L347.10,261.70 L347.60,261.70 L348.10,261.70 L348.60,261.70 L349.10,261.70 L349.60,261.70 L350.10,261.70 L350.60,261.70 L351.10,261.70 L351.60,261.70 L352.10,261.70 L352.60,261.70 L353.10,261.70 L353.60,261.70 L354.10,261.70 L354.60,261.70 L355.10,261.70 L355.60,261.70 L356.10,261.70 L356.60,261.70 L357.10,261.70 L357.60,261.70 L358.10,261.70 L358.60,261.70 L359.10,261.70 L359.60,261.70 L360.10,261.70 L360.60,261.70 L361.10,261.70 L361.60,261.70 L362.10,261.70 L362.60,261.70 L363.10,261.70 L363.60,261.70 L364.10,261.70 L364.60,261.70 L365.10,261.70 L365.60,261.70 L366.10,261.70 L366.60,261.70 L367.10,261.70 L367.60,261.70 L368.10,261.70 L368.60,261.70 L369.10,261.70 L369.60,261.70 L370.10,261.70 L370.60,261.70 L371.10,261.70 L371.60,261.70" fill="none" stroke="#D3AD38" stroke-width="1.7"/>
<path d="M31.10,258.35 L31.60,258.35 L32.10,258.35 L32.60,258.35 L33.10,258.35 L33.60,258.35 L34.10,258.35 L34.60,258.35 L35.10,258.35 L35.60,258.35 L36.10,258.35 L36.60,258.35 L37.10,258.35 L37.60,258.35 L38.10,258.35 L38.60,258.35 L39.10,258.35 L39.60,258.35 L40.10,258.35 L40.60,258.35 L41.10,258.35 L41.60,258.35 L42.10,258.35 L42.60,258.35 L43.10,258.35 L43.60,258.35 L44.10,258.35 L44.60,258.35 L45.10,258.35 L45.60,258.35 L46.10,258.35 L46.60,258.35 L47.10,258.35 L47.60,258.35 L48.10,258.35 L48.60,258.35 L49.10,258.35 L49.60,258.35 L50.10,258.35 L50.60,258.35 L51.10,258.35 L51.60,258.35 L52.10,258.35 L52.60,258.35 L53.10,258.35 L53.60,258.35 L54.10,258.35 L54.60,258.35 L55.10,258.35 L55.60,258.35 L56.10,258.35 L56.60,258.35 L57.10,258.35 L57.60,258.35 L58.10,258.35 L58.60,258.35 L59.10,258.35 L59.60,258.35 L60.10,258.35 L60.60,258.35 L61.10,258.35 L61.60,258.35 L62.10,258.35 L62.60,258.35 L63.10,258.35 L63.60,258.35 L64.10,258.35 L64.60,258.35 L65.10,258.35 L65.60,258.35 L66.10,258.35 L66.60,258.35 L67.10,258.35 L67.60,258.35 L68.10,258.35 L68.60,258.35 L69.10,258.35 L69.60,258.35 L70.10,258.35 L70.60,258.35 L71.10,258.35 L71.60,258.35 L72.10,258.35 L72.60,258.35 L73.10,258.35 L73.60,258.35 L74.10,258.35 L74.60,258.35 L75.10,258.35 L75.60,258.35 L76.10,258.35 L76.60,258.35 L77.10,258.35 L77.60,258.35 L78.10,258.35 L78.60,258.35 L79.10,258.35 L79.60,258.35 L80.10,258.35 L80.60,258.35 L81.10,258.35 L81.60,258.35 L82.10,258.35 L82.60,258.35 L83.10,258.35 L83.60,258.35 L84.10,258.35 L84.60,258.35 L85.10,258.35 L85.60,258.35 L86.10,258.35 L86.60,258.35 L87.10,258.35 L87.60,258.36 L88.10,258.36 L88.60,258.36 L89.10,258.36 L89.60,258.36 L90.10,258.36 L90.60,258.36 L91.10,258.36 L91.60,258.36 L92.10,258.36 L92.60,258.36 L93.10,258.36 L93.60,258.36 L94.10,258.36 L94.60,258.36 L95.10,258.36 L95.60,258.36 L96.10,258.36 L96.60,258.36 L97.10,258.36 L97.60,258.36 L98.10,258.36 L98.60,258.36 L99.10,258.36 L99.60,258.36 L100.10,258.36 L100.60,258.36 L101.10,258.36 L101.60,258.36 L102.10,258.36 L102.60,258.37 L103.10,258.37 L103.60,258.37 L104.10,258.37 L104.60,258.37 L105.10,258.37 L105.60,258.37 L106.10,258.37 L106.60,258.37 L107.10,258.37 L107.60,258.37 L108.10,258.37 L108.60,258.37 L109.10,258.37 L109.60,258.37 L110.10,258.37 L110.60,258.38 L111.10,258.38 L111.60,258.38 L112.10,258.38 L112.60,258.38 L113.10,258.38 L113.60,258.38 L114.10,258.38 L114.60,258.38 L115.10,258.38 L115.60,258.38 L116.10,258.38 L116.60,258.39 L117.10,258.39 L117.60,258.39 L118.10,258.39 L118.60,258.39 L119.10,258.39 L119.60,258.39 L120.10,258.39 L120.60,258.39 L121.10,258.39 L121.60,258.39 L122.10,258.40 L122.60,258.40 L123.10,258.40 L123.60,258.40 L124.10,258.40 L124.60,258.40 L125.10,258.40 L125.60,258.40 L126.10,258.40 L126.60,258.41 L127.10,258.41 L127.60,258.41 L128.10,258.41 L128.60,258.41 L129.10,258.41 L129.60,258.41 L130.10,258.41 L130.60,258.41 L131.10,258.41 L131.60,258.42 L132.10,258.42 L132.60,258.42 L133.10,258.42 L133.60,258.42 L134.10,258.42 L134.60,258.42 L135.10,258.42 L135.60,258.43 L136.10,258.43 L136.60,258.43 L137.10,258.43 L137.60,258.43 L138.10,258.43 L138.60,258.43 L139.10,258.43 L139.60,258.44 L140.10,258.44 L140.60,258.44 L141.10,258.44 L141.60,258.44 L142.10,258.44 L142.60,258.44 L143.10,258.45 L143.60,258.45 L144.10,258.45 L144.60,258.45 L145.10,258.45 L145.60,258.45 L146.10,258.46 L146.60,258.46 L147.10,258.46 L147.60,258.46 L148.10,258.46 L148.60,258.46 L149.10,258.47 L149.60,258.47 L150.10,258.47 L150.60,258.47 L151.10,258.48 L151.60,258.48 L152.10,258.48 L152.60,258.48 L153.10,258.48 L153.60,258.49 L154.10,258.49 L154.60,258.49 L155.10,258.49 L155.60,258.50 L156.10,258.50 L156.60,258.50 L157.10,258.51 L157.60,258.51 L158.10,258.51 L158.60,258.51 L159.10,258.52 L159.60,258.52 L160.10,258.52 L160.60,258.53 L161.10,258.53 L161.60,258.53 L162.10,258.54 L162.60,258.54 L163.10,258.54 L163.60,258.55 L164.10,258.55 L164.60,258.55 L165.10,258.56 L165.60,258.56 L166.10,258.56 L166.60,258.57 L167.10,258.57 L167.60,258.58 L168.10,258.58 L168.60,258.58 L169.10,258.59 L169.60,258.59 L170.10,258.59 L170.60,258.60 L171.10,258.60 L171.60,258.61 L172.10,258.61 L172.60,258.61 L173.10,258.62 L173.60,258.62 L174.10,258.63 L174.60,258.63 L175.10,258.63 L175.60,258.64 L176.10,258.64 L176.60,258.65 L177.10,258.65 L177.60,258.65 L178.10,258.66 L178.60,258.66 L179.10,258.67 L179.60,258.67 L180.10,258.68 L180.60,258.68 L181.10,258.68 L181.60,258.69 L182.10,258.69 L182.60,258.70 L183.10,258.70 L183.60,258.71 L184.10,258.71 L184.60,258.72 L185.10,258.72 L185.60,258.72 L186.10,258.73 L186.60,258.73 L187.10,258.74 L187.60,258.74 L188.10,258.75 L188.60,258.75 L189.10,258.76 L189.60,258.76 L190.10,258.77 L190.60,258.77 L191.10,258.78 L191.60,258.78 L192.10,258.79 L192.60,258.79 L193.10,258.80 L193.60,258.81 L194.10,258.81 L194.60,258.82 L195.10,258.82 L195.60,258.83 L196.10,258.83 L196.60,258.84 L197.10,258.85 L197.60,258.85 L198.10,258.86 L198.60,258.87 L199.10,258.87 L199.60,258.88 L200.10,258.89 L200.60,258.89 L201.10,258.90 L201.60,258.91 L202.10,258.92 L202.60,258.92 L203.10,258.93 L203.60,258.94 L204.10,258.95 L204.60,258.95 L205.10,258.96 L205.60,258.97 L206.10,258.98 L206.60,258.99 L207.10,259.00 L207.60,259.01 L208.10,259.02 L208.60,259.03 L209.10,259.04 L209.60,259.05 L210.10,259.06 L210.60,259.07 L211.10,259.08 L211.60,259.09 L212.10,259.10 L212.60,259.11 L213.10,259.12 L213.60,259.14 L214.10,259.15 L214.60,259.16 L215.10,259.17 L215.60,259.18 L216.10,259.20 L216.60,259.21 L217.10,259.22 L217.60,259.24 L218.10,259.25 L218.60,259.27 L219.10,259.28 L219.60,259.30 L220.10,259.31 L220.60,259.33 L221.10,259.34 L221.60,259.36 L222.10,259.37 L222.60,259.39 L223.10,259.40 L223.60,259.42 L224.10,259.44 L224.60,259.46 L225.10,259.47 L225.60,259.49 L226.10,259.51 L226.60,259.52 L227.10,259.54 L227.60,259.56 L228.10,259.58 L228.60,259.60 L229.10,259.62 L229.60,259.63 L230.10,259.65 L230.60,259.67 L231.10,259.69 L231.60,259.71 L232.10,259.73 L232.60,259.75 L233.10,259.77 L233.60,259.79 L234.10,259.81 L234.60,259.83 L235.10,259.85 L235.60,259.87 L236.10,259.89 L236.60,259.90 L237.10,259.92 L237.60,259.94 L238.10,259.96 L238.60,259.98 L239.10,260.00 L239.60,260.02 L240.10,260.04 L240.60,260.06 L241.10,260.08 L241.60,260.10 L242.10,260.12 L242.60,260.13 L243.10,260.15 L243.60,260.17 L244.10,260.19 L244.60,260.21 L245.10,260.22 L245.60,260.24 L246.10,260.26 L246.60,260.28 L247.10,260.29 L247.60,260.31 L248.10,260.32 L248.60,260.34 L249.10,260.36 L249.60,260.37 L250.10,260.39 L250.60,260.40 L251.10,260.42 L251.60,260.43 L252.10,260.44 L252.60,260.46 L253.10,260.47 L253.60,260.48 L254.10,260.50 L254.60,260.51 L255.10,260.52 L255.60,260.53 L256.10,260.54 L256.60,260.56 L257.10,260.57 L257.60,260.58 L258.10,260.59 L258.60,260.60 L259.10,260.61 L259.60,260.62 L260.10,260.63 L260.60,260.63 L261.10,260.64 L261.60,260.65 L262.10,260.66 L262.60,260.67 L263.10,260.68 L263.60,260.68 L264.10,260.69 L264.60,260.70 L265.10,260.70 L265.60,260.71 L266.10,260.72 L266.60,260.72 L267.10,260.73 L267.60,260.73 L268.10,260.74 L268.60,260.74 L269.10,260.75 L269.60,260.75 L270.10,260.76 L270.60,260.76 L271.10,260.77 L271.60,260.77 L272.10,260.77 L272.60,260.78 L273.10,260.78 L273.60,260.78 L274.10,260.79 L274.60,260.79 L275.10,260.79 L275.60,260.80 L276.10,260.80 L276.60,260.80 L277.10,260.80 L277.60,260.81 L278.10,260.81 L278.60,260.81 L279.10,260.81 L279.60,260.81 L280.10,260.81 L280.60,260.82 L281.10,260.82 L281.60,260.82 L282.10,260.82 L282.60,260.82 L283.10,260.82 L283.60,260.83 L284.10,260.83 L284.60,260.83 L285.10,260.83 L285.60,260.83 L286.10,260.83 L286.60,260.83 L287.10,260.83 L287.60,260.83 L288.10,260.83 L288.60,260.83 L289.10,260.84 L289.60,260.84 L290.10,260.84 L290.60,260.84 L291.10,260.84 L291.60,260.84 L292.10,260.84 L292.60,260.84 L293.10,260.84 L293.60,260.84 L294.10,260.84 L294.60,260.84 L295.10,260.84 L295.60,260.84 L296.10,260.84 L296.60,260.84 L297.10,260.84 L297.60,260.84 L298.10,260.84 L298.60,260.84 L299.10,260.84 L299.60,260.84 L300.10,260.84 L300.60,260.84 L301.10,260.84 L301.60,260.84 L302.10,260.85 L302.60,260.85 L303.10,260.85 L303.60,260.85 L304.10,260.85 L304.60,260.85 L305.10,260.85 L305.60,260.85 L306.10,260.85 L306.60,260.85 L307.10,260.85 L307.60,260.85 L308.10,260.85 L308.60,260.85 L309.10,260.85 L309.60,260.85 L310.10,260.85 L310.60,260.85 L311.10,260.85 L311.60,260.85 L312.10,260.85 L312.60,260.85 L313.10,260.85 L313.60,260.85 L314.10,260.85 L314.60,260.85 L315.10,260.85 L315.60,260.85 L316.10,260.85 L316.60,260.85 L317.10,260.85 L317.60,260.85 L318.10,260.85 L318.60,260.85 L319.10,260.85 L319.60,260.85 L320.10,260.85 L320.60,260.85 L321.10,260.85 L321.60,260.85 L322.10,260.85 L322.60,260.85 L323.10,260.85 L323.60,260.85 L324.10,260.85 L324.60,260.85 L325.10,260.85 L325.60,260.85 L326.10,260.85 L326.60,260.85 L327.10,260.85 L327.60,260.85 L328.10,260.85 L328.60,260.85 L329.10,260.85 L329.60,260.85 L330.10,260.85 L330.60,260.85 L331.10,260.85 L331.60,260.85 L332.10,260.85 L332.60,260.85 L333.10,260.85 L333.60,260.85 L334.10,260.85 L334.60,260.85 L335.10,260.85 L335.60,260.85 L336.10,260.85 L336.60,260.85 L337.10,260.85 L337.60,260.85 L338.10,260.85 L338.60,260.85 L339.10,260.85 L339.60,260.85 L340.10,260.85 L340.60,260.85 L341.10,260.85 L341.60,260.85 L342.10,260.85 L342.60,260.85 L343.10,260.85 L343.60,260.85 L344.10,260.85 L344.60,260.85 L345.10,260.85 L345.60,260.85 L346.10,260.85 L346.60,260.85 L347.10,260.85 L347.60,260.85 L348.10,260.85 L348.60,260.85 L349.10,260.85 L349.60,260.85 L350.10,260.85 L350.60,260.85 L351.10,260.85 L351.60,260.85 L352.10,260.85 L352.60,260.85 L353.10,260.85 L353.60,260.85 L354.10,260.85 L354.60,260.85 L355.10,260.85 L355.60,260.85 L356.10,260.85 L356.60,260.85 L357.10,260.85 L357.60,260.85 L358.10,260.85 L358.60,260.85 L359.10,260.85 L359.60,260.85 L360.10,260.85 L360.60,260.85 L361.10,260.85 L361.60,260.85 L362.10,260.85 L362.60,260.85 L363.10,260.85 L363.60,260.85 L364.10,260.85 L364.60,260.85 L365.10,260.85 L365.60,260.85 L366.10,260.85 L366.60,260.85 L367.10,260.85 L367.60,260.85 L368.10,260.85 L368.60,260.85 L369.10,260.85 L369.60,260.85 L370.10,260.85 L370.60,260.85 L371.10,260.85 L371.60,260.85" fill="none" stroke="#2e2616" stroke-width="0.9" opacity="0.75"/>
<line x1="236.10" y1="85.20" x2="236.10" y2="135.00" stroke="#000" stroke-width="2.3" stroke-dasharray="2 2"/>
<text transform="translate(241.30,82.40) rotate(-90)" class="lab">529.98 eV</text>
<line x1="194.90" y1="176.00" x2="194.90" y2="254.00" stroke="#000" stroke-width="2.3" stroke-dasharray="2 2"/>
<text transform="translate(200.80,172.40) rotate(-90)" class="lab">531.18 eV</text>
<line x1="167.90" y1="188.00" x2="167.90" y2="250.50" stroke="#000" stroke-width="2.3" stroke-dasharray="2 2"/>
<text transform="translate(174.30,184.10) rotate(-90)" class="lab">531.98 eV</text>
<line x1="122.40" y1="237.00" x2="122.40" y2="259.00" stroke="#000" stroke-width="2.3" stroke-dasharray="2 2"/>
<text transform="translate(127.80,231.30) rotate(-90)" class="lab">533.28 eV</text>
<path d="M30.10,5.60 H372.80 V281.90 H30.10 Z" fill="none" stroke="#000" stroke-width="1.6"/>
<line x1="372.80" y1="281.90" x2="372.80" y2="287.20" stroke="#000" stroke-width="1.5"/>
<text x="372.80" y="299.9" class="tick" text-anchor="middle">526</text>
<line x1="338.53" y1="281.90" x2="338.53" y2="284.90" stroke="#000" stroke-width="1.5"/>
<line x1="304.26" y1="281.90" x2="304.26" y2="287.20" stroke="#000" stroke-width="1.5"/>
<text x="304.26" y="299.9" class="tick" text-anchor="middle">528</text>
<line x1="269.99" y1="281.90" x2="269.99" y2="284.90" stroke="#000" stroke-width="1.5"/>
<line x1="235.72" y1="281.90" x2="235.72" y2="287.20" stroke="#000" stroke-width="1.5"/>
<text x="235.72" y="299.9" class="tick" text-anchor="middle">530</text>
<line x1="201.45" y1="281.90" x2="201.45" y2="284.90" stroke="#000" stroke-width="1.5"/>
<line x1="167.18" y1="281.90" x2="167.18" y2="287.20" stroke="#000" stroke-width="1.5"/>
<text x="167.18" y="299.9" class="tick" text-anchor="middle">532</text>
<line x1="132.91" y1="281.90" x2="132.91" y2="284.90" stroke="#000" stroke-width="1.5"/>
<line x1="98.64" y1="281.90" x2="98.64" y2="287.20" stroke="#000" stroke-width="1.5"/>
<text x="98.64" y="299.9" class="tick" text-anchor="middle">534</text>
<line x1="64.37" y1="281.90" x2="64.37" y2="284.90" stroke="#000" stroke-width="1.5"/>
<line x1="30.10" y1="281.90" x2="30.10" y2="287.20" stroke="#000" stroke-width="1.5"/>
<text x="30.10" y="299.9" class="tick" text-anchor="middle">536</text>
<path d="M431.70,262.93 L432.20,262.93 L432.70,262.92 L433.20,262.92 L433.70,262.91 L434.20,262.91 L434.70,262.90 L435.20,262.90 L435.70,262.89 L436.20,262.89 L436.70,262.88 L437.20,262.88 L437.70,262.87 L438.20,262.86 L438.70,262.86 L439.20,262.85 L439.70,262.84 L440.20,262.84 L440.70,262.83 L441.20,262.82 L441.70,262.81 L442.20,262.80 L442.70,262.79 L443.20,262.78 L443.70,262.77 L444.20,262.76 L444.70,262.75 L445.20,262.74 L445.70,262.73 L446.20,262.72 L446.70,262.71 L447.20,262.69 L447.70,262.68 L448.20,262.67 L448.70,262.65 L449.20,262.64 L449.70,262.62 L450.20,262.60 L450.70,262.59 L451.20,262.57 L451.70,262.55 L452.20,262.53 L452.70,262.51 L453.20,262.49 L453.70,262.47 L454.20,262.45 L454.70,262.43 L455.20,262.41 L455.70,262.39 L456.20,262.36 L456.70,262.34 L457.20,262.31 L457.70,262.29 L458.20,262.26 L458.70,262.23 L459.20,262.20 L459.70,262.17 L460.20,262.14 L460.70,262.11 L461.20,262.08 L461.70,262.05 L462.20,262.01 L462.70,261.98 L463.20,261.94 L463.70,261.91 L464.20,261.87 L464.70,261.83 L465.20,261.79 L465.70,261.75 L466.20,261.71 L466.70,261.67 L467.20,261.62 L467.70,261.58 L468.20,261.53 L468.70,261.49 L469.20,261.44 L469.70,261.39 L470.20,261.34 L470.70,261.29 L471.20,261.24 L471.70,261.19 L472.20,261.13 L472.70,261.08 L473.20,261.02 L473.70,260.97 L474.20,260.91 L474.70,260.85 L475.20,260.79 L475.70,260.73 L476.20,260.67 L476.70,260.60 L477.20,260.54 L477.70,260.48 L478.20,260.41 L478.70,260.34 L479.20,260.27 L479.70,260.21 L480.20,260.14 L480.70,260.07 L481.20,259.99 L481.70,259.92 L482.20,259.85 L482.70,259.77 L483.20,259.70 L483.70,259.62 L484.20,259.55 L484.70,259.47 L485.20,259.39 L485.70,259.31 L486.20,259.24 L486.70,259.16 L487.20,259.08 L487.70,258.99 L488.20,258.91 L488.70,258.83 L489.20,258.75 L489.70,258.67 L490.20,258.58 L490.70,258.50 L491.20,258.42 L491.70,258.33 L492.20,258.25 L492.70,258.16 L493.20,258.08 L493.70,257.99 L494.20,257.91 L494.70,257.83 L495.20,257.74 L495.70,257.66 L496.20,257.57 L496.70,257.49 L497.20,257.40 L497.70,257.32 L498.20,257.24 L498.70,257.15 L499.20,257.07 L499.70,256.99 L500.20,256.91 L500.70,256.82 L501.20,256.74 L501.70,256.66 L502.20,256.58 L502.70,256.50 L503.20,256.42 L503.70,256.35 L504.20,256.27 L504.70,256.19 L505.20,256.12 L505.70,256.04 L506.20,255.97 L506.70,255.90 L507.20,255.82 L507.70,255.75 L508.20,255.68 L508.70,255.61 L509.20,255.54 L509.70,255.47 L510.20,255.40 L510.70,255.34 L511.20,255.27 L511.70,255.20 L512.20,255.14 L512.70,255.07 L513.20,255.01 L513.70,254.94 L514.20,254.88 L514.70,254.82 L515.20,254.75 L515.70,254.69 L516.20,254.62 L516.70,254.56 L517.20,254.50 L517.70,254.43 L518.20,254.37 L518.70,254.30 L519.20,254.23 L519.70,254.17 L520.20,254.10 L520.70,254.03 L521.20,253.95 L521.70,253.88 L522.20,253.80 L522.70,253.72 L523.20,253.64 L523.70,253.56 L524.20,253.47 L524.70,253.38 L525.20,253.29 L525.70,253.19 L526.20,253.09 L526.70,252.99 L527.20,252.87 L527.70,252.76 L528.20,252.64 L528.70,252.51 L529.20,252.38 L529.70,252.24 L530.20,252.10 L530.70,251.95 L531.20,251.79 L531.70,251.62 L532.20,251.45 L532.70,251.27 L533.20,251.08 L533.70,250.88 L534.20,250.67 L534.70,250.46 L535.20,250.23 L535.70,250.00 L536.20,249.76 L536.70,249.50 L537.20,249.24 L537.70,248.97 L538.20,248.68 L538.70,248.39 L539.20,248.08 L539.70,247.77 L540.20,247.44 L540.70,247.11 L541.20,246.76 L541.70,246.41 L542.20,246.04 L542.70,245.66 L543.20,245.28 L543.70,244.88 L544.20,244.48 L544.70,244.07 L545.20,243.65 L545.70,243.22 L546.20,242.78 L546.70,242.34 L547.20,241.89 L547.70,241.44 L548.20,240.98 L548.70,240.52 L549.20,240.05 L549.70,239.59 L550.20,239.12 L550.70,238.65 L551.20,238.18 L551.70,237.70 L552.20,237.23 L552.70,236.77 L553.20,236.30 L553.70,235.83 L554.20,235.37 L554.70,234.91 L555.20,234.45 L555.70,234.00 L556.20,233.55 L556.70,233.09 L557.20,232.65 L557.70,232.20 L558.20,231.75 L558.70,231.31 L559.20,230.86 L559.70,230.42 L560.20,229.97 L560.70,229.53 L561.20,229.08 L561.70,228.62 L562.20,228.17 L562.70,227.71 L563.20,227.25 L563.70,226.79 L564.20,226.32 L564.70,225.85 L565.20,225.38 L565.70,224.90 L566.20,224.42 L566.70,223.94 L567.20,223.46 L567.70,222.98 L568.20,222.50 L568.70,222.02 L569.20,221.54 L569.70,221.06 L570.20,220.58 L570.70,220.10 L571.20,219.62 L571.70,219.14 L572.20,218.66 L572.70,218.19 L573.20,217.71 L573.70,217.23 L574.20,216.76 L574.70,216.28 L575.20,215.80 L575.70,215.33 L576.20,214.85 L576.70,214.37 L577.20,213.88 L577.70,213.40 L578.20,212.91 L578.70,212.42 L579.20,211.93 L579.70,211.43 L580.20,210.93 L580.70,210.42 L581.20,209.91 L581.70,209.40 L582.20,208.88 L582.70,208.36 L583.20,207.84 L583.70,207.31 L584.20,206.77 L584.70,206.24 L585.20,205.70 L585.70,205.15 L586.20,204.61 L586.70,204.06 L587.20,203.50 L587.70,202.95 L588.20,202.38 L588.70,201.82 L589.20,201.25 L589.70,200.67 L590.20,200.09 L590.70,199.50 L591.20,198.90 L591.70,198.30 L592.20,197.69 L592.70,197.06 L593.20,196.43 L593.70,195.78 L594.20,195.12 L594.70,194.44 L595.20,193.75 L595.70,193.03 L596.20,192.30 L596.70,191.55 L597.20,190.78 L597.70,189.98 L598.20,189.16 L598.70,188.31 L599.20,187.44 L599.70,186.54 L600.20,185.61 L600.70,184.65 L601.20,183.67 L601.70,182.65 L602.20,181.61 L602.70,180.53 L603.20,179.43 L603.70,178.29 L604.20,177.12 L604.70,175.92 L605.20,174.69 L605.70,173.42 L606.20,172.13 L606.70,170.81 L607.20,169.45 L607.70,168.07 L608.20,166.65 L608.70,165.21 L609.20,163.74 L609.70,162.25 L610.20,160.73 L610.70,159.18 L611.20,157.62 L611.70,156.03 L612.20,154.42 L612.70,152.79 L613.20,151.15 L613.70,149.49 L614.20,147.82 L614.70,146.14 L615.20,144.45 L615.70,142.75 L616.20,141.05 L616.70,139.34 L617.20,137.64 L617.70,135.94 L618.20,134.25 L618.70,132.56 L619.20,130.89 L619.70,129.23 L620.20,127.59 L620.70,125.96 L621.20,124.37 L621.70,122.80 L622.20,121.26 L622.70,119.75 L623.20,118.28 L623.70,116.85 L624.20,115.46 L624.70,114.13 L625.20,112.84 L625.70,111.61 L626.20,110.43 L626.70,109.32 L627.20,108.26 L627.70,107.28 L628.20,106.37 L628.70,105.53 L629.20,104.77 L629.70,104.08 L630.20,103.48 L630.70,102.96 L631.20,102.53 L631.70,102.19 L632.20,101.94 L632.70,101.79 L633.20,101.72 L633.70,101.75 L634.20,101.88 L634.70,102.10 L635.20,102.43 L635.70,102.88 L636.20,103.45 L636.70,104.13 L637.20,104.93 L637.70,105.84 L638.20,106.87 L638.70,108.00 L639.20,109.24 L639.70,110.58 L640.20,112.02 L640.70,113.55 L641.20,115.17 L641.70,116.87 L642.20,118.65 L642.70,120.50 L643.20,122.43 L643.70,124.41 L644.20,126.45 L644.70,128.55 L645.20,130.69 L645.70,132.88 L646.20,135.10 L646.70,137.35 L647.20,139.64 L647.70,141.94 L648.20,144.27 L648.70,146.61 L649.20,148.96 L649.70,151.31 L650.20,153.67 L650.70,156.03 L651.20,158.39 L651.70,160.74 L652.20,163.09 L652.70,165.42 L653.20,167.74 L653.70,170.04 L654.20,172.32 L654.70,174.58 L655.20,176.82 L655.70,179.04 L656.20,181.23 L656.70,183.39 L657.20,185.53 L657.70,187.63 L658.20,189.71 L658.70,191.75 L659.20,193.76 L659.70,195.74 L660.20,197.69 L660.70,199.60 L661.20,201.47 L661.70,203.31 L662.20,205.12 L662.70,206.88 L663.20,208.61 L663.70,210.31 L664.20,211.97 L664.70,213.59 L665.20,215.18 L665.70,216.73 L666.20,218.24 L666.70,219.71 L667.20,221.15 L667.70,222.56 L668.20,223.93 L668.70,225.26 L669.20,226.56 L669.70,227.82 L670.20,229.05 L670.70,230.24 L671.20,231.40 L671.70,232.53 L672.20,233.63 L672.70,234.69 L673.20,235.72 L673.70,236.73 L674.20,237.70 L674.70,238.64 L675.20,239.55 L675.70,240.43 L676.20,241.29 L676.70,242.12 L677.20,242.92 L677.70,243.70 L678.20,244.45 L678.70,245.17 L679.20,245.87 L679.70,246.55 L680.20,247.21 L680.70,247.84 L681.20,248.45 L681.70,249.04 L682.20,249.61 L682.70,250.16 L683.20,250.69 L683.70,251.20 L684.20,251.69 L684.70,252.17 L685.20,252.63 L685.70,253.07 L686.20,253.50 L686.70,253.91 L687.20,254.31 L687.70,254.69 L688.20,255.06 L688.70,255.42 L689.20,255.76 L689.70,256.09 L690.20,256.41 L690.70,256.72 L691.20,257.01 L691.70,257.30 L692.20,257.57 L692.70,257.84 L693.20,258.09 L693.70,258.34 L694.20,258.58 L694.70,258.81 L695.20,259.03 L695.70,259.24 L696.20,259.45 L696.70,259.65 L697.20,259.84 L697.70,260.03 L698.20,260.21 L698.70,260.38 L699.20,260.55 L699.70,260.71 L700.20,260.86 L700.70,261.02 L701.20,261.16 L701.70,261.30 L702.20,261.44 L702.70,261.57 L703.20,261.70 L703.70,261.82 L704.20,261.94 L704.70,262.06 L705.20,262.17 L705.70,262.28 L706.20,262.39 L706.70,262.49 L707.20,262.59 L707.70,262.68 L708.20,262.78 L708.70,262.87 L709.20,262.95 L709.70,263.04 L710.20,263.12 L710.70,263.20 L711.20,263.28 L711.70,263.36 L712.20,263.43 L712.70,263.50 L713.20,263.57 L713.70,263.64 L714.20,263.70 L714.70,263.77 L715.20,263.83 L715.70,263.89 L716.20,263.95 L716.70,264.00 L717.20,264.06 L717.70,264.11 L718.20,264.16 L718.70,264.21 L719.20,264.26 L719.70,264.31 L720.20,264.36 L720.70,264.40 L721.20,264.45 L721.70,264.49 L722.20,264.53 L722.70,264.57 L723.20,264.61 L723.70,264.65 L724.20,264.69 L724.70,264.73 L725.20,264.76 L725.70,264.80 L726.20,264.83 L726.70,264.86 L727.20,264.89 L727.70,264.93 L728.20,264.96 L728.70,264.99 L729.20,265.01 L729.70,265.04 L730.20,265.07 L730.70,265.10 L731.20,265.12 L731.70,265.15 L732.20,265.17 L732.70,265.19 L733.20,265.22 L733.70,265.24 L734.20,265.26 L734.70,265.28 L735.20,265.30 L735.70,265.32 L736.20,265.34 L736.70,265.36 L737.20,265.38 L737.70,265.40 L738.20,265.42 L738.70,265.43 L739.20,265.45 L739.70,265.47 L740.20,265.48 L740.70,265.50 L741.20,265.51 L741.70,265.53 L742.20,265.54 L742.70,265.55 L743.20,265.57 L743.70,265.58 L744.20,265.59 L744.70,265.60 L745.20,265.62 L745.70,265.63 L746.20,265.64 L746.70,265.65 L747.20,265.66 L747.70,265.67 L748.20,265.68 L748.70,265.69 L749.20,265.70 L749.70,265.71 L750.20,265.72 L750.70,265.73 L751.20,265.73 L751.70,265.74 L752.20,265.75 L752.70,265.76 L753.20,265.77 L753.70,265.77 L754.20,265.78 L754.70,265.79 L755.20,265.79 L755.70,265.80 L756.20,265.81 L756.70,265.81 L757.20,265.82 L757.70,265.82 L758.20,265.83 L758.70,265.84 L759.20,265.84 L759.70,265.85 L760.20,265.85 L760.70,265.86 L761.20,265.86 L761.70,265.86 L762.20,265.87 L762.70,265.87 L763.20,265.88 L763.70,265.88 L764.20,265.88 L764.70,265.89 L765.20,265.89 L765.70,265.90 L766.20,265.90 L766.70,265.90 L767.20,265.91 L767.70,265.91 L768.20,265.91 L768.70,265.91 L769.20,265.92 L769.70,265.92 L770.20,265.92 L770.70,265.93 L771.20,265.93 L771.70,265.93 L772.20,265.93 L772.70,265.93 L773.20,265.94 L773.70,265.94 L774.20,265.94" fill="none" stroke="#151515" stroke-width="1.2"/>
<path d="M431.70,262.23 L432.20,262.23 L432.70,262.22 L433.20,262.22 L433.70,262.21 L434.20,262.21 L434.70,262.20 L435.20,262.20 L435.70,262.19 L436.20,262.19 L436.70,262.18 L437.20,262.18 L437.70,262.17 L438.20,262.16 L438.70,262.16 L439.20,262.15 L439.70,262.14 L440.20,262.14 L440.70,262.13 L441.20,262.12 L441.70,262.11 L442.20,262.10 L442.70,262.09 L443.20,262.08 L443.70,262.07 L444.20,262.06 L444.70,262.05 L445.20,262.04 L445.70,262.03 L446.20,262.02 L446.70,262.01 L447.20,261.99 L447.70,261.98 L448.20,261.97 L448.70,261.95 L449.20,261.94 L449.70,261.92 L450.20,261.90 L450.70,261.89 L451.20,261.87 L451.70,261.85 L452.20,261.83 L452.70,261.81 L453.20,261.79 L453.70,261.77 L454.20,261.75 L454.70,261.73 L455.20,261.71 L455.70,261.69 L456.20,261.66 L456.70,261.64 L457.20,261.61 L457.70,261.59 L458.20,261.56 L458.70,261.53 L459.20,261.50 L459.70,261.47 L460.20,261.44 L460.70,261.41 L461.20,261.38 L461.70,261.35 L462.20,261.31 L462.70,261.28 L463.20,261.24 L463.70,261.21 L464.20,261.17 L464.70,261.13 L465.20,261.09 L465.70,261.05 L466.20,261.01 L466.70,260.97 L467.20,260.92 L467.70,260.88 L468.20,260.83 L468.70,260.79 L469.20,260.74 L469.70,260.69 L470.20,260.64 L470.70,260.59 L471.20,260.54 L471.70,260.49 L472.20,260.43 L472.70,260.38 L473.20,260.32 L473.70,260.27 L474.20,260.21 L474.70,260.15 L475.20,260.09 L475.70,260.03 L476.20,259.97 L476.70,259.90 L477.20,259.84 L477.70,259.78 L478.20,259.71 L478.70,259.64 L479.20,259.57 L479.70,259.51 L480.20,259.44 L480.70,259.37 L481.20,259.29 L481.70,259.22 L482.20,259.15 L482.70,259.07 L483.20,259.00 L483.70,258.92 L484.20,258.85 L484.70,258.77 L485.20,258.69 L485.70,258.61 L486.20,258.54 L486.70,258.46 L487.20,258.38 L487.70,258.29 L488.20,258.21 L488.70,258.13 L489.20,258.05 L489.70,257.97 L490.20,257.88 L490.70,257.80 L491.20,257.72 L491.70,257.63 L492.20,257.55 L492.70,257.46 L493.20,257.38 L493.70,257.29 L494.20,257.21 L494.70,257.13 L495.20,257.04 L495.70,256.96 L496.20,256.87 L496.70,256.79 L497.20,256.70 L497.70,256.62 L498.20,256.54 L498.70,256.45 L499.20,256.37 L499.70,256.29 L500.20,256.21 L500.70,256.12 L501.20,256.04 L501.70,255.96 L502.20,255.88 L502.70,255.80 L503.20,255.72 L503.70,255.65 L504.20,255.57 L504.70,255.49 L505.20,255.42 L505.70,255.34 L506.20,255.27 L506.70,255.20 L507.20,255.12 L507.70,255.05 L508.20,254.98 L508.70,254.91 L509.20,254.84 L509.70,254.77 L510.20,254.70 L510.70,254.64 L511.20,254.57 L511.70,254.50 L512.20,254.44 L512.70,254.37 L513.20,254.31 L513.70,254.24 L514.20,254.18 L514.70,254.12 L515.20,254.05 L515.70,253.99 L516.20,253.92 L516.70,253.86 L517.20,253.80 L517.70,253.73 L518.20,253.67 L518.70,253.60 L519.20,253.53 L519.70,253.47 L520.20,253.40 L520.70,253.33 L521.20,253.25 L521.70,253.18 L522.20,253.10 L522.70,253.02 L523.20,252.94 L523.70,252.86 L524.20,252.77 L524.70,252.68 L525.20,252.59 L525.70,252.49 L526.20,252.39 L526.70,252.29 L527.20,252.17 L527.70,252.06 L528.20,251.94 L528.70,251.81 L529.20,251.68 L529.70,251.54 L530.20,251.40 L530.70,251.25 L531.20,251.09 L531.70,250.92 L532.20,250.75 L532.70,250.57 L533.20,250.38 L533.70,250.18 L534.20,249.97 L534.70,249.76 L535.20,249.53 L535.70,249.30 L536.20,249.06 L536.70,248.80 L537.20,248.54 L537.70,248.27 L538.20,247.98 L538.70,247.69 L539.20,247.38 L539.70,247.07 L540.20,246.74 L540.70,246.41 L541.20,246.06 L541.70,245.71 L542.20,245.34 L542.70,244.96 L543.20,244.58 L543.70,244.18 L544.20,243.78 L544.70,243.37 L545.20,242.95 L545.70,242.52 L546.20,242.08 L546.70,241.64 L547.20,241.19 L547.70,240.74 L548.20,240.28 L548.70,239.82 L549.20,239.35 L549.70,238.89 L550.20,238.42 L550.70,237.95 L551.20,237.48 L551.70,237.00 L552.20,236.53 L552.70,236.07 L553.20,235.60 L553.70,235.13 L554.20,234.67 L554.70,234.21 L555.20,233.75 L555.70,233.30 L556.20,232.85 L556.70,232.39 L557.20,231.95 L557.70,231.50 L558.20,231.05 L558.70,230.61 L559.20,230.16 L559.70,229.72 L560.20,229.27 L560.70,228.83 L561.20,228.38 L561.70,227.92 L562.20,227.47 L562.70,227.01 L563.20,226.55 L563.70,226.09 L564.20,225.62 L564.70,225.15 L565.20,224.68 L565.70,224.20 L566.20,223.72 L566.70,223.24 L567.20,222.76 L567.70,222.28 L568.20,221.80 L568.70,221.32 L569.20,220.84 L569.70,220.36 L570.20,219.88 L570.70,219.40 L571.20,218.92 L571.70,218.44 L572.20,217.96 L572.70,217.49 L573.20,217.01 L573.70,216.53 L574.20,216.06 L574.70,215.58 L575.20,215.10 L575.70,214.63 L576.20,214.15 L576.70,213.67 L577.20,213.18 L577.70,212.70 L578.20,212.21 L578.70,211.72 L579.20,211.23 L579.70,210.73 L580.20,210.23 L580.70,209.72 L581.20,209.21 L581.70,208.70 L582.20,208.18 L582.70,207.66 L583.20,207.13 L583.70,206.61 L584.20,206.07 L584.70,205.54 L585.20,205.00 L585.70,204.45 L586.20,203.91 L586.70,203.36 L587.20,202.80 L587.70,202.24 L588.20,201.68 L588.70,201.12 L589.20,200.54 L589.70,199.97 L590.20,199.39 L590.70,198.80 L591.20,198.20 L591.70,197.60 L592.20,196.98 L592.70,196.36 L593.20,195.72 L593.70,195.07 L594.20,194.41 L594.70,193.73 L595.20,193.04 L595.70,192.32 L596.20,191.59 L596.70,190.84 L597.20,190.06 L597.70,189.26 L598.20,188.44 L598.70,187.59 L599.20,186.72 L599.70,185.81 L600.20,184.88 L600.70,183.92 L601.20,182.93 L601.70,181.91 L602.20,180.86 L602.70,179.78 L603.20,178.67 L603.70,177.53 L604.20,176.35 L604.70,175.15 L605.20,173.91 L605.70,172.64 L606.20,171.33 L606.70,170.00 L607.20,168.64 L607.70,167.24 L608.20,165.82 L608.70,164.36 L609.20,162.88 L609.70,161.38 L610.20,159.84 L610.70,158.28 L611.20,156.70 L611.70,155.10 L612.20,153.47 L612.70,151.83 L613.20,150.16 L613.70,148.49 L614.20,146.79 L614.70,145.09 L615.20,143.38 L615.70,141.66 L616.20,139.93 L616.70,138.21 L617.20,136.48 L617.70,134.75 L618.20,133.03 L618.70,131.32 L619.20,129.62 L619.70,127.93 L620.20,126.26 L620.70,124.61 L621.20,122.99 L621.70,121.39 L622.20,119.82 L622.70,118.28 L623.20,116.79 L623.70,115.33 L624.20,113.92 L624.70,112.55 L625.20,111.24 L625.70,109.98 L626.20,108.77 L626.70,107.64 L627.20,106.56 L627.70,105.55 L628.20,104.62 L628.70,103.76 L629.20,102.98 L629.70,102.28 L630.20,101.66 L630.70,101.13 L631.20,100.68 L631.70,100.33 L632.20,100.07 L632.70,99.90 L633.20,99.83 L633.70,99.86 L634.20,99.98 L634.70,100.20 L635.20,100.52 L635.70,100.93 L636.20,101.42 L636.70,101.99 L637.20,102.65 L637.70,103.40 L638.20,104.22 L638.70,105.14 L639.20,106.13 L639.70,107.21 L640.20,108.36 L640.70,109.60 L641.20,110.91 L641.70,112.30 L642.20,113.76 L642.70,115.29 L643.20,116.89 L643.70,118.56 L644.20,120.30 L644.70,122.10 L645.20,123.95 L645.70,125.87 L646.20,127.83 L646.70,129.85 L647.20,131.92 L647.70,134.04 L648.20,136.19 L648.70,138.39 L649.20,140.62 L649.70,142.89 L650.20,145.19 L650.70,147.51 L651.20,149.86 L651.70,152.23 L652.20,154.62 L652.70,157.02 L653.20,159.43 L653.70,161.85 L654.20,164.28 L654.70,166.71 L655.20,169.14 L655.70,171.56 L656.20,173.98 L656.70,176.39 L657.20,178.79 L657.70,181.18 L658.20,183.55 L658.70,185.90 L659.20,188.23 L659.70,190.54 L660.20,192.82 L660.70,195.08 L661.20,197.31 L661.70,199.50 L662.20,201.67 L662.70,203.80 L663.20,205.89 L663.70,207.95 L664.20,209.98 L664.70,211.96 L665.20,213.90 L665.70,215.80 L666.20,217.67 L666.70,219.49 L667.20,221.26 L667.70,223.00 L668.20,224.69 L668.70,226.33 L669.20,227.94 L669.70,229.50 L670.20,231.01 L670.70,232.48 L671.20,233.91 L671.70,235.29 L672.20,236.63 L672.70,237.93 L673.20,239.18 L673.70,240.40 L674.20,241.57 L674.70,242.70 L675.20,243.79 L675.70,244.83 L676.20,245.84 L676.70,246.82 L677.20,247.75 L677.70,248.65 L678.20,249.51 L678.70,250.33 L679.20,251.12 L679.70,251.88 L680.20,252.60 L680.70,253.30 L681.20,253.96 L681.70,254.59 L682.20,255.19 L682.70,255.77 L683.20,256.32 L683.70,256.84 L684.20,257.33 L684.70,257.81 L685.20,258.25 L685.70,258.68 L686.20,259.08 L686.70,259.46 L687.20,259.83 L687.70,260.17 L688.20,260.49 L688.70,260.80 L689.20,261.09 L689.70,261.36 L690.20,261.62 L690.70,261.87 L691.20,262.09 L691.70,262.31 L692.20,262.51 L692.70,262.70 L693.20,262.88 L693.70,263.05 L694.20,263.21 L694.70,263.36 L695.20,263.49 L695.70,263.62 L696.20,263.75 L696.70,263.86 L697.20,263.97 L697.70,264.06 L698.20,264.16 L698.70,264.24 L699.20,264.32 L699.70,264.40 L700.20,264.47 L700.70,264.53 L701.20,264.59 L701.70,264.65 L702.20,264.70 L702.70,264.75 L703.20,264.79 L703.70,264.83 L704.20,264.87 L704.70,264.91 L705.20,264.94 L705.70,264.97 L706.20,265.00 L706.70,265.02 L707.20,265.05 L707.70,265.07 L708.20,265.09 L708.70,265.11 L709.20,265.12 L709.70,265.14 L710.20,265.15 L710.70,265.17 L711.20,265.18 L711.70,265.19 L712.20,265.20 L712.70,265.21 L713.20,265.22 L713.70,265.22 L714.20,265.23 L714.70,265.24 L715.20,265.24 L715.70,265.25 L716.20,265.25 L716.70,265.26 L717.20,265.26 L717.70,265.27 L718.20,265.27 L718.70,265.27 L719.20,265.27 L719.70,265.28 L720.20,265.28 L720.70,265.28 L721.20,265.28 L721.70,265.29 L722.20,265.29 L722.70,265.29 L723.20,265.29 L723.70,265.29 L724.20,265.29 L724.70,265.29 L725.20,265.29 L725.70,265.29 L726.20,265.29 L726.70,265.30 L727.20,265.30 L727.70,265.30 L728.20,265.30 L728.70,265.30 L729.20,265.30 L729.70,265.30 L730.20,265.30 L730.70,265.30 L731.20,265.30 L731.70,265.30 L732.20,265.30 L732.70,265.30 L733.20,265.30 L733.70,265.30 L734.20,265.30 L734.70,265.30 L735.20,265.30 L735.70,265.30 L736.20,265.30 L736.70,265.30 L737.20,265.30 L737.70,265.30 L738.20,265.30 L738.70,265.30 L739.20,265.30 L739.70,265.30 L740.20,265.30 L740.70,265.30 L741.20,265.30 L741.70,265.30 L742.20,265.30 L742.70,265.30 L743.20,265.30 L743.70,265.30 L744.20,265.30 L744.70,265.30 L745.20,265.30 L745.70,265.30 L746.20,265.30 L746.70,265.30 L747.20,265.30 L747.70,265.30 L748.20,265.30 L748.70,265.30 L749.20,265.30 L749.70,265.30 L750.20,265.30 L750.70,265.30 L751.20,265.30 L751.70,265.30 L752.20,265.30 L752.70,265.30 L753.20,265.30 L753.70,265.30 L754.20,265.30 L754.70,265.30 L755.20,265.30 L755.70,265.30 L756.20,265.30 L756.70,265.30 L757.20,265.30 L757.70,265.30 L758.20,265.30 L758.70,265.30 L759.20,265.30 L759.70,265.30 L760.20,265.30 L760.70,265.30 L761.20,265.30 L761.70,265.30 L762.20,265.30 L762.70,265.30 L763.20,265.30 L763.70,265.30 L764.20,265.30 L764.70,265.30 L765.20,265.30 L765.70,265.30 L766.20,265.30 L766.70,265.30 L767.20,265.30 L767.70,265.30 L768.20,265.30 L768.70,265.30 L769.20,265.30 L769.70,265.30 L770.20,265.30 L770.70,265.30 L771.20,265.30 L771.70,265.30 L772.20,265.30 L772.70,265.30 L773.20,265.30 L773.70,265.30 L774.20,265.30" fill="none" stroke="#EBA55C" stroke-width="1.9"/>
<path d="M544.20,262.30 L544.70,262.30 L545.20,262.30 L545.70,262.29 L546.20,262.29 L546.70,262.29 L547.20,262.28 L547.70,262.28 L548.20,262.28 L548.70,262.27 L549.20,262.27 L549.70,262.27 L550.20,262.26 L550.70,262.26 L551.20,262.25 L551.70,262.25 L552.20,262.24 L552.70,262.24 L553.20,262.23 L553.70,262.23 L554.20,262.22 L554.70,262.21 L555.20,262.21 L555.70,262.20 L556.20,262.19 L556.70,262.18 L557.20,262.17 L557.70,262.16 L558.20,262.15 L558.70,262.14 L559.20,262.13 L559.70,262.11 L560.20,262.10 L560.70,262.09 L561.20,262.07 L561.70,262.05 L562.20,262.03 L562.70,262.01 L563.20,261.99 L563.70,261.97 L564.20,261.94 L564.70,261.92 L565.20,261.89 L565.70,261.86 L566.20,261.82 L566.70,261.79 L567.20,261.75 L567.70,261.71 L568.20,261.67 L568.70,261.62 L569.20,261.57 L569.70,261.51 L570.20,261.46 L570.70,261.39 L571.20,261.33 L571.70,261.25 L572.20,261.18 L572.70,261.10 L573.20,261.01 L573.70,260.91 L574.20,260.81 L574.70,260.71 L575.20,260.59 L575.70,260.47 L576.20,260.34 L576.70,260.20 L577.20,260.05 L577.70,259.89 L578.20,259.72 L578.70,259.54 L579.20,259.35 L579.70,259.15 L580.20,258.93 L580.70,258.70 L581.20,258.46 L581.70,258.20 L582.20,257.93 L582.70,257.64 L583.20,257.33 L583.70,257.00 L584.20,256.66 L584.70,256.30 L585.20,255.91 L585.70,255.51 L586.20,255.08 L586.70,254.63 L587.20,254.15 L587.70,253.66 L588.20,253.13 L588.70,252.58 L589.20,252.00 L589.70,251.39 L590.20,250.75 L590.70,250.08 L591.20,249.38 L591.70,248.65 L592.20,247.88 L592.70,247.08 L593.20,246.24 L593.70,245.37 L594.20,244.45 L594.70,243.50 L595.20,242.52 L595.70,241.49 L596.20,240.42 L596.70,239.31 L597.20,238.15 L597.70,236.96 L598.20,235.72 L598.70,234.44 L599.20,233.11 L599.70,231.74 L600.20,230.32 L600.70,228.86 L601.20,227.35 L601.70,225.80 L602.20,224.20 L602.70,222.55 L603.20,220.86 L603.70,219.12 L604.20,217.34 L604.70,215.52 L605.20,213.65 L605.70,211.73 L606.20,209.78 L606.70,207.78 L607.20,205.74 L607.70,203.66 L608.20,201.55 L608.70,199.40 L609.20,197.21 L609.70,194.99 L610.20,192.73 L610.70,190.45 L611.20,188.14 L611.70,185.80 L612.20,183.44 L612.70,181.05 L613.20,178.65 L613.70,176.23 L614.20,173.80 L614.70,171.36 L615.20,168.91 L615.70,166.45 L616.20,163.99 L616.70,161.54 L617.20,159.08 L617.70,156.64 L618.20,154.21 L618.70,151.80 L619.20,149.40 L619.70,147.02 L620.20,144.68 L620.70,142.36 L621.20,140.08 L621.70,137.83 L622.20,135.63 L622.70,133.47 L623.20,131.37 L623.70,129.31 L624.20,127.32 L624.70,125.38 L625.20,123.51 L625.70,121.71 L626.20,119.98 L626.70,118.33 L627.20,116.76 L627.70,115.27 L628.20,113.87 L628.70,112.56 L629.20,111.34 L629.70,110.22 L630.20,109.20 L630.70,108.27 L631.20,107.45 L631.70,106.74 L632.20,106.13 L632.70,105.63 L633.20,105.23 L633.70,104.95 L634.20,104.79 L634.70,104.73 L635.20,104.78 L635.70,104.93 L636.20,105.17 L636.70,105.52 L637.20,105.96 L637.70,106.49 L638.20,107.12 L638.70,107.85 L639.20,108.67 L639.70,109.57 L640.20,110.57 L640.70,111.66 L641.20,112.83 L641.70,114.08 L642.20,115.42 L642.70,116.83 L643.20,118.32 L643.70,119.89 L644.20,121.53 L644.70,123.23 L645.20,125.00 L645.70,126.84 L646.20,128.73 L646.70,130.68 L647.20,132.69 L647.70,134.74 L648.20,136.84 L648.70,138.98 L649.20,141.17 L649.70,143.39 L650.20,145.65 L650.70,147.93 L651.20,150.24 L651.70,152.58 L652.20,154.94 L652.70,157.31 L653.20,159.70 L653.70,162.10 L654.20,164.50 L654.70,166.91 L655.20,169.32 L655.70,171.73 L656.20,174.13 L656.70,176.53 L657.20,178.92 L657.70,181.29 L658.20,183.65 L658.70,185.99 L659.20,188.32 L659.70,190.62 L660.20,192.89 L660.70,195.14 L661.20,197.36 L661.70,199.55 L662.20,201.71 L662.70,203.84 L663.20,205.93 L663.70,207.99 L664.20,210.00 L664.70,211.98 L665.20,213.92 L665.70,215.83 L666.20,217.68 L666.70,219.50 L667.20,221.28 L667.70,223.01 L668.20,224.70 L668.70,226.34 L669.20,227.95 L669.70,229.50 L670.20,231.02 L670.70,232.49 L671.20,233.92 L671.70,235.30 L672.20,236.64 L672.70,237.93 L673.20,239.19 L673.70,240.40 L674.20,241.57 L674.70,242.70 L675.20,243.79 L675.70,244.84 L676.20,245.85 L676.70,246.82 L677.20,247.75 L677.70,248.65 L678.20,249.51 L678.70,250.33 L679.20,251.12 L679.70,251.88 L680.20,252.60 L680.70,253.30 L681.20,253.96 L681.70,254.59 L682.20,255.19 L682.70,255.77 L683.20,256.32 L683.70,256.84 L684.20,257.33 L684.70,257.81 L685.20,258.25 L685.70,258.68 L686.20,259.08 L686.70,259.46 L687.20,259.83 L687.70,260.17 L688.20,260.49 L688.70,260.80 L689.20,261.09 L689.70,261.36 L690.20,261.62 L690.70,261.87 L691.20,262.09 L691.70,262.31 L692.20,262.51 L692.70,262.70 L693.20,262.88 L693.70,263.05 L694.20,263.21 L694.70,263.36 L695.20,263.49 L695.70,263.62 L696.20,263.75 L696.70,263.86 L697.20,263.97 L697.70,264.06 L698.20,264.16 L698.70,264.24 L699.20,264.32 L699.70,264.40 L700.20,264.47 L700.70,264.53 L701.20,264.59 L701.70,264.65 L702.20,264.70 L702.70,264.75 L703.20,264.79 L703.70,264.83 L704.20,264.87 L704.70,264.91 L705.20,264.94 L705.70,264.97 L706.20,265.00 L706.70,265.02 L707.20,265.05 L707.70,265.07 L708.20,265.09 L708.70,265.11 L709.20,265.12 L709.70,265.14 L709.70,265.30 L544.20,262.45 Z" fill="#F5B7B7" stroke="none"/>
<path d="M544.20,262.30 L544.70,262.30 L545.20,262.30 L545.70,262.29 L546.20,262.29 L546.70,262.29 L547.20,262.28 L547.70,262.28 L548.20,262.28 L548.70,262.27 L549.20,262.27 L549.70,262.27 L550.20,262.26 L550.70,262.26 L551.20,262.25 L551.70,262.25 L552.20,262.24 L552.70,262.24 L553.20,262.23 L553.70,262.23 L554.20,262.22 L554.70,262.21 L555.20,262.21 L555.70,262.20 L556.20,262.19 L556.70,262.18 L557.20,262.17 L557.70,262.16 L558.20,262.15 L558.70,262.14 L559.20,262.13 L559.70,262.11 L560.20,262.10 L560.70,262.09 L561.20,262.07 L561.70,262.05 L562.20,262.03 L562.70,262.01 L563.20,261.99 L563.70,261.97 L564.20,261.94 L564.70,261.92 L565.20,261.89 L565.70,261.86 L566.20,261.82 L566.70,261.79 L567.20,261.75 L567.70,261.71 L568.20,261.67 L568.70,261.62 L569.20,261.57 L569.70,261.51 L570.20,261.46 L570.70,261.39 L571.20,261.33 L571.70,261.25 L572.20,261.18 L572.70,261.10 L573.20,261.01 L573.70,260.91 L574.20,260.81 L574.70,260.71 L575.20,260.59 L575.70,260.47 L576.20,260.34 L576.70,260.20 L577.20,260.05 L577.70,259.89 L578.20,259.72 L578.70,259.54 L579.20,259.35 L579.70,259.15 L580.20,258.93 L580.70,258.70 L581.20,258.46 L581.70,258.20 L582.20,257.93 L582.70,257.64 L583.20,257.33 L583.70,257.00 L584.20,256.66 L584.70,256.30 L585.20,255.91 L585.70,255.51 L586.20,255.08 L586.70,254.63 L587.20,254.15 L587.70,253.66 L588.20,253.13 L588.70,252.58 L589.20,252.00 L589.70,251.39 L590.20,250.75 L590.70,250.08 L591.20,249.38 L591.70,248.65 L592.20,247.88 L592.70,247.08 L593.20,246.24 L593.70,245.37 L594.20,244.45 L594.70,243.50 L595.20,242.52 L595.70,241.49 L596.20,240.42 L596.70,239.31 L597.20,238.15 L597.70,236.96 L598.20,235.72 L598.70,234.44 L599.20,233.11 L599.70,231.74 L600.20,230.32 L600.70,228.86 L601.20,227.35 L601.70,225.80 L602.20,224.20 L602.70,222.55 L603.20,220.86 L603.70,219.12 L604.20,217.34 L604.70,215.52 L605.20,213.65 L605.70,211.73 L606.20,209.78 L606.70,207.78 L607.20,205.74 L607.70,203.66 L608.20,201.55 L608.70,199.40 L609.20,197.21 L609.70,194.99 L610.20,192.73 L610.70,190.45 L611.20,188.14 L611.70,185.80 L612.20,183.44 L612.70,181.05 L613.20,178.65 L613.70,176.23 L614.20,173.80 L614.70,171.36 L615.20,168.91 L615.70,166.45 L616.20,163.99 L616.70,161.54 L617.20,159.08 L617.70,156.64 L618.20,154.21 L618.70,151.80 L619.20,149.40 L619.70,147.02 L620.20,144.68 L620.70,142.36 L621.20,140.08 L621.70,137.83 L622.20,135.63 L622.70,133.47 L623.20,131.37 L623.70,129.31 L624.20,127.32 L624.70,125.38 L625.20,123.51 L625.70,121.71 L626.20,119.98 L626.70,118.33 L627.20,116.76 L627.70,115.27 L628.20,113.87 L628.70,112.56 L629.20,111.34 L629.70,110.22 L630.20,109.20 L630.70,108.27 L631.20,107.45 L631.70,106.74 L632.20,106.13 L632.70,105.63 L633.20,105.23 L633.70,104.95 L634.20,104.79 L634.70,104.73 L635.20,104.78 L635.70,104.93 L636.20,105.17 L636.70,105.52 L637.20,105.96 L637.70,106.49 L638.20,107.12 L638.70,107.85 L639.20,108.67 L639.70,109.57 L640.20,110.57 L640.70,111.66 L641.20,112.83 L641.70,114.08 L642.20,115.42 L642.70,116.83 L643.20,118.32 L643.70,119.89 L644.20,121.53 L644.70,123.23 L645.20,125.00 L645.70,126.84 L646.20,128.73 L646.70,130.68 L647.20,132.69 L647.70,134.74 L648.20,136.84 L648.70,138.98 L649.20,141.17 L649.70,143.39 L650.20,145.65 L650.70,147.93 L651.20,150.24 L651.70,152.58 L652.20,154.94 L652.70,157.31 L653.20,159.70 L653.70,162.10 L654.20,164.50 L654.70,166.91 L655.20,169.32 L655.70,171.73 L656.20,174.13 L656.70,176.53 L657.20,178.92 L657.70,181.29 L658.20,183.65 L658.70,185.99 L659.20,188.32 L659.70,190.62 L660.20,192.89 L660.70,195.14 L661.20,197.36 L661.70,199.55 L662.20,201.71 L662.70,203.84 L663.20,205.93 L663.70,207.99 L664.20,210.00 L664.70,211.98 L665.20,213.92 L665.70,215.83 L666.20,217.68 L666.70,219.50 L667.20,221.28 L667.70,223.01 L668.20,224.70 L668.70,226.34 L669.20,227.95 L669.70,229.50 L670.20,231.02 L670.70,232.49 L671.20,233.92 L671.70,235.30 L672.20,236.64 L672.70,237.93 L673.20,239.19 L673.70,240.40 L674.20,241.57 L674.70,242.70 L675.20,243.79 L675.70,244.84 L676.20,245.85 L676.70,246.82 L677.20,247.75 L677.70,248.65 L678.20,249.51 L678.70,250.33 L679.20,251.12 L679.70,251.88 L680.20,252.60 L680.70,253.30 L681.20,253.96 L681.70,254.59 L682.20,255.19 L682.70,255.77 L683.20,256.32 L683.70,256.84 L684.20,257.33 L684.70,257.81 L685.20,258.25 L685.70,258.68 L686.20,259.08 L686.70,259.46 L687.20,259.83 L687.70,260.17 L688.20,260.49 L688.70,260.80 L689.20,261.09 L689.70,261.36 L690.20,261.62 L690.70,261.87 L691.20,262.09 L691.70,262.31 L692.20,262.51 L692.70,262.70 L693.20,262.88 L693.70,263.05 L694.20,263.21 L694.70,263.36 L695.20,263.49 L695.70,263.62 L696.20,263.75 L696.70,263.86 L697.20,263.97 L697.70,264.06 L698.20,264.16 L698.70,264.24 L699.20,264.32 L699.70,264.40 L700.20,264.47 L700.70,264.53 L701.20,264.59 L701.70,264.65 L702.20,264.70 L702.70,264.75 L703.20,264.79 L703.70,264.83 L704.20,264.87 L704.70,264.91 L705.20,264.94 L705.70,264.97 L706.20,265.00 L706.70,265.02 L707.20,265.05 L707.70,265.07 L708.20,265.09 L708.70,265.11 L709.20,265.12 L709.70,265.14" fill="none" stroke="#000" stroke-width="1.3" stroke-linejoin="round"/>
<path d="M542.70,262.28 L543.20,262.27 L543.70,262.26 L544.20,262.24 L544.70,262.22 L545.20,262.20 L545.70,262.18 L546.20,262.16 L546.70,262.13 L547.20,262.10 L547.70,262.07 L548.20,262.04 L548.70,262.01 L549.20,261.97 L549.70,261.93 L550.20,261.88 L550.70,261.83 L551.20,261.78 L551.70,261.73 L552.20,261.67 L552.70,261.60 L553.20,261.53 L553.70,261.46 L554.20,261.38 L554.70,261.29 L555.20,261.20 L555.70,261.11 L556.20,261.01 L556.70,260.90 L557.20,260.78 L557.70,260.66 L558.20,260.53 L558.70,260.39 L559.20,260.24 L559.70,260.08 L560.20,259.92 L560.70,259.75 L561.20,259.56 L561.70,259.37 L562.20,259.17 L562.70,258.96 L563.20,258.73 L563.70,258.50 L564.20,258.25 L564.70,257.99 L565.20,257.72 L565.70,257.44 L566.20,257.15 L566.70,256.84 L567.20,256.53 L567.70,256.19 L568.20,255.85 L568.70,255.49 L569.20,255.12 L569.70,254.74 L570.20,254.34 L570.70,253.93 L571.20,253.51 L571.70,253.07 L572.20,252.62 L572.70,252.16 L573.20,251.69 L573.70,251.20 L574.20,250.70 L574.70,250.19 L575.20,249.67 L575.70,249.13 L576.20,248.59 L576.70,248.04 L577.20,247.47 L577.70,246.90 L578.20,246.32 L578.70,245.73 L579.20,245.14 L579.70,244.53 L580.20,243.93 L580.70,243.32 L581.20,242.70 L581.70,242.08 L582.20,241.46 L582.70,240.84 L583.20,240.22 L583.70,239.60 L584.20,238.99 L584.70,238.38 L585.20,237.77 L585.70,237.17 L586.20,236.57 L586.70,235.98 L587.20,235.41 L587.70,234.84 L588.20,234.28 L588.70,233.74 L589.20,233.21 L589.70,232.70 L590.20,232.20 L590.70,231.72 L591.20,231.26 L591.70,230.82 L592.20,230.39 L592.70,229.99 L593.20,229.62 L593.70,229.26 L594.20,228.93 L594.70,228.63 L595.20,228.35 L595.70,228.10 L596.20,227.87 L596.70,227.67 L597.20,227.51 L597.70,227.36 L598.20,227.25 L598.70,227.17 L599.20,227.12 L599.70,227.10 L600.20,227.10 L600.70,227.14 L601.20,227.21 L601.70,227.31 L602.20,227.44 L602.70,227.60 L603.20,227.79 L603.70,228.02 L604.20,228.27 L604.70,228.55 L605.20,228.85 L605.70,229.19 L606.20,229.55 L606.70,229.94 L607.20,230.35 L607.70,230.78 L608.20,231.24 L608.70,231.72 L609.20,232.21 L609.70,232.73 L610.20,233.27 L610.70,233.82 L611.20,234.39 L611.70,234.97 L612.20,235.57 L612.70,236.18 L613.20,236.80 L613.70,237.42 L614.20,238.06 L614.70,238.70 L615.20,239.35 L615.70,240.00 L616.20,240.66 L616.70,241.32 L617.20,241.98 L617.70,242.64 L618.20,243.29 L618.70,243.95 L619.20,244.60 L619.70,245.25 L620.20,245.89 L620.70,246.53 L621.20,247.15 L621.70,247.78 L622.20,248.39 L622.70,248.99 L623.20,249.59 L623.70,250.17 L624.20,250.74 L624.70,251.30 L625.20,251.85 L625.70,252.39 L626.20,252.91 L626.70,253.42 L627.20,253.92 L627.70,254.40 L628.20,254.88 L628.70,255.33 L629.20,255.78 L629.70,256.21 L630.20,256.62 L630.70,257.02 L631.20,257.41 L631.70,257.79 L632.20,258.15 L632.70,258.50 L633.20,258.83 L633.70,259.15 L634.20,259.46 L634.70,259.76 L635.20,260.04 L635.70,260.31 L636.20,260.57 L636.70,260.82 L637.20,261.06 L637.70,261.29 L638.20,261.50 L638.70,261.71 L639.20,261.90 L639.70,262.09 L640.20,262.27 L640.70,262.44 L641.20,262.60 L641.70,262.75 L642.20,262.89 L642.70,263.03 L643.20,263.16 L643.70,263.28 L644.20,263.40 L644.70,263.51 L645.20,263.61 L645.70,263.71 L646.20,263.80 L646.70,263.88 L647.20,263.97 L647.70,264.04 L648.20,264.12 L648.70,264.18 L649.20,264.25 L649.70,264.31 L650.20,264.37 L650.70,264.42 L651.20,264.47 L651.70,264.52 L652.20,264.56 L652.70,264.61 L653.20,264.65 L653.70,264.68 L654.20,264.72 L654.70,264.75 L655.20,264.78 L655.70,264.81 L656.20,264.84 L656.20,264.99 L542.70,262.44 Z" fill="#A8D9A4" stroke="none"/>
<path d="M542.70,262.28 L543.20,262.27 L543.70,262.26 L544.20,262.24 L544.70,262.22 L545.20,262.20 L545.70,262.18 L546.20,262.16 L546.70,262.13 L547.20,262.10 L547.70,262.07 L548.20,262.04 L548.70,262.01 L549.20,261.97 L549.70,261.93 L550.20,261.88 L550.70,261.83 L551.20,261.78 L551.70,261.73 L552.20,261.67 L552.70,261.60 L553.20,261.53 L553.70,261.46 L554.20,261.38 L554.70,261.29 L555.20,261.20 L555.70,261.11 L556.20,261.01 L556.70,260.90 L557.20,260.78 L557.70,260.66 L558.20,260.53 L558.70,260.39 L559.20,260.24 L559.70,260.08 L560.20,259.92 L560.70,259.75 L561.20,259.56 L561.70,259.37 L562.20,259.17 L562.70,258.96 L563.20,258.73 L563.70,258.50 L564.20,258.25 L564.70,257.99 L565.20,257.72 L565.70,257.44 L566.20,257.15 L566.70,256.84 L567.20,256.53 L567.70,256.19 L568.20,255.85 L568.70,255.49 L569.20,255.12 L569.70,254.74 L570.20,254.34 L570.70,253.93 L571.20,253.51 L571.70,253.07 L572.20,252.62 L572.70,252.16 L573.20,251.69 L573.70,251.20 L574.20,250.70 L574.70,250.19 L575.20,249.67 L575.70,249.13 L576.20,248.59 L576.70,248.04 L577.20,247.47 L577.70,246.90 L578.20,246.32 L578.70,245.73 L579.20,245.14 L579.70,244.53 L580.20,243.93 L580.70,243.32 L581.20,242.70 L581.70,242.08 L582.20,241.46 L582.70,240.84 L583.20,240.22 L583.70,239.60 L584.20,238.99 L584.70,238.38 L585.20,237.77 L585.70,237.17 L586.20,236.57 L586.70,235.98 L587.20,235.41 L587.70,234.84 L588.20,234.28 L588.70,233.74 L589.20,233.21 L589.70,232.70 L590.20,232.20 L590.70,231.72 L591.20,231.26 L591.70,230.82 L592.20,230.39 L592.70,229.99 L593.20,229.62 L593.70,229.26 L594.20,228.93 L594.70,228.63 L595.20,228.35 L595.70,228.10 L596.20,227.87 L596.70,227.67 L597.20,227.51 L597.70,227.36 L598.20,227.25 L598.70,227.17 L599.20,227.12 L599.70,227.10 L600.20,227.10 L600.70,227.14 L601.20,227.21 L601.70,227.31 L602.20,227.44 L602.70,227.60 L603.20,227.79 L603.70,228.02 L604.20,228.27 L604.70,228.55 L605.20,228.85 L605.70,229.19 L606.20,229.55 L606.70,229.94 L607.20,230.35 L607.70,230.78 L608.20,231.24 L608.70,231.72 L609.20,232.21 L609.70,232.73 L610.20,233.27 L610.70,233.82 L611.20,234.39 L611.70,234.97 L612.20,235.57 L612.70,236.18 L613.20,236.80 L613.70,237.42 L614.20,238.06 L614.70,238.70 L615.20,239.35 L615.70,240.00 L616.20,240.66 L616.70,241.32 L617.20,241.98 L617.70,242.64 L618.20,243.29 L618.70,243.95 L619.20,244.60 L619.70,245.25 L620.20,245.89 L620.70,246.53 L621.20,247.15 L621.70,247.78 L622.20,248.39 L622.70,248.99 L623.20,249.59 L623.70,250.17 L624.20,250.74 L624.70,251.30 L625.20,251.85 L625.70,252.39 L626.20,252.91 L626.70,253.42 L627.20,253.92 L627.70,254.40 L628.20,254.88 L628.70,255.33 L629.20,255.78 L629.70,256.21 L630.20,256.62 L630.70,257.02 L631.20,257.41 L631.70,257.79 L632.20,258.15 L632.70,258.50 L633.20,258.83 L633.70,259.15 L634.20,259.46 L634.70,259.76 L635.20,260.04 L635.70,260.31 L636.20,260.57 L636.70,260.82 L637.20,261.06 L637.70,261.29 L638.20,261.50 L638.70,261.71 L639.20,261.90 L639.70,262.09 L640.20,262.27 L640.70,262.44 L641.20,262.60 L641.70,262.75 L642.20,262.89 L642.70,263.03 L643.20,263.16 L643.70,263.28 L644.20,263.40 L644.70,263.51 L645.20,263.61 L645.70,263.71 L646.20,263.80 L646.70,263.88 L647.20,263.97 L647.70,264.04 L648.20,264.12 L648.70,264.18 L649.20,264.25 L649.70,264.31 L650.20,264.37 L650.70,264.42 L651.20,264.47 L651.70,264.52 L652.20,264.56 L652.70,264.61 L653.20,264.65 L653.70,264.68 L654.20,264.72 L654.70,264.75 L655.20,264.78 L655.70,264.81 L656.20,264.84" fill="none" stroke="#000" stroke-width="1.3" stroke-linejoin="round"/>
<path d="M511.70,262.19 L512.20,262.18 L512.70,262.16 L513.20,262.14 L513.70,262.13 L514.20,262.10 L514.70,262.08 L515.20,262.06 L515.70,262.03 L516.20,262.00 L516.70,261.97 L517.20,261.94 L517.70,261.90 L518.20,261.87 L518.70,261.82 L519.20,261.78 L519.70,261.73 L520.20,261.68 L520.70,261.62 L521.20,261.57 L521.70,261.50 L522.20,261.43 L522.70,261.36 L523.20,261.29 L523.70,261.20 L524.20,261.12 L524.70,261.02 L525.20,260.93 L525.70,260.82 L526.20,260.71 L526.70,260.59 L527.20,260.47 L527.70,260.34 L528.20,260.20 L528.70,260.05 L529.20,259.90 L529.70,259.74 L530.20,259.56 L530.70,259.38 L531.20,259.20 L531.70,259.00 L532.20,258.79 L532.70,258.57 L533.20,258.35 L533.70,258.11 L534.20,257.86 L534.70,257.61 L535.20,257.34 L535.70,257.06 L536.20,256.77 L536.70,256.47 L537.20,256.15 L537.70,255.83 L538.20,255.50 L538.70,255.15 L539.20,254.79 L539.70,254.42 L540.20,254.04 L540.70,253.65 L541.20,253.25 L541.70,252.84 L542.20,252.41 L542.70,251.98 L543.20,251.53 L543.70,251.08 L544.20,250.62 L544.70,250.14 L545.20,249.66 L545.70,249.17 L546.20,248.68 L546.70,248.17 L547.20,247.66 L547.70,247.14 L548.20,246.62 L548.70,246.09 L549.20,245.56 L549.70,245.02 L550.20,244.49 L550.70,243.95 L551.20,243.41 L551.70,242.87 L552.20,242.33 L552.70,241.79 L553.20,241.25 L553.70,240.72 L554.20,240.20 L554.70,239.67 L555.20,239.16 L555.70,238.65 L556.20,238.15 L556.70,237.66 L557.20,237.18 L557.70,236.72 L558.20,236.26 L558.70,235.82 L559.20,235.39 L559.70,234.98 L560.20,234.59 L560.70,234.21 L561.20,233.85 L561.70,233.50 L562.20,233.18 L562.70,232.88 L563.20,232.60 L563.70,232.34 L564.20,232.10 L564.70,231.89 L565.20,231.70 L565.70,231.53 L566.20,231.39 L566.70,231.27 L567.20,231.18 L567.70,231.11 L568.20,231.07 L568.70,231.05 L569.20,231.06 L569.70,231.09 L570.20,231.14 L570.70,231.22 L571.20,231.32 L571.70,231.45 L572.20,231.60 L572.70,231.77 L573.20,231.96 L573.70,232.18 L574.20,232.41 L574.70,232.67 L575.20,232.95 L575.70,233.24 L576.20,233.56 L576.70,233.90 L577.20,234.25 L577.70,234.62 L578.20,235.00 L578.70,235.40 L579.20,235.82 L579.70,236.25 L580.20,236.69 L580.70,237.15 L581.20,237.61 L581.70,238.09 L582.20,238.57 L582.70,239.07 L583.20,239.57 L583.70,240.08 L584.20,240.59 L584.70,241.11 L585.20,241.64 L585.70,242.16 L586.20,242.69 L586.70,243.22 L587.20,243.76 L587.70,244.29 L588.20,244.82 L588.70,245.35 L589.20,245.88 L589.70,246.40 L590.20,246.92 L590.70,247.44 L591.20,247.95 L591.70,248.46 L592.20,248.96 L592.70,249.45 L593.20,249.94 L593.70,250.42 L594.20,250.89 L594.70,251.35 L595.20,251.81 L595.70,252.25 L596.20,252.69 L596.70,253.12 L597.20,253.53 L597.70,253.94 L598.20,254.34 L598.70,254.73 L599.20,255.10 L599.70,255.47 L600.20,255.83 L600.70,256.17 L601.20,256.51 L601.70,256.83 L602.20,257.15 L602.70,257.45 L603.20,257.75 L603.70,258.03 L604.20,258.31 L604.70,258.57 L605.20,258.82 L605.70,259.07 L606.20,259.31 L606.70,259.53 L607.20,259.75 L607.70,259.96 L608.20,260.16 L608.70,260.35 L609.20,260.54 L609.70,260.71 L610.20,260.88 L610.70,261.04 L611.20,261.20 L611.70,261.34 L612.20,261.48 L612.70,261.62 L613.20,261.75 L613.70,261.87 L614.20,261.99 L614.70,262.10 L615.20,262.20 L615.70,262.31 L616.20,262.40 L616.70,262.49 L617.20,262.58 L617.70,262.67 L618.20,262.75 L618.70,262.82 L619.20,262.89 L619.70,262.96 L620.20,263.03 L620.70,263.09 L621.20,263.15 L621.70,263.21 L622.20,263.27 L622.70,263.32 L623.20,263.37 L623.70,263.42 L624.20,263.47 L624.70,263.51 L625.20,263.56 L625.70,263.60 L626.20,263.64 L626.70,263.68 L627.20,263.72 L627.70,263.75 L628.20,263.79 L628.20,263.95 L511.70,262.36 Z" fill="#A2C3E6" stroke="none"/>
<path d="M511.70,262.19 L512.20,262.18 L512.70,262.16 L513.20,262.14 L513.70,262.13 L514.20,262.10 L514.70,262.08 L515.20,262.06 L515.70,262.03 L516.20,262.00 L516.70,261.97 L517.20,261.94 L517.70,261.90 L518.20,261.87 L518.70,261.82 L519.20,261.78 L519.70,261.73 L520.20,261.68 L520.70,261.62 L521.20,261.57 L521.70,261.50 L522.20,261.43 L522.70,261.36 L523.20,261.29 L523.70,261.20 L524.20,261.12 L524.70,261.02 L525.20,260.93 L525.70,260.82 L526.20,260.71 L526.70,260.59 L527.20,260.47 L527.70,260.34 L528.20,260.20 L528.70,260.05 L529.20,259.90 L529.70,259.74 L530.20,259.56 L530.70,259.38 L531.20,259.20 L531.70,259.00 L532.20,258.79 L532.70,258.57 L533.20,258.35 L533.70,258.11 L534.20,257.86 L534.70,257.61 L535.20,257.34 L535.70,257.06 L536.20,256.77 L536.70,256.47 L537.20,256.15 L537.70,255.83 L538.20,255.50 L538.70,255.15 L539.20,254.79 L539.70,254.42 L540.20,254.04 L540.70,253.65 L541.20,253.25 L541.70,252.84 L542.20,252.41 L542.70,251.98 L543.20,251.53 L543.70,251.08 L544.20,250.62 L544.70,250.14 L545.20,249.66 L545.70,249.17 L546.20,248.68 L546.70,248.17 L547.20,247.66 L547.70,247.14 L548.20,246.62 L548.70,246.09 L549.20,245.56 L549.70,245.02 L550.20,244.49 L550.70,243.95 L551.20,243.41 L551.70,242.87 L552.20,242.33 L552.70,241.79 L553.20,241.25 L553.70,240.72 L554.20,240.20 L554.70,239.67 L555.20,239.16 L555.70,238.65 L556.20,238.15 L556.70,237.66 L557.20,237.18 L557.70,236.72 L558.20,236.26 L558.70,235.82 L559.20,235.39 L559.70,234.98 L560.20,234.59 L560.70,234.21 L561.20,233.85 L561.70,233.50 L562.20,233.18 L562.70,232.88 L563.20,232.60 L563.70,232.34 L564.20,232.10 L564.70,231.89 L565.20,231.70 L565.70,231.53 L566.20,231.39 L566.70,231.27 L567.20,231.18 L567.70,231.11 L568.20,231.07 L568.70,231.05 L569.20,231.06 L569.70,231.09 L570.20,231.14 L570.70,231.22 L571.20,231.32 L571.70,231.45 L572.20,231.60 L572.70,231.77 L573.20,231.96 L573.70,232.18 L574.20,232.41 L574.70,232.67 L575.20,232.95 L575.70,233.24 L576.20,233.56 L576.70,233.90 L577.20,234.25 L577.70,234.62 L578.20,235.00 L578.70,235.40 L579.20,235.82 L579.70,236.25 L580.20,236.69 L580.70,237.15 L581.20,237.61 L581.70,238.09 L582.20,238.57 L582.70,239.07 L583.20,239.57 L583.70,240.08 L584.20,240.59 L584.70,241.11 L585.20,241.64 L585.70,242.16 L586.20,242.69 L586.70,243.22 L587.20,243.76 L587.70,244.29 L588.20,244.82 L588.70,245.35 L589.20,245.88 L589.70,246.40 L590.20,246.92 L590.70,247.44 L591.20,247.95 L591.70,248.46 L592.20,248.96 L592.70,249.45 L593.20,249.94 L593.70,250.42 L594.20,250.89 L594.70,251.35 L595.20,251.81 L595.70,252.25 L596.20,252.69 L596.70,253.12 L597.20,253.53 L597.70,253.94 L598.20,254.34 L598.70,254.73 L599.20,255.10 L599.70,255.47 L600.20,255.83 L600.70,256.17 L601.20,256.51 L601.70,256.83 L602.20,257.15 L602.70,257.45 L603.20,257.75 L603.70,258.03 L604.20,258.31 L604.70,258.57 L605.20,258.82 L605.70,259.07 L606.20,259.31 L606.70,259.53 L607.20,259.75 L607.70,259.96 L608.20,260.16 L608.70,260.35 L609.20,260.54 L609.70,260.71 L610.20,260.88 L610.70,261.04 L611.20,261.20 L611.70,261.34 L612.20,261.48 L612.70,261.62 L613.20,261.75 L613.70,261.87 L614.20,261.99 L614.70,262.10 L615.20,262.20 L615.70,262.31 L616.20,262.40 L616.70,262.49 L617.20,262.58 L617.70,262.67 L618.20,262.75 L618.70,262.82 L619.20,262.89 L619.70,262.96 L620.20,263.03 L620.70,263.09 L621.20,263.15 L621.70,263.21 L622.20,263.27 L622.70,263.32 L623.20,263.37 L623.70,263.42 L624.20,263.47 L624.70,263.51 L625.20,263.56 L625.70,263.60 L626.20,263.64 L626.70,263.68 L627.20,263.72 L627.70,263.75 L628.20,263.79" fill="none" stroke="#000" stroke-width="1.3" stroke-linejoin="round"/>
<path d="M439.70,262.14 L440.20,262.14 L440.70,262.13 L441.20,262.12 L441.70,262.11 L442.20,262.10 L442.70,262.09 L443.20,262.08 L443.70,262.07 L444.20,262.06 L444.70,262.05 L445.20,262.04 L445.70,262.03 L446.20,262.02 L446.70,262.01 L447.20,261.99 L447.70,261.98 L448.20,261.97 L448.70,261.95 L449.20,261.94 L449.70,261.92 L450.20,261.90 L450.70,261.89 L451.20,261.87 L451.70,261.85 L452.20,261.83 L452.70,261.81 L453.20,261.79 L453.70,261.77 L454.20,261.75 L454.70,261.73 L455.20,261.71 L455.70,261.69 L456.20,261.66 L456.70,261.64 L457.20,261.61 L457.70,261.59 L458.20,261.56 L458.70,261.53 L459.20,261.50 L459.70,261.47 L460.20,261.44 L460.70,261.41 L461.20,261.38 L461.70,261.35 L462.20,261.31 L462.70,261.28 L463.20,261.24 L463.70,261.21 L464.20,261.17 L464.70,261.13 L465.20,261.09 L465.70,261.05 L466.20,261.01 L466.70,260.97 L467.20,260.92 L467.70,260.88 L468.20,260.83 L468.70,260.79 L469.20,260.74 L469.70,260.69 L470.20,260.64 L470.70,260.59 L471.20,260.54 L471.70,260.49 L472.20,260.43 L472.70,260.38 L473.20,260.32 L473.70,260.27 L474.20,260.21 L474.70,260.15 L475.20,260.09 L475.70,260.03 L476.20,259.97 L476.70,259.91 L477.20,259.84 L477.70,259.78 L478.20,259.71 L478.70,259.64 L479.20,259.58 L479.70,259.51 L480.20,259.44 L480.70,259.37 L481.20,259.30 L481.70,259.22 L482.20,259.15 L482.70,259.08 L483.20,259.00 L483.70,258.93 L484.20,258.85 L484.70,258.77 L485.20,258.70 L485.70,258.62 L486.20,258.54 L486.70,258.46 L487.20,258.38 L487.70,258.30 L488.20,258.22 L488.70,258.14 L489.20,258.05 L489.70,257.97 L490.20,257.89 L490.70,257.81 L491.20,257.72 L491.70,257.64 L492.20,257.56 L492.70,257.47 L493.20,257.39 L493.70,257.30 L494.20,257.22 L494.70,257.14 L495.20,257.05 L495.70,256.97 L496.20,256.88 L496.70,256.80 L497.20,256.72 L497.70,256.64 L498.20,256.55 L498.70,256.47 L499.20,256.39 L499.70,256.31 L500.20,256.23 L500.70,256.15 L501.20,256.07 L501.70,255.99 L502.20,255.92 L502.70,255.84 L503.20,255.77 L503.70,255.69 L504.20,255.62 L504.70,255.55 L505.20,255.48 L505.70,255.41 L506.20,255.34 L506.70,255.27 L507.20,255.21 L507.70,255.14 L508.20,255.08 L508.70,255.02 L509.20,254.96 L509.70,254.90 L510.20,254.84 L510.70,254.79 L511.20,254.74 L511.70,254.68 L512.20,254.63 L512.70,254.59 L513.20,254.54 L513.70,254.50 L514.20,254.46 L514.70,254.42 L515.20,254.38 L515.70,254.34 L516.20,254.31 L516.70,254.28 L517.20,254.25 L517.70,254.22 L518.20,254.20 L518.70,254.18 L519.20,254.16 L519.70,254.14 L520.20,254.12 L520.70,254.11 L521.20,254.10 L521.70,254.09 L522.20,254.09 L522.70,254.08 L523.20,254.08 L523.70,254.08 L524.20,254.09 L524.70,254.09 L525.20,254.10 L525.70,254.11 L526.20,254.12 L526.70,254.14 L527.20,254.16 L527.70,254.17 L528.20,254.20 L528.70,254.22 L529.20,254.25 L529.70,254.28 L530.20,254.31 L530.70,254.34 L531.20,254.38 L531.70,254.41 L532.20,254.45 L532.70,254.49 L533.20,254.54 L533.70,254.58 L534.20,254.63 L534.70,254.68 L535.20,254.73 L535.70,254.79 L536.20,254.84 L536.70,254.90 L537.20,254.96 L537.70,255.02 L538.20,255.08 L538.70,255.14 L539.20,255.21 L539.70,255.28 L540.20,255.34 L540.70,255.41 L541.20,255.49 L541.70,255.56 L542.20,255.63 L542.70,255.71 L543.20,255.78 L543.70,255.86 L544.20,255.94 L544.70,256.02 L545.20,256.10 L545.70,256.18 L546.20,256.26 L546.70,256.34 L547.20,256.43 L547.70,256.51 L548.20,256.59 L548.70,256.68 L549.20,256.77 L549.70,256.85 L550.20,256.94 L550.70,257.03 L551.20,257.11 L551.70,257.20 L552.20,257.29 L552.70,257.38 L553.20,257.47 L553.70,257.55 L554.20,257.64 L554.70,257.73 L555.20,257.82 L555.70,257.91 L556.20,257.99 L556.70,258.08 L557.20,258.17 L557.70,258.26 L558.20,258.34 L558.70,258.43 L559.20,258.52 L559.70,258.60 L560.20,258.69 L560.70,258.77 L561.20,258.86 L561.70,258.94 L562.20,259.02 L562.70,259.10 L563.20,259.19 L563.70,259.27 L564.20,259.35 L564.70,259.43 L565.20,259.51 L565.70,259.58 L566.20,259.66 L566.70,259.74 L567.20,259.81 L567.70,259.89 L568.20,259.96 L568.70,260.03 L569.20,260.11 L569.70,260.18 L570.20,260.25 L570.70,260.32 L571.20,260.38 L571.70,260.45 L572.20,260.52 L572.70,260.58 L573.20,260.65 L573.70,260.71 L574.20,260.77 L574.70,260.83 L575.20,260.89 L575.70,260.95 L576.20,261.01 L576.70,261.07 L577.20,261.12 L577.70,261.18 L578.20,261.23 L578.70,261.28 L579.20,261.34 L579.70,261.39 L580.20,261.44 L580.70,261.49 L581.20,261.54 L581.70,261.58 L582.20,261.63 L582.70,261.68 L583.20,261.72 L583.70,261.76 L584.20,261.81 L584.70,261.85 L585.20,261.89 L585.70,261.93 L586.20,261.97 L586.70,262.01 L587.20,262.05 L587.70,262.08 L588.20,262.12 L588.70,262.15 L589.20,262.19 L589.70,262.22 L590.20,262.26 L590.70,262.29 L591.20,262.32 L591.70,262.35 L592.20,262.38 L592.70,262.41 L593.20,262.44 L593.70,262.47 L594.20,262.50 L594.70,262.53 L595.20,262.55 L595.70,262.58 L596.20,262.61 L596.70,262.63 L597.20,262.66 L597.70,262.68 L598.20,262.71 L598.70,262.73 L599.20,262.76 L599.70,262.78 L600.20,262.80 L600.70,262.82 L601.20,262.85 L601.70,262.87 L602.20,262.89 L602.70,262.91 L603.20,262.93 L603.70,262.95 L604.20,262.98 L604.70,263.00 L605.20,263.02 L605.70,263.04 L606.20,263.06 L606.70,263.08 L607.20,263.10 L607.70,263.12 L607.70,263.27 L439.70,262.30 Z" fill="#D6A4DA" stroke="none"/>
<path d="M439.70,262.14 L440.20,262.14 L440.70,262.13 L441.20,262.12 L441.70,262.11 L442.20,262.10 L442.70,262.09 L443.20,262.08 L443.70,262.07 L444.20,262.06 L444.70,262.05 L445.20,262.04 L445.70,262.03 L446.20,262.02 L446.70,262.01 L447.20,261.99 L447.70,261.98 L448.20,261.97 L448.70,261.95 L449.20,261.94 L449.70,261.92 L450.20,261.90 L450.70,261.89 L451.20,261.87 L451.70,261.85 L452.20,261.83 L452.70,261.81 L453.20,261.79 L453.70,261.77 L454.20,261.75 L454.70,261.73 L455.20,261.71 L455.70,261.69 L456.20,261.66 L456.70,261.64 L457.20,261.61 L457.70,261.59 L458.20,261.56 L458.70,261.53 L459.20,261.50 L459.70,261.47 L460.20,261.44 L460.70,261.41 L461.20,261.38 L461.70,261.35 L462.20,261.31 L462.70,261.28 L463.20,261.24 L463.70,261.21 L464.20,261.17 L464.70,261.13 L465.20,261.09 L465.70,261.05 L466.20,261.01 L466.70,260.97 L467.20,260.92 L467.70,260.88 L468.20,260.83 L468.70,260.79 L469.20,260.74 L469.70,260.69 L470.20,260.64 L470.70,260.59 L471.20,260.54 L471.70,260.49 L472.20,260.43 L472.70,260.38 L473.20,260.32 L473.70,260.27 L474.20,260.21 L474.70,260.15 L475.20,260.09 L475.70,260.03 L476.20,259.97 L476.70,259.91 L477.20,259.84 L477.70,259.78 L478.20,259.71 L478.70,259.64 L479.20,259.58 L479.70,259.51 L480.20,259.44 L480.70,259.37 L481.20,259.30 L481.70,259.22 L482.20,259.15 L482.70,259.08 L483.20,259.00 L483.70,258.93 L484.20,258.85 L484.70,258.77 L485.20,258.70 L485.70,258.62 L486.20,258.54 L486.70,258.46 L487.20,258.38 L487.70,258.30 L488.20,258.22 L488.70,258.14 L489.20,258.05 L489.70,257.97 L490.20,257.89 L490.70,257.81 L491.20,257.72 L491.70,257.64 L492.20,257.56 L492.70,257.47 L493.20,257.39 L493.70,257.30 L494.20,257.22 L494.70,257.14 L495.20,257.05 L495.70,256.97 L496.20,256.88 L496.70,256.80 L497.20,256.72 L497.70,256.64 L498.20,256.55 L498.70,256.47 L499.20,256.39 L499.70,256.31 L500.20,256.23 L500.70,256.15 L501.20,256.07 L501.70,255.99 L502.20,255.92 L502.70,255.84 L503.20,255.77 L503.70,255.69 L504.20,255.62 L504.70,255.55 L505.20,255.48 L505.70,255.41 L506.20,255.34 L506.70,255.27 L507.20,255.21 L507.70,255.14 L508.20,255.08 L508.70,255.02 L509.20,254.96 L509.70,254.90 L510.20,254.84 L510.70,254.79 L511.20,254.74 L511.70,254.68 L512.20,254.63 L512.70,254.59 L513.20,254.54 L513.70,254.50 L514.20,254.46 L514.70,254.42 L515.20,254.38 L515.70,254.34 L516.20,254.31 L516.70,254.28 L517.20,254.25 L517.70,254.22 L518.20,254.20 L518.70,254.18 L519.20,254.16 L519.70,254.14 L520.20,254.12 L520.70,254.11 L521.20,254.10 L521.70,254.09 L522.20,254.09 L522.70,254.08 L523.20,254.08 L523.70,254.08 L524.20,254.09 L524.70,254.09 L525.20,254.10 L525.70,254.11 L526.20,254.12 L526.70,254.14 L527.20,254.16 L527.70,254.17 L528.20,254.20 L528.70,254.22 L529.20,254.25 L529.70,254.28 L530.20,254.31 L530.70,254.34 L531.20,254.38 L531.70,254.41 L532.20,254.45 L532.70,254.49 L533.20,254.54 L533.70,254.58 L534.20,254.63 L534.70,254.68 L535.20,254.73 L535.70,254.79 L536.20,254.84 L536.70,254.90 L537.20,254.96 L537.70,255.02 L538.20,255.08 L538.70,255.14 L539.20,255.21 L539.70,255.28 L540.20,255.34 L540.70,255.41 L541.20,255.49 L541.70,255.56 L542.20,255.63 L542.70,255.71 L543.20,255.78 L543.70,255.86 L544.20,255.94 L544.70,256.02 L545.20,256.10 L545.70,256.18 L546.20,256.26 L546.70,256.34 L547.20,256.43 L547.70,256.51 L548.20,256.59 L548.70,256.68 L549.20,256.77 L549.70,256.85 L550.20,256.94 L550.70,257.03 L551.20,257.11 L551.70,257.20 L552.20,257.29 L552.70,257.38 L553.20,257.47 L553.70,257.55 L554.20,257.64 L554.70,257.73 L555.20,257.82 L555.70,257.91 L556.20,257.99 L556.70,258.08 L557.20,258.17 L557.70,258.26 L558.20,258.34 L558.70,258.43 L559.20,258.52 L559.70,258.60 L560.20,258.69 L560.70,258.77 L561.20,258.86 L561.70,258.94 L562.20,259.02 L562.70,259.10 L563.20,259.19 L563.70,259.27 L564.20,259.35 L564.70,259.43 L565.20,259.51 L565.70,259.58 L566.20,259.66 L566.70,259.74 L567.20,259.81 L567.70,259.89 L568.20,259.96 L568.70,260.03 L569.20,260.11 L569.70,260.18 L570.20,260.25 L570.70,260.32 L571.20,260.38 L571.70,260.45 L572.20,260.52 L572.70,260.58 L573.20,260.65 L573.70,260.71 L574.20,260.77 L574.70,260.83 L575.20,260.89 L575.70,260.95 L576.20,261.01 L576.70,261.07 L577.20,261.12 L577.70,261.18 L578.20,261.23 L578.70,261.28 L579.20,261.34 L579.70,261.39 L580.20,261.44 L580.70,261.49 L581.20,261.54 L581.70,261.58 L582.20,261.63 L582.70,261.68 L583.20,261.72 L583.70,261.76 L584.20,261.81 L584.70,261.85 L585.20,261.89 L585.70,261.93 L586.20,261.97 L586.70,262.01 L587.20,262.05 L587.70,262.08 L588.20,262.12 L588.70,262.15 L589.20,262.19 L589.70,262.22 L590.20,262.26 L590.70,262.29 L591.20,262.32 L591.70,262.35 L592.20,262.38 L592.70,262.41 L593.20,262.44 L593.70,262.47 L594.20,262.50 L594.70,262.53 L595.20,262.55 L595.70,262.58 L596.20,262.61 L596.70,262.63 L597.20,262.66 L597.70,262.68 L598.20,262.71 L598.70,262.73 L599.20,262.76 L599.70,262.78 L600.20,262.80 L600.70,262.82 L601.20,262.85 L601.70,262.87 L602.20,262.89 L602.70,262.91 L603.20,262.93 L603.70,262.95 L604.20,262.98 L604.70,263.00 L605.20,263.02 L605.70,263.04 L606.20,263.06 L606.70,263.08 L607.20,263.10 L607.70,263.12" fill="none" stroke="#000" stroke-width="1.3" stroke-linejoin="round"/>
<path d="M431.70,262.80 L432.20,262.80 L432.70,262.80 L433.20,262.80 L433.70,262.80 L434.20,262.80 L434.70,262.80 L435.20,262.80 L435.70,262.80 L436.20,262.80 L436.70,262.80 L437.20,262.80 L437.70,262.80 L438.20,262.80 L438.70,262.80 L439.20,262.80 L439.70,262.80 L440.20,262.80 L440.70,262.80 L441.20,262.80 L441.70,262.80 L442.20,262.80 L442.70,262.80 L443.20,262.80 L443.70,262.80 L444.20,262.80 L444.70,262.80 L445.20,262.80 L445.70,262.80 L446.20,262.80 L446.70,262.80 L447.20,262.80 L447.70,262.80 L448.20,262.80 L448.70,262.80 L449.20,262.80 L449.70,262.80 L450.20,262.80 L450.70,262.80 L451.20,262.80 L451.70,262.80 L452.20,262.80 L452.70,262.80 L453.20,262.80 L453.70,262.80 L454.20,262.80 L454.70,262.80 L455.20,262.80 L455.70,262.80 L456.20,262.80 L456.70,262.80 L457.20,262.80 L457.70,262.80 L458.20,262.80 L458.70,262.80 L459.20,262.80 L459.70,262.80 L460.20,262.80 L460.70,262.80 L461.20,262.80 L461.70,262.80 L462.20,262.80 L462.70,262.80 L463.20,262.80 L463.70,262.80 L464.20,262.80 L464.70,262.80 L465.20,262.80 L465.70,262.80 L466.20,262.80 L466.70,262.80 L467.20,262.80 L467.70,262.80 L468.20,262.80 L468.70,262.81 L469.20,262.81 L469.70,262.81 L470.20,262.81 L470.70,262.81 L471.20,262.81 L471.70,262.81 L472.20,262.81 L472.70,262.81 L473.20,262.81 L473.70,262.81 L474.20,262.81 L474.70,262.81 L475.20,262.81 L475.70,262.81 L476.20,262.81 L476.70,262.81 L477.20,262.81 L477.70,262.81 L478.20,262.81 L478.70,262.81 L479.20,262.81 L479.70,262.81 L480.20,262.81 L480.70,262.81 L481.20,262.81 L481.70,262.81 L482.20,262.81 L482.70,262.81 L483.20,262.81 L483.70,262.81 L484.20,262.81 L484.70,262.82 L485.20,262.82 L485.70,262.82 L486.20,262.82 L486.70,262.82 L487.20,262.82 L487.70,262.82 L488.20,262.82 L488.70,262.82 L489.20,262.82 L489.70,262.82 L490.20,262.82 L490.70,262.82 L491.20,262.82 L491.70,262.82 L492.20,262.82 L492.70,262.82 L493.20,262.82 L493.70,262.83 L494.20,262.83 L494.70,262.83 L495.20,262.83 L495.70,262.83 L496.20,262.83 L496.70,262.83 L497.20,262.83 L497.70,262.83 L498.20,262.83 L498.70,262.83 L499.20,262.83 L499.70,262.83 L500.20,262.83 L500.70,262.84 L501.20,262.84 L501.70,262.84 L502.20,262.84 L502.70,262.84 L503.20,262.84 L503.70,262.84 L504.20,262.84 L504.70,262.84 L505.20,262.84 L505.70,262.84 L506.20,262.84 L506.70,262.85 L507.20,262.85 L507.70,262.85 L508.20,262.85 L508.70,262.85 L509.20,262.85 L509.70,262.85 L510.20,262.85 L510.70,262.85 L511.20,262.85 L511.70,262.86 L512.20,262.86 L512.70,262.86 L513.20,262.86 L513.70,262.86 L514.20,262.86 L514.70,262.86 L515.20,262.86 L515.70,262.86 L516.20,262.86 L516.70,262.87 L517.20,262.87 L517.70,262.87 L518.20,262.87 L518.70,262.87 L519.20,262.87 L519.70,262.87 L520.20,262.87 L520.70,262.88 L521.20,262.88 L521.70,262.88 L522.20,262.88 L522.70,262.88 L523.20,262.88 L523.70,262.88 L524.20,262.88 L524.70,262.88 L525.20,262.89 L525.70,262.89 L526.20,262.89 L526.70,262.89 L527.20,262.89 L527.70,262.89 L528.20,262.89 L528.70,262.90 L529.20,262.90 L529.70,262.90 L530.20,262.90 L530.70,262.90 L531.20,262.90 L531.70,262.90 L532.20,262.91 L532.70,262.91 L533.20,262.91 L533.70,262.91 L534.20,262.91 L534.70,262.91 L535.20,262.91 L535.70,262.92 L536.20,262.92 L536.70,262.92 L537.20,262.92 L537.70,262.92 L538.20,262.93 L538.70,262.93 L539.20,262.93 L539.70,262.93 L540.20,262.93 L540.70,262.94 L541.20,262.94 L541.70,262.94 L542.20,262.94 L542.70,262.94 L543.20,262.95 L543.70,262.95 L544.20,262.95 L544.70,262.95 L545.20,262.96 L545.70,262.96 L546.20,262.96 L546.70,262.96 L547.20,262.97 L547.70,262.97 L548.20,262.97 L548.70,262.97 L549.20,262.98 L549.70,262.98 L550.20,262.98 L550.70,262.99 L551.20,262.99 L551.70,262.99 L552.20,263.00 L552.70,263.00 L553.20,263.00 L553.70,263.01 L554.20,263.01 L554.70,263.01 L555.20,263.02 L555.70,263.02 L556.20,263.03 L556.70,263.03 L557.20,263.03 L557.70,263.04 L558.20,263.04 L558.70,263.05 L559.20,263.05 L559.70,263.06 L560.20,263.06 L560.70,263.07 L561.20,263.07 L561.70,263.07 L562.20,263.08 L562.70,263.08 L563.20,263.09 L563.70,263.09 L564.20,263.10 L564.70,263.10 L565.20,263.11 L565.70,263.11 L566.20,263.12 L566.70,263.12 L567.20,263.13 L567.70,263.14 L568.20,263.14 L568.70,263.15 L569.20,263.15 L569.70,263.16 L570.20,263.16 L570.70,263.17 L571.20,263.17 L571.70,263.18 L572.20,263.19 L572.70,263.19 L573.20,263.20 L573.70,263.20 L574.20,263.21 L574.70,263.22 L575.20,263.22 L575.70,263.23 L576.20,263.23 L576.70,263.24 L577.20,263.25 L577.70,263.25 L578.20,263.26 L578.70,263.27 L579.20,263.27 L579.70,263.28 L580.20,263.28 L580.70,263.29 L581.20,263.30 L581.70,263.30 L582.20,263.31 L582.70,263.32 L583.20,263.32 L583.70,263.33 L584.20,263.34 L584.70,263.35 L585.20,263.35 L585.70,263.36 L586.20,263.37 L586.70,263.37 L587.20,263.38 L587.70,263.39 L588.20,263.40 L588.70,263.40 L589.20,263.41 L589.70,263.42 L590.20,263.43 L590.70,263.43 L591.20,263.44 L591.70,263.45 L592.20,263.46 L592.70,263.47 L593.20,263.47 L593.70,263.48 L594.20,263.49 L594.70,263.50 L595.20,263.51 L595.70,263.52 L596.20,263.52 L596.70,263.53 L597.20,263.54 L597.70,263.55 L598.20,263.56 L598.70,263.57 L599.20,263.58 L599.70,263.59 L600.20,263.60 L600.70,263.61 L601.20,263.62 L601.70,263.63 L602.20,263.64 L602.70,263.65 L603.20,263.66 L603.70,263.67 L604.20,263.68 L604.70,263.69 L605.20,263.71 L605.70,263.72 L606.20,263.73 L606.70,263.74 L607.20,263.75 L607.70,263.77 L608.20,263.78 L608.70,263.79 L609.20,263.80 L609.70,263.82 L610.20,263.83 L610.70,263.84 L611.20,263.86 L611.70,263.87 L612.20,263.88 L612.70,263.90 L613.20,263.91 L613.70,263.93 L614.20,263.94 L614.70,263.96 L615.20,263.97 L615.70,263.99 L616.20,264.01 L616.70,264.02 L617.20,264.04 L617.70,264.05 L618.20,264.07 L618.70,264.09 L619.20,264.11 L619.70,264.12 L620.20,264.14 L620.70,264.16 L621.20,264.18 L621.70,264.19 L622.20,264.21 L622.70,264.23 L623.20,264.25 L623.70,264.27 L624.20,264.29 L624.70,264.31 L625.20,264.33 L625.70,264.35 L626.20,264.37 L626.70,264.39 L627.20,264.41 L627.70,264.43 L628.20,264.45 L628.70,264.47 L629.20,264.49 L629.70,264.51 L630.20,264.53 L630.70,264.56 L631.20,264.58 L631.70,264.60 L632.20,264.62 L632.70,264.64 L633.20,264.66 L633.70,264.68 L634.20,264.70 L634.70,264.73 L635.20,264.75 L635.70,264.77 L636.20,264.79 L636.70,264.81 L637.20,264.83 L637.70,264.85 L638.20,264.87 L638.70,264.90 L639.20,264.92 L639.70,264.94 L640.20,264.96 L640.70,264.98 L641.20,265.00 L641.70,265.02 L642.20,265.04 L642.70,265.06 L643.20,265.08 L643.70,265.10 L644.20,265.11 L644.70,265.13 L645.20,265.15 L645.70,265.17 L646.20,265.19 L646.70,265.21 L647.20,265.22 L647.70,265.24 L648.20,265.26 L648.70,265.28 L649.20,265.29 L649.70,265.31 L650.20,265.32 L650.70,265.34 L651.20,265.35 L651.70,265.37 L652.20,265.38 L652.70,265.40 L653.20,265.41 L653.70,265.43 L654.20,265.44 L654.70,265.45 L655.20,265.47 L655.70,265.48 L656.20,265.49 L656.70,265.50 L657.20,265.51 L657.70,265.53 L658.20,265.54 L658.70,265.55 L659.20,265.56 L659.70,265.57 L660.20,265.58 L660.70,265.59 L661.20,265.60 L661.70,265.60 L662.20,265.61 L662.70,265.62 L663.20,265.63 L663.70,265.64 L664.20,265.64 L664.70,265.65 L665.20,265.66 L665.70,265.66 L666.20,265.67 L666.70,265.68 L667.20,265.68 L667.70,265.69 L668.20,265.69 L668.70,265.70 L669.20,265.70 L669.70,265.71 L670.20,265.71 L670.70,265.72 L671.20,265.72 L671.70,265.73 L672.20,265.73 L672.70,265.73 L673.20,265.74 L673.70,265.74 L674.20,265.75 L674.70,265.75 L675.20,265.75 L675.70,265.75 L676.20,265.76 L676.70,265.76 L677.20,265.76 L677.70,265.76 L678.20,265.77 L678.70,265.77 L679.20,265.77 L679.70,265.77 L680.20,265.77 L680.70,265.78 L681.20,265.78 L681.70,265.78 L682.20,265.78 L682.70,265.78 L683.20,265.78 L683.70,265.78 L684.20,265.78 L684.70,265.79 L685.20,265.79 L685.70,265.79 L686.20,265.79 L686.70,265.79 L687.20,265.79 L687.70,265.79 L688.20,265.79 L688.70,265.79 L689.20,265.79 L689.70,265.79 L690.20,265.79 L690.70,265.79 L691.20,265.79 L691.70,265.79 L692.20,265.80 L692.70,265.80 L693.20,265.80 L693.70,265.80 L694.20,265.80 L694.70,265.80 L695.20,265.80 L695.70,265.80 L696.20,265.80 L696.70,265.80 L697.20,265.80 L697.70,265.80 L698.20,265.80 L698.70,265.80 L699.20,265.80 L699.70,265.80 L700.20,265.80 L700.70,265.80 L701.20,265.80 L701.70,265.80 L702.20,265.80 L702.70,265.80 L703.20,265.80 L703.70,265.80 L704.20,265.80 L704.70,265.80 L705.20,265.80 L705.70,265.80 L706.20,265.80 L706.70,265.80 L707.20,265.80 L707.70,265.80 L708.20,265.80 L708.70,265.80 L709.20,265.80 L709.70,265.80 L710.20,265.80 L710.70,265.80 L711.20,265.80 L711.70,265.80 L712.20,265.80 L712.70,265.80 L713.20,265.80 L713.70,265.80 L714.20,265.80 L714.70,265.80 L715.20,265.80 L715.70,265.80 L716.20,265.80 L716.70,265.80 L717.20,265.80 L717.70,265.80 L718.20,265.80 L718.70,265.80 L719.20,265.80 L719.70,265.80 L720.20,265.80 L720.70,265.80 L721.20,265.80 L721.70,265.80 L722.20,265.80 L722.70,265.80 L723.20,265.80 L723.70,265.80 L724.20,265.80 L724.70,265.80 L725.20,265.80 L725.70,265.80 L726.20,265.80 L726.70,265.80 L727.20,265.80 L727.70,265.80 L728.20,265.80 L728.70,265.80 L729.20,265.80 L729.70,265.80 L730.20,265.80 L730.70,265.80 L731.20,265.80 L731.70,265.80 L732.20,265.80 L732.70,265.80 L733.20,265.80 L733.70,265.80 L734.20,265.80 L734.70,265.80 L735.20,265.80 L735.70,265.80 L736.20,265.80 L736.70,265.80 L737.20,265.80 L737.70,265.80 L738.20,265.80 L738.70,265.80 L739.20,265.80 L739.70,265.80 L740.20,265.80 L740.70,265.80 L741.20,265.80 L741.70,265.80 L742.20,265.80 L742.70,265.80 L743.20,265.80 L743.70,265.80 L744.20,265.80 L744.70,265.80 L745.20,265.80 L745.70,265.80 L746.20,265.80 L746.70,265.80 L747.20,265.80 L747.70,265.80 L748.20,265.80 L748.70,265.80 L749.20,265.80 L749.70,265.80 L750.20,265.80 L750.70,265.80 L751.20,265.80 L751.70,265.80 L752.20,265.80 L752.70,265.80 L753.20,265.80 L753.70,265.80 L754.20,265.80 L754.70,265.80 L755.20,265.80 L755.70,265.80 L756.20,265.80 L756.70,265.80 L757.20,265.80 L757.70,265.80 L758.20,265.80 L758.70,265.80 L759.20,265.80 L759.70,265.80 L760.20,265.80 L760.70,265.80 L761.20,265.80 L761.70,265.80 L762.20,265.80 L762.70,265.80 L763.20,265.80 L763.70,265.80 L764.20,265.80 L764.70,265.80 L765.20,265.80 L765.70,265.80 L766.20,265.80 L766.70,265.80 L767.20,265.80 L767.70,265.80 L768.20,265.80 L768.70,265.80 L769.20,265.80 L769.70,265.80 L770.20,265.80 L770.70,265.80 L771.20,265.80 L771.70,265.80 L772.20,265.80 L772.70,265.80 L773.20,265.80 L773.70,265.80 L774.20,265.80" fill="none" stroke="#D3AD38" stroke-width="1.7"/>
<path d="M431.70,261.95 L432.20,261.95 L432.70,261.95 L433.20,261.95 L433.70,261.95 L434.20,261.95 L434.70,261.95 L435.20,261.95 L435.70,261.95 L436.20,261.95 L436.70,261.95 L437.20,261.95 L437.70,261.95 L438.20,261.95 L438.70,261.95 L439.20,261.95 L439.70,261.95 L440.20,261.95 L440.70,261.95 L441.20,261.95 L441.70,261.95 L442.20,261.95 L442.70,261.95 L443.20,261.95 L443.70,261.95 L444.20,261.95 L444.70,261.95 L445.20,261.95 L445.70,261.95 L446.20,261.95 L446.70,261.95 L447.20,261.95 L447.70,261.95 L448.20,261.95 L448.70,261.95 L449.20,261.95 L449.70,261.95 L450.20,261.95 L450.70,261.95 L451.20,261.95 L451.70,261.95 L452.20,261.95 L452.70,261.95 L453.20,261.95 L453.70,261.95 L454.20,261.95 L454.70,261.95 L455.20,261.95 L455.70,261.95 L456.20,261.95 L456.70,261.95 L457.20,261.95 L457.70,261.95 L458.20,261.95 L458.70,261.95 L459.20,261.95 L459.70,261.95 L460.20,261.95 L460.70,261.95 L461.20,261.95 L461.70,261.95 L462.20,261.95 L462.70,261.95 L463.20,261.95 L463.70,261.95 L464.20,261.95 L464.70,261.95 L465.20,261.95 L465.70,261.95 L466.20,261.95 L466.70,261.95 L467.20,261.95 L467.70,261.95 L468.20,261.95 L468.70,261.96 L469.20,261.96 L469.70,261.96 L470.20,261.96 L470.70,261.96 L471.20,261.96 L471.70,261.96 L472.20,261.96 L472.70,261.96 L473.20,261.96 L473.70,261.96 L474.20,261.96 L474.70,261.96 L475.20,261.96 L475.70,261.96 L476.20,261.96 L476.70,261.96 L477.20,261.96 L477.70,261.96 L478.20,261.96 L478.70,261.96 L479.20,261.96 L479.70,261.96 L480.20,261.96 L480.70,261.96 L481.20,261.96 L481.70,261.96 L482.20,261.96 L482.70,261.96 L483.20,261.96 L483.70,261.96 L484.20,261.96 L484.70,261.97 L485.20,261.97 L485.70,261.97 L486.20,261.97 L486.70,261.97 L487.20,261.97 L487.70,261.97 L488.20,261.97 L488.70,261.97 L489.20,261.97 L489.70,261.97 L490.20,261.97 L490.70,261.97 L491.20,261.97 L491.70,261.97 L492.20,261.97 L492.70,261.97 L493.20,261.97 L493.70,261.98 L494.20,261.98 L494.70,261.98 L495.20,261.98 L495.70,261.98 L496.20,261.98 L496.70,261.98 L497.20,261.98 L497.70,261.98 L498.20,261.98 L498.70,261.98 L499.20,261.98 L499.70,261.98 L500.20,261.98 L500.70,261.99 L501.20,261.99 L501.70,261.99 L502.20,261.99 L502.70,261.99 L503.20,261.99 L503.70,261.99 L504.20,261.99 L504.70,261.99 L505.20,261.99 L505.70,261.99 L506.20,261.99 L506.70,262.00 L507.20,262.00 L507.70,262.00 L508.20,262.00 L508.70,262.00 L509.20,262.00 L509.70,262.00 L510.20,262.00 L510.70,262.00 L511.20,262.00 L511.70,262.01 L512.20,262.01 L512.70,262.01 L513.20,262.01 L513.70,262.01 L514.20,262.01 L514.70,262.01 L515.20,262.01 L515.70,262.01 L516.20,262.01 L516.70,262.02 L517.20,262.02 L517.70,262.02 L518.20,262.02 L518.70,262.02 L519.20,262.02 L519.70,262.02 L520.20,262.02 L520.70,262.03 L521.20,262.03 L521.70,262.03 L522.20,262.03 L522.70,262.03 L523.20,262.03 L523.70,262.03 L524.20,262.03 L524.70,262.03 L525.20,262.04 L525.70,262.04 L526.20,262.04 L526.70,262.04 L527.20,262.04 L527.70,262.04 L528.20,262.04 L528.70,262.05 L529.20,262.05 L529.70,262.05 L530.20,262.05 L530.70,262.05 L531.20,262.05 L531.70,262.05 L532.20,262.06 L532.70,262.06 L533.20,262.06 L533.70,262.06 L534.20,262.06 L534.70,262.06 L535.20,262.06 L535.70,262.07 L536.20,262.07 L536.70,262.07 L537.20,262.07 L537.70,262.07 L538.20,262.08 L538.70,262.08 L539.20,262.08 L539.70,262.08 L540.20,262.08 L540.70,262.09 L541.20,262.09 L541.70,262.09 L542.20,262.09 L542.70,262.09 L543.20,262.10 L543.70,262.10 L544.20,262.10 L544.70,262.10 L545.20,262.11 L545.70,262.11 L546.20,262.11 L546.70,262.11 L547.20,262.12 L547.70,262.12 L548.20,262.12 L548.70,262.12 L549.20,262.13 L549.70,262.13 L550.20,262.13 L550.70,262.14 L551.20,262.14 L551.70,262.14 L552.20,262.15 L552.70,262.15 L553.20,262.15 L553.70,262.16 L554.20,262.16 L554.70,262.16 L555.20,262.17 L555.70,262.17 L556.20,262.18 L556.70,262.18 L557.20,262.18 L557.70,262.19 L558.20,262.19 L558.70,262.20 L559.20,262.20 L559.70,262.21 L560.20,262.21 L560.70,262.22 L561.20,262.22 L561.70,262.22 L562.20,262.23 L562.70,262.23 L563.20,262.24 L563.70,262.24 L564.20,262.25 L564.70,262.25 L565.20,262.26 L565.70,262.26 L566.20,262.27 L566.70,262.27 L567.20,262.28 L567.70,262.29 L568.20,262.29 L568.70,262.30 L569.20,262.30 L569.70,262.31 L570.20,262.31 L570.70,262.32 L571.20,262.32 L571.70,262.33 L572.20,262.34 L572.70,262.34 L573.20,262.35 L573.70,262.35 L574.20,262.36 L574.70,262.37 L575.20,262.37 L575.70,262.38 L576.20,262.38 L576.70,262.39 L577.20,262.40 L577.70,262.40 L578.20,262.41 L578.70,262.42 L579.20,262.42 L579.70,262.43 L580.20,262.43 L580.70,262.44 L581.20,262.45 L581.70,262.45 L582.20,262.46 L582.70,262.47 L583.20,262.47 L583.70,262.48 L584.20,262.49 L584.70,262.50 L585.20,262.50 L585.70,262.51 L586.20,262.52 L586.70,262.52 L587.20,262.53 L587.70,262.54 L588.20,262.55 L588.70,262.55 L589.20,262.56 L589.70,262.57 L590.20,262.58 L590.70,262.58 L591.20,262.59 L591.70,262.60 L592.20,262.61 L592.70,262.62 L593.20,262.62 L593.70,262.63 L594.20,262.64 L594.70,262.65 L595.20,262.66 L595.70,262.67 L596.20,262.67 L596.70,262.68 L597.20,262.69 L597.70,262.70 L598.20,262.71 L598.70,262.72 L599.20,262.73 L599.70,262.74 L600.20,262.75 L600.70,262.76 L601.20,262.77 L601.70,262.78 L602.20,262.79 L602.70,262.80 L603.20,262.81 L603.70,262.82 L604.20,262.83 L604.70,262.84 L605.20,262.86 L605.70,262.87 L606.20,262.88 L606.70,262.89 L607.20,262.90 L607.70,262.92 L608.20,262.93 L608.70,262.94 L609.20,262.95 L609.70,262.97 L610.20,262.98 L610.70,262.99 L611.20,263.01 L611.70,263.02 L612.20,263.03 L612.70,263.05 L613.20,263.06 L613.70,263.08 L614.20,263.09 L614.70,263.11 L615.20,263.12 L615.70,263.14 L616.20,263.16 L616.70,263.17 L617.20,263.19 L617.70,263.20 L618.20,263.22 L618.70,263.24 L619.20,263.26 L619.70,263.27 L620.20,263.29 L620.70,263.31 L621.20,263.33 L621.70,263.34 L622.20,263.36 L622.70,263.38 L623.20,263.40 L623.70,263.42 L624.20,263.44 L624.70,263.46 L625.20,263.48 L625.70,263.50 L626.20,263.52 L626.70,263.54 L627.20,263.56 L627.70,263.58 L628.20,263.60 L628.70,263.62 L629.20,263.64 L629.70,263.66 L630.20,263.68 L630.70,263.71 L631.20,263.73 L631.70,263.75 L632.20,263.77 L632.70,263.79 L633.20,263.81 L633.70,263.83 L634.20,263.85 L634.70,263.88 L635.20,263.90 L635.70,263.92 L636.20,263.94 L636.70,263.96 L637.20,263.98 L637.70,264.00 L638.20,264.02 L638.70,264.05 L639.20,264.07 L639.70,264.09 L640.20,264.11 L640.70,264.13 L641.20,264.15 L641.70,264.17 L642.20,264.19 L642.70,264.21 L643.20,264.23 L643.70,264.25 L644.20,264.26 L644.70,264.28 L645.20,264.30 L645.70,264.32 L646.20,264.34 L646.70,264.36 L647.20,264.37 L647.70,264.39 L648.20,264.41 L648.70,264.43 L649.20,264.44 L649.70,264.46 L650.20,264.47 L650.70,264.49 L651.20,264.50 L651.70,264.52 L652.20,264.53 L652.70,264.55 L653.20,264.56 L653.70,264.58 L654.20,264.59 L654.70,264.60 L655.20,264.62 L655.70,264.63 L656.20,264.64 L656.70,264.65 L657.20,264.66 L657.70,264.68 L658.20,264.69 L658.70,264.70 L659.20,264.71 L659.70,264.72 L660.20,264.73 L660.70,264.74 L661.20,264.75 L661.70,264.75 L662.20,264.76 L662.70,264.77 L663.20,264.78 L663.70,264.79 L664.20,264.79 L664.70,264.80 L665.20,264.81 L665.70,264.81 L666.20,264.82 L666.70,264.83 L667.20,264.83 L667.70,264.84 L668.20,264.84 L668.70,264.85 L669.20,264.85 L669.70,264.86 L670.20,264.86 L670.70,264.87 L671.20,264.87 L671.70,264.88 L672.20,264.88 L672.70,264.88 L673.20,264.89 L673.70,264.89 L674.20,264.90 L674.70,264.90 L675.20,264.90 L675.70,264.90 L676.20,264.91 L676.70,264.91 L677.20,264.91 L677.70,264.91 L678.20,264.92 L678.70,264.92 L679.20,264.92 L679.70,264.92 L680.20,264.92 L680.70,264.93 L681.20,264.93 L681.70,264.93 L682.20,264.93 L682.70,264.93 L683.20,264.93 L683.70,264.93 L684.20,264.93 L684.70,264.94 L685.20,264.94 L685.70,264.94 L686.20,264.94 L686.70,264.94 L687.20,264.94 L687.70,264.94 L688.20,264.94 L688.70,264.94 L689.20,264.94 L689.70,264.94 L690.20,264.94 L690.70,264.94 L691.20,264.94 L691.70,264.94 L692.20,264.95 L692.70,264.95 L693.20,264.95 L693.70,264.95 L694.20,264.95 L694.70,264.95 L695.20,264.95 L695.70,264.95 L696.20,264.95 L696.70,264.95 L697.20,264.95 L697.70,264.95 L698.20,264.95 L698.70,264.95 L699.20,264.95 L699.70,264.95 L700.20,264.95 L700.70,264.95 L701.20,264.95 L701.70,264.95 L702.20,264.95 L702.70,264.95 L703.20,264.95 L703.70,264.95 L704.20,264.95 L704.70,264.95 L705.20,264.95 L705.70,264.95 L706.20,264.95 L706.70,264.95 L707.20,264.95 L707.70,264.95 L708.20,264.95 L708.70,264.95 L709.20,264.95 L709.70,264.95 L710.20,264.95 L710.70,264.95 L711.20,264.95 L711.70,264.95 L712.20,264.95 L712.70,264.95 L713.20,264.95 L713.70,264.95 L714.20,264.95 L714.70,264.95 L715.20,264.95 L715.70,264.95 L716.20,264.95 L716.70,264.95 L717.20,264.95 L717.70,264.95 L718.20,264.95 L718.70,264.95 L719.20,264.95 L719.70,264.95 L720.20,264.95 L720.70,264.95 L721.20,264.95 L721.70,264.95 L722.20,264.95 L722.70,264.95 L723.20,264.95 L723.70,264.95 L724.20,264.95 L724.70,264.95 L725.20,264.95 L725.70,264.95 L726.20,264.95 L726.70,264.95 L727.20,264.95 L727.70,264.95 L728.20,264.95 L728.70,264.95 L729.20,264.95 L729.70,264.95 L730.20,264.95 L730.70,264.95 L731.20,264.95 L731.70,264.95 L732.20,264.95 L732.70,264.95 L733.20,264.95 L733.70,264.95 L734.20,264.95 L734.70,264.95 L735.20,264.95 L735.70,264.95 L736.20,264.95 L736.70,264.95 L737.20,264.95 L737.70,264.95 L738.20,264.95 L738.70,264.95 L739.20,264.95 L739.70,264.95 L740.20,264.95 L740.70,264.95 L741.20,264.95 L741.70,264.95 L742.20,264.95 L742.70,264.95 L743.20,264.95 L743.70,264.95 L744.20,264.95 L744.70,264.95 L745.20,264.95 L745.70,264.95 L746.20,264.95 L746.70,264.95 L747.20,264.95 L747.70,264.95 L748.20,264.95 L748.70,264.95 L749.20,264.95 L749.70,264.95 L750.20,264.95 L750.70,264.95 L751.20,264.95 L751.70,264.95 L752.20,264.95 L752.70,264.95 L753.20,264.95 L753.70,264.95 L754.20,264.95 L754.70,264.95 L755.20,264.95 L755.70,264.95 L756.20,264.95 L756.70,264.95 L757.20,264.95 L757.70,264.95 L758.20,264.95 L758.70,264.95 L759.20,264.95 L759.70,264.95 L760.20,264.95 L760.70,264.95 L761.20,264.95 L761.70,264.95 L762.20,264.95 L762.70,264.95 L763.20,264.95 L763.70,264.95 L764.20,264.95 L764.70,264.95 L765.20,264.95 L765.70,264.95 L766.20,264.95 L766.70,264.95 L767.20,264.95 L767.70,264.95 L768.20,264.95 L768.70,264.95 L769.20,264.95 L769.70,264.95 L770.20,264.95 L770.70,264.95 L771.20,264.95 L771.70,264.95 L772.20,264.95 L772.70,264.95 L773.20,264.95 L773.70,264.95 L774.20,264.95" fill="none" stroke="#2e2616" stroke-width="0.9" opacity="0.75"/>
<line x1="635.00" y1="84.00" x2="635.00" y2="134.00" stroke="#000" stroke-width="2.3" stroke-dasharray="2 2"/>
<text transform="translate(640.00,80.50) rotate(-90)" class="lab">530.08 eV</text>
<line x1="600.00" y1="164.00" x2="600.00" y2="244.00" stroke="#000" stroke-width="2.3" stroke-dasharray="2 2"/>
<text transform="translate(606.00,160.50) rotate(-90)" class="lab">531.08 eV</text>
<line x1="569.00" y1="185.00" x2="569.00" y2="246.00" stroke="#000" stroke-width="2.3" stroke-dasharray="2 2"/>
<text transform="translate(575.70,180.10) rotate(-90)" class="lab">531.98 eV</text>
<line x1="523.40" y1="236.20" x2="523.40" y2="260.00" stroke="#000" stroke-width="2.3" stroke-dasharray="2 2"/>
<text transform="translate(528.80,232.70) rotate(-90)" class="lab">533.28 eV</text>
<path d="M430.70,3.70 H775.40 V282.00 H430.70 Z" fill="none" stroke="#000" stroke-width="1.6"/>
<line x1="775.20" y1="282.00" x2="775.20" y2="287.30" stroke="#000" stroke-width="1.5"/>
<text x="775.20" y="299.9" class="tick" text-anchor="middle">526</text>
<line x1="740.75" y1="282.00" x2="740.75" y2="285.00" stroke="#000" stroke-width="1.5"/>
<line x1="706.30" y1="282.00" x2="706.30" y2="287.30" stroke="#000" stroke-width="1.5"/>
<text x="706.30" y="299.9" class="tick" text-anchor="middle">528</text>
<line x1="671.85" y1="282.00" x2="671.85" y2="285.00" stroke="#000" stroke-width="1.5"/>
<line x1="637.40" y1="282.00" x2="637.40" y2="287.30" stroke="#000" stroke-width="1.5"/>
<text x="637.40" y="299.9" class="tick" text-anchor="middle">530</text>
<line x1="602.95" y1="282.00" x2="602.95" y2="285.00" stroke="#000" stroke-width="1.5"/>
<line x1="568.50" y1="282.00" x2="568.50" y2="287.30" stroke="#000" stroke-width="1.5"/>
<text x="568.50" y="299.9" class="tick" text-anchor="middle">532</text>
<line x1="534.05" y1="282.00" x2="534.05" y2="285.00" stroke="#000" stroke-width="1.5"/>
<line x1="499.60" y1="282.00" x2="499.60" y2="287.30" stroke="#000" stroke-width="1.5"/>
<text x="499.60" y="299.9" class="tick" text-anchor="middle">534</text>
<line x1="465.15" y1="282.00" x2="465.15" y2="285.00" stroke="#000" stroke-width="1.5"/>
<line x1="430.70" y1="282.00" x2="430.70" y2="287.30" stroke="#000" stroke-width="1.5"/>
<text x="430.70" y="299.9" class="tick" text-anchor="middle">536</text>
<text x="35.8" y="31.2" class="par">(</text><text transform="translate(45.2,31.8) scale(1.09,1)" class="big" style="font-size:23.5px">a</text><text x="60.7" y="31.2" class="par">)</text>
<text x="435.0" y="29.3" class="par">(</text><text x="444.3" y="29.6" class="big">b</text><text x="461.6" y="29.3" class="par">)</text>
<path d="M337.5,5.6 V27.3 M334.8,27.3 H372.8 M334.8,27.3 V49.3 H372.8" fill="none" stroke="#000" stroke-width="1.3"/>
<text x="339.0" y="22.3" class="box">ZnO</text>
<text x="336.6" y="44.3" class="box">O 1s</text>
<path d="M687.7,3.7 V28.8 H775.4 M737.7,28.8 V50.5 H775.4" fill="none" stroke="#000" stroke-width="1.3"/>
<text x="688.5" y="21.0" class="box">ZnN<tspan font-size="10.9px" dy="4.4">0.01</tspan><tspan dy="-4.4" dx="-0.4">O</tspan><tspan font-size="10.9px" dy="4.4">0.99</tspan></text>
<text x="739.0" y="45.8" class="box">O 1s</text>
<text transform="translate(15.9,150.5) rotate(-90)" class="ax" text-anchor="middle">Intensity (counts/sec)</text>
<text transform="translate(416.5,149.3) rotate(-90)" class="ax" text-anchor="middle">Intensity (counts/sec)</text>
<text x="199.3" y="319.5" class="ax" text-anchor="middle">Binding energy (eV)</text>
<text x="601" y="319.7" class="ax" text-anchor="middle">Binding energy (eV)</text>
</svg>
</body></html>
